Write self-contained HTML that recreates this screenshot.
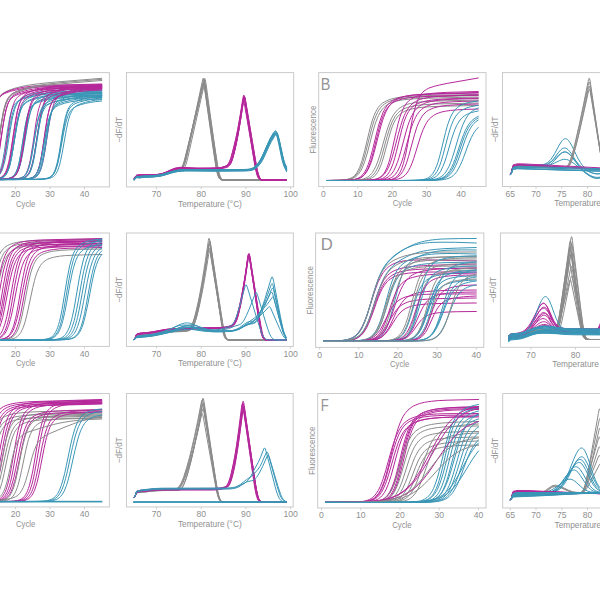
<!DOCTYPE html>
<html lang="en">
<head>
<meta charset="utf-8">
<title>qPCR amplification and melt curves</title>
<style>
html,body{margin:0;padding:0;background:#fff;}
body{width:600px;height:600px;overflow:hidden;font-family:"Liberation Sans", sans-serif;}
svg{display:block;}
</style>
</head>
<body>
<svg width="600" height="600" viewBox="0 0 600 600" role="img" aria-label="qPCR amplification and melt curve panels">
<rect width="600" height="600" fill="#fff"/>
<defs>
<clipPath id="cA"><rect x="-58.0" y="72.6" width="167.4" height="114.3"/></clipPath>
<clipPath id="cA2"><rect x="126.45" y="72.6" width="167.2" height="114.3"/></clipPath>
<clipPath id="cB"><rect x="318.7" y="72.6" width="167.3" height="113.9"/></clipPath>
<clipPath id="cB2"><rect x="502.5" y="72.6" width="167.5" height="113.9"/></clipPath>
<clipPath id="cC"><rect x="-58.0" y="233.0" width="167.4" height="113.4"/></clipPath>
<clipPath id="cC2"><rect x="126.45" y="233.0" width="166.9" height="113.4"/></clipPath>
<clipPath id="cD"><rect x="315.6" y="233.0" width="168.2" height="114.4"/></clipPath>
<clipPath id="cD2"><rect x="500.4" y="233.0" width="167.6" height="114.3"/></clipPath>
<clipPath id="cE"><rect x="-58.0" y="393.55" width="167.4" height="113.4"/></clipPath>
<clipPath id="cE2"><rect x="126.45" y="393.55" width="166.7" height="113.4"/></clipPath>
<clipPath id="cF"><rect x="317.7" y="393.55" width="168.3" height="114.4"/></clipPath>
<clipPath id="cF2"><rect x="502.7" y="393.55" width="167.3" height="114.4"/></clipPath>
</defs>
<g clip-path="url(#cA)" fill="none" stroke-linejoin="round" stroke-linecap="round">
<path d="M-50 179.6l15.5-0.3 4.3-0.2 3.4-0.5 2.6-0.7 1.8-0.8 0.8-0.6 0.9-0.8 0.8-1 0.9-1.3 0.9-1.6 0.8-2.1 0.9-2.6 0.9-3.1 0.8-3.8 1.7-9.4 4.4-28.7 1.7-9.4 0.8-3.7 0.9-3.2 0.9-2.7 0.8-2.1 0.9-1.8 0.9-1.4 0.8-1.2 0.9-1 0.8-0.8 1.8-1.3 2.6-1.5 2.5-1.2 3.5-1.3 3.4-1.2 3.5-0.9 4.3-1.1 4.3-0.8 4.3-0.7 8.7-1.2 12-1.2 50-4.1" stroke="#8b8b8b" stroke-width="1.0"/>
<path d="M-50 179.6l10.3-0.1 6.9-0.2 4.3-0.2 3.5-0.5 2.6-0.7 1.7-0.8 0.8-0.7 0.9-0.8 0.9-1 0.8-1.3 0.9-1.7 0.9-2.1 0.8-2.6 0.9-3.3 0.8-3.8 1.8-9.8 4.3-29.3 1.7-9.3 0.9-3.8 0.8-3 0.9-2.6 0.9-2.1 0.8-1.6 0.9-1.4 0.8-1.1 0.9-0.9 0.9-0.7 1.7-1.2 2.6-1.3 2.6-1 3.4-1.1 3.5-0.9 3.4-0.7 4.3-0.8 7.8-1 8.6-0.6 12.1-0.5 49.1-1.1" stroke="#b5289a" stroke-width="1.0"/>
<path d="M-50 179.6l15.5-0.3 4.3-0.2 3.4-0.4 2.6-0.7 1.8-0.8 0.8-0.6 0.9-0.8 0.8-0.9 0.9-1.2 0.9-1.6 0.8-1.9 0.9-2.5 0.9-3 0.8-3.6 1.7-9.1 3.5-22.8 1.7-10.6 0.9-4.5 0.8-3.8 0.9-3.3 0.9-2.7 0.8-2.2 0.9-1.8 0.9-1.5 0.8-1.1 0.9-1 0.8-0.8 1.8-1.3 1.7-0.9 2.6-1.1 3.4-1.2 3.5-0.9 3.4-0.8 4.3-0.9 4.4-0.6 4.3-0.4 8.6-0.7 12.1-0.5 50.9-1.1" stroke="#b5289a" stroke-width="1.0"/>
<path d="M-50 179.6l21.5-0.2 6.1-0.2 4.3-0.3 2.6-0.5 1.7-0.5 0.8-0.3 1.8-1.1 0.8-0.7 0.9-1 0.9-1.2 0.8-1.6 0.9-2 0.8-2.5 0.9-3.1 0.9-3.7 1.7-9.4 3.4-23.4 1.8-10.7 0.8-4.5 0.9-3.9 0.9-3.2 0.8-2.7 0.9-2.1 0.8-1.8 0.9-1.4 0.9-1.2 0.8-0.9 0.9-0.8 1.7-1.3 1.7-0.9 2.6-1.1 3.5-1.2 3.4-0.9 3.5-0.8 4.3-0.8 3.4-0.5 4.4-0.6 8.6-0.6 10.3-0.5 14.7-0.4 28.5-0.6" stroke="#b5289a" stroke-width="1.0"/>
<path d="M-50 179.6l23.2-0.2 6.1-0.2 4.3-0.4 2.6-0.5 1.7-0.6 0.9-0.4 1.7-1.2 0.9-0.8 0.8-1.1 0.9-1.4 0.8-1.7 0.9-2.1 0.9-2.6 0.8-3.2 0.9-3.8 1.7-9.3 3.5-22.3 1.7-10.1 0.9-4.2 0.8-3.6 0.9-3.1 0.8-2.6 0.9-2.1 0.9-1.7 0.8-1.4 0.9-1.2 0.8-0.9 0.9-0.8 1.7-1.3 1.8-0.9 2.6-1.2 2.5-0.8 3.5-1 3.4-0.9 4.4-0.8 3.4-0.5 4.3-0.5 8.6-0.7 10.4-0.5 14.7-0.4 27.5-0.6" stroke="#b5289a" stroke-width="1.0"/>
<path d="M-50 179.6l21.5-0.2 6.1-0.2 4.3-0.3 2.6-0.5 1.7-0.4 0.8-0.4 1.8-1.1 0.8-0.7 0.9-1 0.9-1.3 0.8-1.7 0.9-2.1 0.8-2.6 0.9-3.3 0.9-3.9 1.7-9.9 4.3-29.5 0.9-4.9 0.8-4.3 0.9-3.7 0.9-3 0.8-2.4 0.9-2 0.8-1.6 0.9-1.3 0.9-1.1 0.8-0.9 1.7-1.4 1.8-1.1 2.6-1.2 3.4-1.4 3.5-1.2 3.4-1.1 4.3-1.1 3.5-0.7 4.3-0.8 8.6-1.2 10.4-1.1 15.5-1.4 28.5-2.3" stroke="#8b8b8b" stroke-width="1.0"/>
<path d="M-50 179.6l22.4-0.2 6-0.3 3.5-0.3 2.6-0.5 1.7-0.6 0.8-0.5 0.9-0.5 0.9-0.7 0.8-0.9 0.9-1.1 0.9-1.4 0.8-1.7 0.9-2.2 0.8-2.7 0.9-3.3 0.9-3.8 1.7-9.4 4.3-27.4 1.7-8.8 0.9-3.6 0.9-3 0.8-2.5 0.9-2.1 0.8-1.7 0.9-1.5 0.9-1.1 0.8-1 0.9-0.8 1.7-1.4 1.7-1 2.6-1.3 3.5-1.3 3.4-1.2 3.5-1 4.3-1.1 3.4-0.7 4.4-0.7 8.6-1.2 10.3-1 14.7-1.3 28.5-2.3" stroke="#8b8b8b" stroke-width="1.0"/>
<path d="M-50 179.6l24.1-0.2 6-0.2 4.4-0.3 2.5-0.5 1.8-0.5 0.8-0.3 0.9-0.5 0.9-0.6 0.8-0.9 0.9-1 0.8-1.4 0.9-1.8 0.9-2.3 0.8-2.9 0.9-3.6 0.9-4.3 0.8-5.1 4.3-29.8 0.9-5.2 0.9-4.4 0.8-3.8 0.9-3.1 0.8-2.5 0.9-2 0.9-1.6 0.8-1.3 0.9-1 0.8-0.8 1.8-1.3 1.7-0.9 2.6-1.1 3.4-1.1 3.5-1 3.4-0.8 4.4-0.8 3.4-0.5 4.3-0.6 8.6-0.6 10.4-0.5 14.7-0.4 27.5-0.6" stroke="#b5289a" stroke-width="1.0"/>
<path d="M-50 179.6l27.6-0.1 6.9-0.2 5.1-0.3 3.5-0.5 1.7-0.5 0.9-0.3 1.7-1 0.9-0.7 0.8-0.8 0.9-1.1 0.8-1.3 0.9-1.7 0.9-2.1 0.8-2.6 0.9-3.1 0.9-3.6 1.7-8.9 3.4-21.2 1.7-9.6 0.9-4.1 0.9-3.5 0.8-3 0.9-2.5 0.9-2.1 0.8-1.7 0.9-1.4 0.9-1.2 0.8-0.9 0.9-0.8 1.7-1.3 1.7-1 2.6-1.1 2.6-0.9 3.4-0.9 3.5-0.8 3.5-0.7 3.4-0.5 4.3-0.6 7.8-0.6 10.3-0.5 13.8-0.4 22.5-0.5" stroke="#3a96b6" stroke-width="1.0"/>
<path d="M-50 179.6l26.7-0.1 6.9-0.2 5.2-0.3 3.4-0.4 2.6-0.8 1.7-0.9 0.9-0.6 0.9-0.9 0.8-1 0.9-1.4 0.8-1.7 0.9-2.1 0.9-2.6 0.8-3.2 0.9-3.8 1.7-9.2 4.3-26.6 1.7-8.4 0.9-3.3 0.9-2.7 0.8-2.3 0.9-1.8 0.9-1.5 0.8-1.2 1.8-1.8 0.8-0.7 1.7-1.1 1.8-0.9 2.6-1 2.5-0.8 3.5-0.9 3.4-0.8 3.5-0.6 3.4-0.5 4.4-0.5 7.7-0.6 10.4-0.5 13.8-0.4 23.2-0.5" stroke="#3a96b6" stroke-width="1.0"/>
<path d="M-50 179.6l25.8-0.1 6.9-0.2 5.2-0.3 3.5-0.4 1.7-0.4 0.8-0.3 1.8-1 0.8-0.6 0.9-0.9 0.9-1.2 0.8-1.5 0.9-2 0.8-2.4 0.9-3.1 0.9-3.8 1.7-9.6 3.4-23 0.9-5.2 0.9-4.5 0.8-3.9 0.9-3.3 0.8-2.6 0.9-2.1 0.9-1.6 0.8-1.4 0.9-1 0.9-0.9 0.8-0.7 1.8-1 2.5-1.2 2.6-0.9 3.5-1 3.4-0.8 3.5-0.8 3.4-0.6 7.8-0.9 7.8-0.6 10.3-0.4 13.8-0.4 24.2-0.5" stroke="#3a96b6" stroke-width="1.0"/>
<path d="M-50 179.6l26.7-0.1 6.9-0.2 5.2-0.3 3.4-0.4 2.6-0.7 1.7-0.9 0.9-0.7 0.9-0.8 0.8-1.1 0.9-1.4 0.8-1.9 0.9-2.4 0.9-3 0.8-3.6 0.9-4.4 0.9-5.1 4.3-30.2 0.8-5.2 0.9-4.5 0.8-3.7 0.9-3.1 0.9-2.5 0.8-2.1 0.9-1.5 0.9-1.3 0.8-1 0.9-0.9 1.7-1.2 1.7-1 2.6-1.1 3.5-1.1 3.4-1 3.5-0.8 3.4-0.7 3.5-0.5 4.3-0.6 7.8-0.6 10.3-0.6 13.8-0.4 24.2-0.5" stroke="#b5289a" stroke-width="1.0"/>
<path d="M-50 179.6l30.1-0.1 8.7-0.2 5.1-0.2 3.5-0.4 2.6-0.6 1.7-0.8 0.9-0.5 0.8-0.7 0.9-0.9 0.9-1.2 0.8-1.5 0.9-1.9 0.8-2.4 0.9-3 0.9-3.7 0.8-4.4 0.9-5.1 4.3-30 1.7-9.7 0.9-3.9 0.9-3.2 0.8-2.7 0.9-2.1 0.8-1.7 0.9-1.3 0.9-1.1 0.8-0.9 1.8-1.4 1.7-1 2.6-1.1 2.6-0.9 3.4-1.1 3.5-0.8 3.4-0.8 3.5-0.6 4.3-0.6 7.7-0.7 9.5-0.5 13-0.4 20.7-0.5" stroke="#b5289a" stroke-width="1.0"/>
<path d="M-50 179.6l30.1-0.1 7.8-0.2 5.2-0.2 3.4-0.4 2.6-0.6 1.7-0.7 0.9-0.5 0.9-0.7 0.8-0.8 0.9-1.1 0.9-1.4 0.8-1.8 0.9-2.3 0.8-2.7 0.9-3.4 0.9-4.1 1.7-9.9 2.6-17.4 1.7-10.9 0.9-4.7 0.8-4 0.9-3.3 0.9-2.8 0.8-2.3 0.9-1.9 0.8-1.5 0.9-1.2 0.9-1 0.8-0.8 1.8-1.3 1.7-0.9 2.6-1.1 2.6-0.9 3.4-1 3.5-0.8 3.4-0.7 3.5-0.6 4.3-0.6 7.7-0.6 9.5-0.5 13-0.4 20.7-0.5" stroke="#b5289a" stroke-width="1.0"/>
<path d="M-50 179.6l31-0.1 7.8-0.2 5.1-0.2 3.5-0.4 2.6-0.6 1.7-0.7 0.9-0.5 0.8-0.6 0.9-0.8 0.9-1 0.8-1.2 0.9-1.6 0.8-2 0.9-2.5 0.9-2.9 0.8-3.6 1.7-8.8 3.5-21.5 1.7-10 0.9-4.3 0.9-3.6 0.8-3.2 0.9-2.6 0.8-2.2 0.9-1.8 0.9-1.4 0.8-1.2 0.9-1 0.9-0.8 1.7-1.3 1.7-1 2.6-1.1 2.6-0.9 2.6-0.7 3.4-0.9 3.5-0.7 3.4-0.6 4.3-0.6 7.8-0.6 9.5-0.6 12.1-0.3 20.7-0.5" stroke="#b5289a" stroke-width="1.0"/>
<path d="M-50 179.6l31-0.1 8.6-0.2 5.2-0.2 3.5-0.4 2.5-0.7 1.8-0.7 0.8-0.5 0.9-0.7 0.9-0.9 0.8-1.1 0.9-1.4 0.8-1.7 0.9-2.3 0.9-2.7 0.8-3.3 0.9-3.8 1.7-9.5 2.6-16.4 1.7-10.3 1.8-8.2 0.8-3.2 0.9-2.7 0.8-2.2 0.9-1.8 0.9-1.5 0.8-1.2 0.9-1 0.9-0.8 1.7-1.3 1.7-0.9 1.7-0.7 2.6-1 3.5-1 3.4-0.8 3.5-0.7 3.4-0.6 4.3-0.6 7.8-0.7 9.5-0.5 12.1-0.3 20.7-0.5" stroke="#3a96b6" stroke-width="1.0"/>
<path d="M-50 179.6l31-0.1 8.6-0.2 5.2-0.2 3.5-0.4 2.5-0.6 1.8-0.8 0.8-0.5 0.9-0.7 0.9-0.8 0.8-1.1 0.9-1.4 0.8-1.8 0.9-2.2 0.9-2.7 0.8-3.2 1.7-8.2 4.4-25.9 0.8-4.8 0.9-4.2 0.9-3.7 0.8-3.1 0.9-2.5 0.8-2.2 0.9-1.7 0.9-1.4 0.8-1.2 0.9-0.9 0.9-0.8 1.7-1.2 1.7-0.9 1.7-0.8 2.6-0.9 3.5-0.9 3.4-0.8 3.5-0.7 3.4-0.6 4.3-0.5 7.8-0.7 9.5-0.5 12.1-0.4 20.7-0.4" stroke="#3a96b6" stroke-width="1.0"/>
<path d="M-50 179.6l31-0.1 8.6-0.2 5.2-0.2 3.5-0.3 2.5-0.6 1.8-0.7 0.8-0.4 0.9-0.7 0.9-0.8 0.8-1 0.9-1.3 0.8-1.8 0.9-2.1 0.9-2.7 0.8-3.3 0.9-4 0.8-4.5 3.5-21.7 1.7-10 0.9-4.2 0.9-3.6 0.8-2.9 0.9-2.4 0.8-2 0.9-1.5 0.9-1.3 0.8-1 0.9-0.8 0.9-0.7 1.7-1.1 1.7-0.8 2.6-1 2.6-0.7 3.4-0.9 3.5-0.8 3.4-0.6 3.5-0.6 4.3-0.5 6.9-0.5 9.5-0.5 12.1-0.4 20.7-0.4" stroke="#3a96b6" stroke-width="1.0"/>
<path d="M-50 179.6l35.3-0.1 15.5-0.2 4.4-0.3 3.4-0.4 2.6-0.6 1.7-0.8 1.7-1.2 0.9-0.9 0.9-1.1 0.8-1.4 0.9-1.7 0.9-2.1 0.8-2.6 0.9-3.1 1.7-7.8 1.7-9.7 3.5-20.6 1.7-8.3 0.9-3.4 0.8-2.9 0.9-2.4 0.9-2 0.8-1.7 0.9-1.3 0.8-1.1 0.9-1 1.7-1.4 1.8-1 1.7-0.9 2.6-1 2.6-0.8 3.4-0.9 3.5-0.7 4.3-0.8 7.7-0.9 8.7-0.6 11.2-0.5 16.3-0.4" stroke="#3a96b6" stroke-width="1.0"/>
<path d="M-50 179.6l35.3-0.1 15.5-0.2 4.4-0.2 3.4-0.5 2.6-0.6 1.7-0.8 0.9-0.6 0.8-0.7 0.9-0.9 0.9-1.2 0.8-1.5 0.9-1.8 0.9-2.3 0.8-2.8 0.9-3.4 1.7-8.4 4.3-25.8 1.7-8.6 0.9-3.5 0.9-3 0.8-2.5 0.9-2 0.9-1.6 0.8-1.4 0.9-1.1 0.8-0.9 1.8-1.4 1.7-1 1.7-0.8 2.6-1 3.5-1 3.4-0.8 3.5-0.7 4.3-0.7 7.7-0.9 8.7-0.6 11.2-0.4 16.3-0.4" stroke="#3a96b6" stroke-width="1.0"/>
<path d="M-50 179.6l33.6-0.1 15.5-0.2 4.3-0.2 3.5-0.3 2.6-0.6 1.7-0.7 0.8-0.5 0.9-0.6 0.9-0.8 0.8-1.1 0.9-1.4 0.9-1.7 0.8-2.2 0.9-2.8 0.9-3.4 1.7-8.6 4.3-26.9 1.7-8.7 0.9-3.4 0.8-2.8 0.9-2.3 0.9-1.8 0.8-1.5 0.9-1.2 0.9-1 1.7-1.4 1.7-1 1.7-0.8 2.6-0.9 3.5-1 4.3-1.1 3.4-0.7 4.3-0.6 7.8-0.9 8.6-0.6 11.2-0.4 18.2-0.4" stroke="#3a96b6" stroke-width="1.0"/>
<path d="M-50 179.6l35.3-0.1 15.5-0.3 4.4-0.2 2.5-0.4 2.6-0.6 1.7-0.8 0.9-0.7 0.9-0.8 0.8-1 0.9-1.4 0.9-1.7 0.8-2.2 0.9-2.8 0.9-3.4 0.8-4.1 0.9-4.7 4.3-27.1 0.9-4.6 0.8-3.9 0.9-3.3 0.8-2.7 0.9-2.2 0.9-1.7 0.8-1.4 0.9-1.1 0.9-0.9 1.7-1.4 1.7-0.9 1.7-0.8 2.6-0.8 3.5-1 4.3-1 3.4-0.7 4.3-0.7 7.8-0.8 8.6-0.6 11.2-0.4 18.2-0.4" stroke="#3a96b6" stroke-width="1.0"/>
<path d="M-50 179.6l34.5-0.1 16.3-0.2 4.4-0.3 3.4-0.4 2.6-0.7 1.7-0.8 0.9-0.6 0.8-0.8 0.9-1 0.9-1.3 0.8-1.6 0.9-2.1 0.9-2.6 0.8-3.2 0.9-3.9 1.7-9.7 4.3-29.1 1.7-9.2 0.9-3.7 0.9-3 0.8-2.5 0.9-2 0.9-1.6 0.8-1.3 0.9-1 1.7-1.6 1.7-1.2 1.8-0.9 2.5-1 3.5-1.1 3.4-0.9 3.5-0.8 4.3-0.8 3.5-0.5 4.3-0.5 8.6-0.7 11.2-0.4 17.2-0.5" stroke="#b5289a" stroke-width="1.0"/>
<path d="M-50 179.6l34.5-0.1 16.3-0.2 4.4-0.2 3.4-0.4 2.6-0.7 1.7-0.7 0.9-0.5 0.8-0.7 0.9-0.9 0.9-1.2 0.8-1.5 0.9-1.9 0.9-2.3 0.8-3 0.9-3.6 1.7-9.1 4.3-28.5 1.7-9.4 0.9-3.8 0.9-3.1 0.8-2.6 0.9-2.1 0.9-1.7 0.8-1.4 0.9-1.1 0.8-0.9 1.8-1.4 1.7-1 1.7-0.8 2.6-0.9 3.5-1.1 3.4-0.9 3.5-0.7 4.3-0.8 7.7-0.9 8.7-0.6 11.2-0.5 16.3-0.4" stroke="#b5289a" stroke-width="1.0"/>
<path d="M-50 179.6l43.9 0 18.1-0.3 5.2-0.3 3.5-0.4 2.6-0.7 1.7-0.8 0.9-0.6 0.8-0.7 0.9-1 0.8-1.1 0.9-1.5 0.9-1.9 0.8-2.3 0.9-2.8 0.9-3.4 1.7-8.6 1.7-10.6 2.6-17 1.7-9.9 0.9-4.1 0.8-3.5 0.9-3 0.9-2.5 0.8-2 0.9-1.7 0.9-1.3 0.8-1.2 0.9-0.9 1.7-1.4 1.7-1.1 1.8-0.9 2.5-1 3.5-1.1 3.4-0.9 3.5-0.7 6.9-1.2 6.9-0.7 9.5-0.6 12-0.4" stroke="#b5289a" stroke-width="1.0"/>
<path d="M-50 179.6l41.4-0.1 18.1-0.2 5.1-0.3 3.5-0.4 2.6-0.6 1.7-0.8 0.9-0.5 0.8-0.8 0.9-0.9 0.9-1.3 0.8-1.6 0.9-2 0.8-2.6 0.9-3.2 0.9-3.8 0.8-4.6 1.8-11 3.4-23.6 0.9-4.9 0.8-4.2 0.9-3.6 0.9-2.9 0.8-2.4 0.9-1.9 0.8-1.5 0.9-1.2 0.9-1 0.8-0.8 1.8-1.2 1.7-1 2.6-1 3.4-1.2 3.5-0.9 3.4-0.8 3.5-0.7 6.9-1 7.7-0.7 9.5-0.5 13-0.4" stroke="#b5289a" stroke-width="1.0"/>
<path d="M-50 179.6l43.9 0 18.1-0.3 5.2-0.2 3.5-0.4 2.6-0.6 1.7-0.7 0.9-0.6 0.8-0.6 0.9-0.9 0.8-1.1 0.9-1.4 0.9-1.8 0.8-2.2 0.9-2.8 0.9-3.4 0.8-4 0.9-4.6 4.3-28 1.7-9.6 0.9-3.9 0.8-3.3 0.9-2.7 0.9-2.2 0.8-1.8 0.9-1.4 0.9-1.2 0.8-1 1.7-1.4 1.8-1.1 1.7-0.8 2.6-1 3.4-1.1 3.5-0.9 3.4-0.7 6.9-1.1 7.8-0.8 9.5-0.6 12-0.4" stroke="#b5289a" stroke-width="1.0"/>
<path d="M-50 179.6l44.8 0 18.1-0.3 5.2-0.3 3.4-0.4 2.6-0.6 1.8-0.8 0.8-0.6 0.9-0.8 0.8-1 0.9-1.2 0.9-1.6 0.8-2 0.9-2.6 0.9-3.1 0.8-3.7 0.9-4.3 0.8-4.9 4.4-27.3 0.8-4.6 0.9-3.9 0.8-3.4 0.9-2.7 0.9-2.3 0.8-1.8 0.9-1.5 0.9-1.2 0.8-0.9 1.7-1.5 1.8-1 1.7-0.8 2.6-1 3.4-1.1 3.5-0.8 3.4-0.8 6.9-1.1 7.8-0.7 9.5-0.6 12-0.4" stroke="#3a96b6" stroke-width="1.0"/>
<path d="M-50 179.6l42.2 0 17.3-0.3 5.1-0.2 3.5-0.4 2.6-0.7 1.7-0.8 0.9-0.5 0.8-0.7 0.9-0.9 0.9-1.2 0.8-1.4 0.9-1.9 0.8-2.3 0.9-2.8 0.9-3.3 1.7-8.4 4.3-25.6 1.7-8.5 0.9-3.4 0.9-2.9 0.8-2.4 0.9-2 0.8-1.6 0.9-1.3 0.9-1 0.8-0.9 1.8-1.3 1.7-1 2.6-1.1 2.6-0.8 3.4-1 3.5-0.8 3.4-0.6 6.9-1 7.8-0.7 9.5-0.5 13.8-0.4" stroke="#3a96b6" stroke-width="1.0"/>
<path d="M-50 179.6l43.9 0 18.1-0.3 5.2-0.2 3.5-0.4 2.6-0.5 1.7-0.7 0.9-0.5 0.8-0.7 0.9-0.9 0.8-1.1 0.9-1.4 0.9-1.8 0.8-2.2 0.9-2.9 0.9-3.4 1.7-8.7 4.3-26.3 1.7-8.3 0.9-3.3 0.8-2.7 0.9-2.2 0.9-1.8 0.8-1.4 0.9-1.2 0.9-0.9 0.8-0.7 1.7-1.2 1.8-0.9 2.6-1 2.5-0.8 3.5-0.9 3.4-0.7 3.5-0.7 6-0.8 7.8-0.7 9.5-0.5 12-0.4" stroke="#3a96b6" stroke-width="1.0"/>
<path d="M-50 179.6l41.4 0 18.1-0.3 5.1-0.2 3.5-0.3 2.6-0.6 1.7-0.7 1.7-1.1 0.9-0.8 0.9-1 0.8-1.3 0.9-1.7 0.8-2.2 0.9-2.6 0.9-3.3 1.7-8.2 4.3-25.8 1.7-8.5 0.9-3.4 0.9-2.8 0.8-2.3 0.9-1.8 0.8-1.5 0.9-1.2 0.9-1 0.8-0.8 1.8-1.2 1.7-0.9 2.6-1 2.6-0.8 3.4-0.9 3.5-0.8 3.4-0.6 6.9-1 7.8-0.6 9.5-0.5 13.8-0.4" stroke="#3a96b6" stroke-width="1.0"/>
<path d="M-50 179.6l51.7 0 19.8-0.3 5.2-0.2 3.5-0.4 2.6-0.6 1.7-0.6 0.8-0.5 0.9-0.6 0.9-0.8 0.8-1 0.9-1.2 0.9-1.6 0.8-2 0.9-2.4 0.8-3 0.9-3.6 1.7-9 4.3-27.7 1.8-9.4 0.8-3.9 0.9-3.2 0.9-2.8 0.8-2.2 0.9-1.9 0.8-1.5 0.9-1.2 0.9-1 1.7-1.6 0.9-0.6 1.7-0.9 1.7-0.8 2.6-1 2.6-0.8 3.4-0.9 6.1-1.3 6.9-1 6.9-0.6 9.5-0.5" stroke="#b5289a" stroke-width="1.0"/>
<path d="M-50 179.6l50 0 19-0.3 5.1-0.2 3.5-0.3 2.6-0.5 1.7-0.6 0.9-0.4 0.8-0.6 0.9-0.7 0.8-0.9 0.9-1.3 0.9-1.5 0.8-2 0.9-2.5 0.9-3.1 0.8-3.8 1.7-9.5 4.4-28.9 0.8-4.9 0.9-4.2 0.8-3.5 0.9-3 0.9-2.3 0.8-2 0.9-1.5 0.9-1.2 0.8-1 1.7-1.5 1.8-1.1 1.7-0.8 2.6-1 2.6-0.8 6-1.6 6-1.1 6.9-0.9 7.8-0.6 10.3-0.5" stroke="#b5289a" stroke-width="1.0"/>
<path d="M-50 179.6l49.1 0 19.9-0.3 6-0.2 3.4-0.4 2.6-0.6 1.8-0.7 0.8-0.5 0.9-0.7 0.8-0.9 0.9-1.2 0.9-1.5 0.8-1.9 0.9-2.5 0.9-3.1 0.8-3.8 0.9-4.5 1.7-10.9 2.6-18 0.9-5.5 0.8-4.8 0.9-4.2 0.8-3.4 0.9-2.9 0.9-2.2 0.8-1.9 0.9-1.4 0.9-1.2 0.8-0.9 1.7-1.4 1.8-1 1.7-0.8 2.6-0.9 2.6-0.8 6-1.5 6-1.2 6.9-0.8 7.8-0.6 10.3-0.5" stroke="#b5289a" stroke-width="1.0"/>
<path d="M-50 179.6l51.7 0 19.8-0.3 5.2-0.2 3.5-0.3 2.6-0.5 1.7-0.6 0.8-0.4 0.9-0.6 0.9-0.7 0.8-1 0.9-1.2 0.9-1.6 0.8-2 0.9-2.5 0.8-3.2 0.9-3.8 1.7-9.5 3.5-22.7 1.7-9.6 0.9-3.8 0.8-3.2 0.9-2.7 0.9-2.1 0.8-1.7 0.9-1.4 0.8-1.1 1.8-1.6 0.8-0.6 1.8-0.9 1.7-0.8 2.6-0.9 6-1.7 6-1.2 6.9-1 7.8-0.7 10.3-0.5" stroke="#3a96b6" stroke-width="1.0"/>
<path d="M-50 179.6l50.8 0 19.9-0.3 5.2-0.2 3.4-0.3 2.6-0.6 1.7-0.6 0.9-0.4 0.8-0.6 0.9-0.8 0.9-0.9 0.8-1.3 0.9-1.6 0.9-2 0.8-2.4 0.9-3.1 0.8-3.6 0.9-4.2 1.7-10 2.6-16 1.7-9.2 0.9-3.7 0.9-3.2 0.8-2.6 0.9-2.2 0.9-1.7 0.8-1.4 0.9-1.1 0.8-1 1.8-1.4 2.6-1.4 2.5-1 2.6-0.8 6.1-1.5 6-1.1 6.9-0.9 7.8-0.6 9.5-0.4" stroke="#3a96b6" stroke-width="1.0"/>
<path d="M-50 179.6l50 0 19-0.2 5.1-0.3 3.5-0.3 2.6-0.5 1.7-0.6 0.9-0.4 0.8-0.6 0.9-0.7 0.8-0.9 0.9-1.1 0.9-1.4 0.8-1.8 0.9-2.2 0.9-2.7 0.8-3.2 1.7-8.1 4.4-24.6 1.7-8.3 0.8-3.4 0.9-2.8 0.9-2.4 0.8-1.9 0.9-1.6 0.9-1.3 0.8-1.1 0.9-0.9 1.7-1.3 1.7-1 1.8-0.7 4.3-1.5 6-1.4 6-1.1 6.9-0.8 7.8-0.6 10.3-0.4" stroke="#3a96b6" stroke-width="1.0"/>
<path d="M-50 179.6l50 0 19-0.2 5.1-0.3 3.5-0.3 2.6-0.5 1.7-0.6 0.9-0.4 0.8-0.6 0.9-0.7 0.8-0.9 0.9-1.2 0.9-1.4 0.8-1.9 0.9-2.2 0.9-2.8 0.8-3.3 1.7-8.2 4.4-24.4 1.7-7.9 0.8-3.2 0.9-2.7 0.9-2.2 0.8-1.8 0.9-1.5 0.9-1.2 0.8-1 0.9-0.8 1.7-1.2 1.7-0.9 1.8-0.7 4.3-1.4 6-1.4 6-1 6.9-0.8 7.8-0.6 10.3-0.4" stroke="#3a96b6" stroke-width="1.0"/>
<path d="M-50 179.6l63.8 0 21.5-0.2 6.1-0.3 3.4-0.3 2.6-0.6 1.7-0.6 0.9-0.5 0.9-0.6 0.8-0.8 0.9-1 0.9-1.3 0.8-1.7 0.9-2 0.8-2.6 0.9-3.2 0.9-3.7 0.8-4.4 0.9-4.8 3.4-21.4 1.8-9.1 0.8-3.7 0.9-3 0.8-2.6 0.9-2 0.9-1.7 0.8-1.4 0.9-1.1 0.9-0.9 1.7-1.3 2.6-1.4 3.4-1.3 5.2-1.4 5.2-1.1 6-1 6-0.6" stroke="#3a96b6" stroke-width="1.0"/>
<path d="M-50 179.6l62.9 0 21.6-0.2 6-0.2 4.3-0.4 2.6-0.4 1.7-0.6 0.9-0.4 0.9-0.5 0.8-0.6 0.9-0.9 0.9-1.1 0.8-1.4 0.9-1.9 0.8-2.3 0.9-2.8 0.9-3.4 1.7-8.7 3.4-21.3 1.8-9.4 0.8-3.8 0.9-3.2 0.8-2.7 0.9-2.1 0.9-1.8 0.8-1.4 0.9-1.1 0.9-0.9 1.7-1.4 2.6-1.4 3.4-1.2 5.2-1.4 5.2-1.1 6-1 6-0.6" stroke="#3a96b6" stroke-width="1.0"/>
<path d="M-50 179.6l64.6 0 21.6-0.2 6-0.2 4.4-0.3 2.5-0.5 1.8-0.5 0.8-0.4 1.8-1 0.8-0.8 0.9-0.9 0.8-1.2 0.9-1.5 0.9-1.9 0.8-2.3 0.9-2.8 0.9-3.4 1.7-8.2 4.3-24.1 1.7-7.9 0.9-3.2 0.8-2.7 0.9-2.2 0.9-1.9 0.8-1.5 0.9-1.2 0.9-1 1.7-1.5 0.8-0.6 1.8-1 2.6-1 4.3-1.4 5.1-1.2 5.2-0.9 6-0.7" stroke="#3a96b6" stroke-width="1.0"/>
<path d="M-50 179.6l63.8 0 21.5-0.2 6.1-0.3 3.4-0.3 2.6-0.5 1.7-0.6 0.9-0.5 1.7-1.2 0.9-0.9 0.9-1.1 0.8-1.4 0.9-1.7 0.8-2.1 0.9-2.6 0.9-3.1 1.7-7.7 4.3-23.4 1.7-8 0.9-3.2 0.8-2.8 0.9-2.4 0.9-1.9 0.8-1.6 0.9-1.3 0.9-1.1 0.8-0.9 1.8-1.3 2.5-1.4 3.5-1.3 5.2-1.4 5.1-1 5.2-0.8 6-0.6" stroke="#3a96b6" stroke-width="1.0"/>
</g>
<rect x="-58.0" y="72.6" width="167.4" height="114.3" fill="none" stroke="#cacaca" stroke-width="1"/>
<g clip-path="url(#cA2)" fill="none" stroke-linejoin="round" stroke-linecap="round">
<path d="M134.2 178.3l0.4-0.2 0.5-0.5 0.9-1.2 0.4-0.4 0.5-0.2 4-0.2 8.9-0.1 4.5-0.2 4-0.3 3.2-0.6 3.5-1 5.4-2 2.7-0.9 2.7-0.6 4-0.7 0.9-0.4 0.4-0.3 0.9-0.9 0.9-1.4 0.9-2.2 0.9-2.8 0.9-3.3 2.2-9.6 14.8-65.1 0.9-3.6 0.4-0.7 0.5 0.8 0.4 2.3 0.5 3.1 8.5 64 2.2 15.7 0.9 5.2 0.9 4 0.9 2.7 0.9 1.7 0.4 0.6 0.9 0.6 0.9 0.3 1.4 0.1 63 0" stroke="#8b8b8b" stroke-width="1.0"/>
<path d="M134.2 179.6l0.4-0.3 0.5-0.4 0.9-1.2 0.4-0.4 0.5-0.2 4-0.3 8.9-0.1 4.5-0.1 4-0.4 3.2-0.5 3.5-1.1 5.4-2 2.7-0.8 2.2-0.6 4-0.8 0.9-0.4 0.5-0.3 0.9-0.9 0.9-1.6 0.9-2.1 0.9-2.8 0.9-3.3 17.4-71.9 0.4-1.7 0.5-1.2 0.4 0.1 0.5 1.7 0.4 2.7 9 62.3 2.2 14.7 0.9 4.8 0.9 3.7 0.9 2.6 0.4 1 0.9 1.2 0.5 0.4 0.9 0.4 0.9 0.1 1.3 0.1 62.6 0" stroke="#8b8b8b" stroke-width="1.0"/>
<path d="M134.2 178.4l0.4-0.2 0.5-0.4 0.9-1.2 0.4-0.5 0.5-0.1 4-0.3 8.9-0.1 4.5-0.2 4-0.3 3.2-0.5 3.5-1.1 5.4-2 2.7-0.9 2.2-0.5 3.6-0.6 0.9-0.3 0.9-0.4 0.4-0.3 0.9-1.1 0.9-1.6 0.9-2.2 0.9-2.9 0.9-3.4 16.5-69.1 0.9-3.4 0.5-0.6 0.4 0.9 0.9 5.2 8.5 59.7 2.3 14.9 0.8 4.9 0.9 4 0.9 2.7 0.5 1 0.9 1.4 0.4 0.4 0.9 0.4 0.9 0.2 1.4 0.1 63 0" stroke="#8b8b8b" stroke-width="1.0"/>
<path d="M134.2 178.9l0.4-0.2 0.5-0.4 0.9-1.2 0.4-0.5 0.5-0.2 4-0.2 8.9-0.1 4.5-0.2 4-0.3 3.2-0.6 3.5-1 5.4-2 2.2-0.7 2.3-0.6 4-0.8 0.9-0.4 0.4-0.3 0.9-0.8 0.9-1.4 0.9-2.1 0.9-2.6 0.9-3.2 2.2-8.9 15.7-64.2 0.9-3.3 0.4-0.6 0.5 0.9 0.9 5.1 8.9 62.7 2.2 14.7 0.9 4.8 0.9 3.8 0.9 2.7 0.5 0.9 0.9 1.3 0.4 0.4 0.9 0.4 0.9 0.1 1.3 0.1 62.2 0" stroke="#8b8b8b" stroke-width="1.0"/>
<path d="M134.2 178.9l0.4-0.3 0.5-0.4 0.9-1.2 0.4-0.4 0.5-0.2 4-0.3 8.9-0.1 4.5-0.1 4-0.4 3.2-0.5 3.1-0.9 6.3-2.3 2.6-0.8 3.2-0.7 5.3-0.7 0.9-0.4 0.5-0.3 0.9-1 0.9-1.5 0.9-2.3 0.8-2.9 0.9-3.5 15.7-69.9 0.9-3.5 0.4-0.4 0.5 1.3 0.4 2.4 9.9 64.7 2.2 13.9 0.9 4.6 0.9 3.6 0.9 2.5 0.9 1.6 0.4 0.5 0.9 0.6 0.9 0.3 1.3 0.1 61.3 0" stroke="#8b8b8b" stroke-width="1.0"/>
<path d="M134.2 179.3l0.4-0.3 0.5-0.4 0.9-1.2 0.4-0.4 0.5-0.2 4-0.3 8.9-0.1 4.5-0.1 4-0.4 3.2-0.5 3.5-1 5.4-2 2.7-0.9 2.2-0.6 4-0.7 0.9-0.4 0.5-0.3 0.9-0.8 0.9-1.5 0.9-2 0.9-2.7 0.9-3.2 2.2-8.9 15.2-62.9 0.4-1.8 0.5-1.3 0.4-0.1 0.5 1.3 0.4 2.5 9.9 64.4 2.2 13.8 0.9 4.6 0.9 3.5 0.9 2.5 0.9 1.6 0.4 0.5 0.9 0.6 0.9 0.3 1.3 0.1 62.2 0" stroke="#8b8b8b" stroke-width="1.0"/>
<path d="M134.2 178.3l0.4-0.3 0.5-0.4 0.9-1.2 0.4-0.4 0.5-0.2 4-0.3 8.9-0.1 4.5-0.1 4-0.4 3.2-0.5 3.1-0.9 6.3-2.3 2.6-0.8 2.3-0.6 4-0.5 1.3-0.4 0.9-0.4 0.9-0.9 0.9-1.4 0.9-2.1 0.9-2.8 0.9-3.3 2.2-9.6 14.8-65.6 0.9-3.5 0.4-0.7 0.5 1 0.9 5.3 8.9 65.4 2.2 15.2 0.9 5 0.9 3.8 0.9 2.6 0.9 1.6 0.5 0.6 0.9 0.5 0.9 0.3 1.3 0.1 61.7 0" stroke="#8b8b8b" stroke-width="1.0"/>
<path d="M134.2 178.1l0.4-0.2 0.5-0.4 0.9-1.2 0.4-0.5 0.5-0.2 4-0.2 8.9-0.1 4.5-0.2 4-0.3 3.2-0.6 3.5-1 5.4-2 2.7-0.9 2.7-0.6 4-0.6 0.9-0.3 0.9-0.4 0.4-0.4 0.9-1.1 0.9-1.7 0.9-2.5 0.9-3.3 0.9-3.7 15.6-73.4 0.9-3.7 0.5-0.6 0.4 1 0.9 5.4 9 63.9 2.2 15.3 0.9 5.2 0.9 4.2 0.9 3 0.4 1.2 0.9 1.5 0.5 0.5 0.9 0.5 0.9 0.2 1.3 0.1 62.6 0" stroke="#8b8b8b" stroke-width="1.0"/>
<path d="M134.2 178l0.4-0.3 0.5-0.4 0.9-1.2 0.4-0.4 0.5-0.2 4-0.3 8.9-0.1 4.5-0.1 3.6-0.3 3.1-0.5 1.8-0.5 2.2-0.7 5.9-2.5 2.2-0.8 2.2-0.7 2.7-0.5 2.2-0.2 2.7-0.1 15.7 0.4 12.9-0.1 5.8-0.2 3.2-0.3 3.1-0.8 3.6-1.2 0.9-0.5 0.9-0.6 0.9-0.8 0.9-1.3 0.8-1.7 0.5-1.1 0.9-2.7 0.9-3.1 1.8-7.4 1.8-8.7 1.3-7.4 2.2-13.7 2.3-14.9 0.4-2.7 0.5-1.7 0.4 0 0.5 1.7 0.4 2.5 8 51.3 2.3 13.5 1.3 6.3 0.9 2.9 0.9 2 0.5 0.7 0.9 0.8 0.8 0.4 0.9 0.1 24.2 0.1" stroke="#b5289a" stroke-width="1.0"/>
<path d="M134.2 177.9l0.4-0.2 0.5-0.4 0.9-1.2 0.4-0.5 0.5-0.2 4-0.2 8.9-0.1 4.5-0.2 3.6-0.3 3.1-0.5 1.8-0.5 2.2-0.7 6.3-2.7 2.2-0.8 2.3-0.7 2.2-0.4 2.2-0.2 2.3-0.1 10.3 0.4 4.9 0.1 12.9-0.1 6.3-0.1 3.1-0.4 2.7-0.6 3.1-1.1 1.8-1 0.9-0.7 0.9-1.1 0.9-1.6 0.5-1 0.8-2.4 0.9-2.9 1.8-7.1 2.3-10 1.8-9.4 1.7-10.5 3.2-20.2 0.4-2 0.5-0.4 0.4 1.3 0.5 2.5 8.4 54.5 1.8 10.9 0.9 4.7 0.9 3.8 0.5 1.5 0.9 2.3 0.4 0.8 0.9 1 0.9 0.5 1.3 0.3 24.2 0" stroke="#b5289a" stroke-width="1.0"/>
<path d="M134.2 177.6l0.4-0.3 0.5-0.4 0.9-1.2 0.4-0.4 0.5-0.2 4-0.3 8.9-0.1 4.5-0.1 3.6-0.3 3.1-0.6 1.8-0.4 2.2-0.8 6.3-2.9 2.2-0.9 2.7-0.8 2.3-0.4 2.2-0.2 2.2 0 9 0.7 5.8 0.1 10.7 0 8-0.1 3.6-0.3 3.2-0.5 3.5-1 0.9-0.4 0.9-0.5 0.9-0.8 0.9-1.2 0.9-1.7 0.4-1 1.4-4.3 1.8-7.4 1.8-8.6 1.8-10 1.7-11.1 2.7-18.1 0.5-2.3 0.4-0.9 0.5 1 0.4 2.3 8.5 53.7 1.8 10.8 0.9 4.6 0.9 3.6 0.4 1.5 0.9 2.1 0.5 0.8 0.9 1 0.9 0.4 1.3 0.3 24.6 0" stroke="#b5289a" stroke-width="1.0"/>
<path d="M134.2 177.8l0.4-0.3 0.5-0.4 0.9-1.2 0.4-0.4 0.5-0.2 4-0.3 8.9-0.1 4.5-0.1 3.6-0.3 3.1-0.6 1.8-0.5 2.2-0.7 6.3-2.9 2.2-0.9 2.7-0.8 2.3-0.4 2.2-0.2 2.2 0 9 0.6 5.8 0.2 11.1 0 7.6-0.2 3.6-0.3 2.7-0.5 2.7-0.9 0.9-0.4 0.9-0.6 0.9-0.9 0.9-1.3 1.3-2.9 1.3-4.2 2.3-8.9 2.2-9.9 1.8-9 2.2-12.7 2.7-16.8 0.5-2.4 0.4-1.2 0.5 0.7 0.9 4.7 8.4 52.7 2.3 13.1 0.9 4.5 0.9 3.5 0.4 1.3 0.9 2 0.5 0.7 0.9 0.9 0.8 0.5 0.9 0.1 2.3 0.1 21.9 0" stroke="#b5289a" stroke-width="1.0"/>
<path d="M134.2 177.8l0.4-0.3 0.5-0.4 0.9-1.2 0.4-0.4 0.5-0.2 4-0.3 8.9-0.1 4.5-0.1 3.6-0.3 3.1-0.5 1.8-0.5 2.2-0.7 5.9-2.4 2.2-0.8 2.2-0.7 2.7-0.5 2.2-0.2 2.7-0.1 15.7 0.3 12-0.1 5.8-0.1 2.7-0.3 2.7-0.5 2.7-0.8 1.8-0.9 0.9-0.8 0.9-1 1.3-2.3 1.4-3.5 1.7-6.2 3.2-12.6 1.8-8.1 2.2-11.7 2.7-15.6 0.4-2.3 0.5-1.2 0.4 0.5 0.5 1.8 0.4 2.4 8.5 49.3 2.2 12.4 0.9 4.2 0.9 3.4 0.5 1.3 0.9 2 0.4 0.7 0.9 0.9 0.9 0.5 1.3 0.2 24.2 0" stroke="#b5289a" stroke-width="1.0"/>
<path d="M134.2 178.6l0.4-0.3 0.5-0.4 0.9-1.2 0.4-0.4 0.5-0.2 4-0.3 8.9-0.1 4.5-0.1 3.6-0.3 3.1-0.6 1.8-0.4 2.2-0.8 6.3-2.9 2.2-0.9 2.7-0.8 2.3-0.4 2.2-0.2 2.2 0.1 9 0.6 5.8 0.1 10.3 0 8.4-0.1 4.1-0.3 3.1-0.5 3.1-0.7 0.9-0.3 0.9-0.5 0.9-0.9 0.9-1.2 0.9-1.8 0.4-1.1 1.4-4.4 1.3-5.6 2.3-10.8 1.8-9.9 1.7-11 3.2-20.7 0.4-1.8 0.5-0.2 0.4 1.4 0.5 2.3 9.3 55.2 1.8 10 0.9 4.3 0.9 3.5 0.5 1.4 0.9 2.1 0.4 0.8 0.9 1 0.9 0.4 1.3 0.3 23.3 0" stroke="#b5289a" stroke-width="1.0"/>
<path d="M134.2 178.8l0.4-0.3 0.5-0.4 0.9-1.2 0.4-0.4 0.5-0.2 4-0.3 8.9-0.1 4.5-0.2 3.6-0.3 3.1-0.5 1.8-0.5 2.2-0.7 6.3-2.8 2.2-0.8 2.3-0.7 2.2-0.4 2.2-0.2 2.7-0.1 9.9 0.5 6.7 0.1 11.6 0 5.8-0.2 3.1-0.3 2.7-0.6 3.1-1.2 1.4-0.6 0.9-0.6 0.9-0.8 0.9-1.1 0.9-1.6 0.4-1 0.9-2.4 0.9-3 1.8-6.8 2.2-10 1.8-9.3 1.8-10.4 3.1-19.8 0.5-1.9 0.4-0.4 0.5 1.3 0.4 2.3 10.7 63.8 0.9 4.6 0.9 3.8 0.5 1.5 0.9 2.4 0.4 0.9 0.9 1.1 0.9 0.6 1.3 0.3 23.3 0.1" stroke="#b5289a" stroke-width="1.0"/>
<path d="M134.2 178.7l0.4-0.3 0.5-0.4 0.9-1.2 0.4-0.4 0.5-0.2 4-0.3 8.9-0.1 4.5-0.1 3.6-0.3 3.1-0.6 1.8-0.5 2.2-0.8 6.3-2.8 2.2-0.9 2.7-0.8 2.3-0.4 2.2-0.2 2.2 0 9.4 0.7 5.8 0.1 12.1 0 6.7-0.2 3.1-0.3 2.7-0.6 3.6-1.3 1.3-0.6 0.9-0.5 0.9-0.8 0.9-1.1 0.9-1.6 0.4-1 0.9-2.4 0.9-3 1.8-7.2 1.8-8.3 1.8-9.7 1.8-10.9 3.1-20.7 0.5-2.1 0.4-0.4 0.5 1.2 0.4 2.3 10.7 64.5 0.9 4.7 0.9 3.8 0.5 1.6 0.9 2.4 0.4 0.8 0.9 1.2 0.9 0.6 1.3 0.3 2.3 0.1 21 0" stroke="#b5289a" stroke-width="1.0"/>
<path d="M134.2 179.4l0.4-0.3 0.5-0.4 0.9-1.2 0.4-0.4 0.5-0.2 2.2 0.4 4-0.5 9.9-0.4 4.9-0.5 2.7-0.5 2.7-0.6 8-2.4 3.1-0.8 3.2-0.6 3.5-0.5 3.6-0.2 4.5 0 25.9 0.2 28.6-0.2 4.9-0.3 1.8-0.3 1.4-0.3 1.3-0.6 0.9-0.5 1.8-1.4 2.2-2.5 1.8-2.4 1.3-2.3 1.4-2.7 5.4-12.3 2.2-4.6 1.8-3.2 1.8-2.8 0.9-1.2 0.4-0.4 0.5-0.2 0.4 0.1 0.4 0.5 0.5 0.8 0.4 1.2 0.5 1.5 0.9 3.9 3.1 15.7 1.4 5.7 1.3 4.3 0.9 2 1.3 2.6" stroke="#3a96b6" stroke-width="1.0"/>
<path d="M134.2 180.1l0.4-0.3 0.5-0.4 0.9-1.2 0.4-0.4 0.5-0.2 2.2 0.4 4-0.5 9.9-0.5 4.9-0.5 2.7-0.4 2.7-0.6 8-2.4 3.1-0.9 3.2-0.6 3.5-0.4 3.6-0.2 4.5-0.1 25.9 0.3 29.5-0.3 4.9-0.2 1.8-0.3 1.4-0.4 1.3-0.5 0.9-0.5 1.8-1.4 2.2-2.5 1.8-2.5 1.3-2.3 1.4-2.7 5.3-12.4 2.3-4.5 1.8-3.2 1.8-2.9 0.9-1.2 0.4-0.4 0.4-0.2 0.5 0.1 0.4 0.5 0.5 0.8 0.4 1.2 1.4 5.1 2.7 12.7 1.3 5.7 1.3 4.3 0.9 1.9 0.9 1.5" stroke="#3a96b6" stroke-width="1.0"/>
<path d="M134.2 179.1l0.4-0.3 0.5-0.4 0.9-1.2 0.4-0.4 0.5-0.2 2.2 0.4 4-0.5 9.9-0.5 4.9-0.5 2.7-0.4 2.7-0.6 8-2.4 3.1-0.9 3.2-0.6 3.5-0.4 3.6-0.2 4.5-0.1 25.9 0.3 29.1-0.3 4.9-0.2 1.8-0.3 1.3-0.4 1.3-0.5 0.9-0.5 1.8-1.4 2.3-2.3 1.8-2.4 1.3-2.2 1.3-2.5 5.4-11.5 2.2-4.2 1.8-2.9 2.3-3.2 0.9-0.9 0.4-0.3 0.4-0.1 0.5 0.2 0.4 0.6 0.5 1 0.9 2.9 0.9 3.8 3.1 15.1 1.3 5.2 0.5 1.4 0.9 2.2 1.3 2.5" stroke="#3a96b6" stroke-width="1.0"/>
<path d="M134.2 179.1l0.4-0.2 0.5-0.4 0.9-1.2 0.4-0.5 0.5-0.1 2.2 0.3 4-0.5 9.9-0.4 4.9-0.5 2.7-0.4 2.7-0.7 8-2.4 3.1-0.8 3.2-0.6 3.5-0.4 3.6-0.2 4.5-0.1 25.9 0.2 28.6-0.2 2.7-0.1 2.2-0.2 1.8-0.3 1.4-0.3 1.3-0.6 0.9-0.6 1.8-1.4 2.2-2.5 1.8-2.6 1.3-2.4 1.4-2.7 5.4-12.8 2.2-4.8 1.8-3.3 1.8-2.8 0.9-1.1 0.4-0.3 0.5-0.1 0.4 0.2 0.4 0.6 0.5 0.9 0.9 3 1.3 6 2.7 13.4 0.9 4 0.9 3.4 1.3 4 1.8 3.7" stroke="#3a96b6" stroke-width="1.0"/>
<path d="M134.2 178.7l0.4-0.2 0.5-0.4 0.9-1.2 0.4-0.5 0.5-0.1 2.2 0.3 4-0.5 9.9-0.4 4.9-0.5 2.7-0.4 2.7-0.7 8-2.4 3.1-0.8 3.2-0.6 3.5-0.4 3.6-0.2 4.5-0.1 25.9 0.2 28.2-0.2 4.9-0.2 1.8-0.3 1.3-0.4 1.4-0.5 0.8-0.5 1.8-1.4 2.3-2.3 1.8-2.4 1.3-2.2 1.8-3.4 5.4-11.6 2.2-4.5 1.8-3.1 1.3-2.1 0.9-1.2 0.5-0.3 0.4-0.2 0.5 0.1 0.4 0.5 0.4 0.9 0.9 2.8 1.4 5.9 2.7 13.3 0.9 3.9 0.9 3.3 1.3 3.6 2.2 4.4" stroke="#3a96b6" stroke-width="1.0"/>
<path d="M134.2 179.9l0.4-0.2 0.5-0.5 0.9-1.2 0.4-0.4 0.5-0.2 2.2 0.4 4-0.5 9.9-0.4 4.9-0.5 2.7-0.5 2.7-0.6 8-2.4 3.1-0.8 3.2-0.6 3.5-0.4 3.6-0.3 4.5 0 25.9 0.2 28.6-0.2 2.7-0.1 2.2-0.2 1.8-0.3 1.4-0.4 1.3-0.5 0.9-0.6 1.8-1.4 2.2-2.4 1.8-2.4 1.3-2.3 1.4-2.5 5.4-11.9 2.2-4.5 1.8-3 2.2-3.3 0.9-1.1 0.5-0.3 0.4-0.2 0.4 0.1 0.5 0.5 0.4 0.8 0.9 2.6 1.4 5.8 2.7 12.8 1.3 5.6 1.3 4 0.9 1.9 0.9 1.6" stroke="#3a96b6" stroke-width="1.0"/>
<path d="M134.2 178.6l0.4-0.2 0.5-0.5 0.9-1.1 0.4-0.5 0.5-0.1 2.2 0.3 4-0.5 9.9-0.4 4.9-0.5 2.7-0.4 2.7-0.7 8-2.4 3.1-0.8 3.2-0.6 3.5-0.4 3.6-0.2 4.5-0.1 25.9 0.2 28.2-0.2 4.9-0.2 1.8-0.3 1.3-0.4 1.4-0.6 0.8-0.5 1.8-1.3 2.3-2.4 1.8-2.5 1.3-2.2 1.8-3.5 5.4-12.1 2.2-4.6 1.8-3.2 1.8-2.8 0.9-1.2 0.4-0.5 0.5-0.2 0.4 0 0.4 0.4 0.5 0.7 0.9 2.5 1.3 5.6 3.2 15.1 1.3 5.5 1.3 4.1 0.9 1.9 0.9 1.6" stroke="#3a96b6" stroke-width="1.0"/>
<path d="M134.2 179.3l0.4-0.2 0.5-0.5 0.9-1.1 0.4-0.5 0.5-0.1 2.2 0.3 4-0.5 9.9-0.4 4.9-0.5 2.7-0.5 2.7-0.6 8-2.4 3.1-0.8 3.2-0.6 3.5-0.4 3.6-0.2 4.5-0.1 25.9 0.2 28.6-0.2 4.9-0.3 1.8-0.2 1.4-0.4 1.3-0.5 0.9-0.5 1.8-1.4 2.2-2.3 1.8-2.4 1.3-2.2 1.4-2.6 1.8-3.9 3.6-8.2 2.2-4.5 1.8-3.1 1.8-2.6 0.9-1.1 0.4-0.3 0.5-0.2 0.4 0.2 0.4 0.4 0.5 0.8 0.9 2.6 0.9 3.6 3.1 14.3 1.4 5.5 0.8 3 0.9 2.4 0.9 1.9 0.9 1.5" stroke="#3a96b6" stroke-width="1.0"/>
<path d="M134.2 179.6l0.4-0.3 0.5-0.4 0.9-1.2 0.4-0.4 0.5-0.2 2.2 0.4 4-0.6 9.9-0.4 4.9-0.5 2.7-0.4 2.7-0.6 8-2.5 3.1-0.8 3.2-0.6 3.5-0.4 3.6-0.2 4.5-0.1 25.9 0.3 30-0.3 4.9-0.2 1.8-0.3 1.3-0.3 1.3-0.6 0.9-0.4 1.8-1.3 1.8-1.9 2.2-2.8 1.4-2.2 1.3-2.6 4.9-10.8 2.7-5.4 3.2-5.2 0.9-1.2 0.4-0.5 0.4-0.2 0.5 0 0.4 0.4 0.5 0.8 0.9 2.5 0.9 3.5 2.7 12.5 1.3 5.6 1.3 4.2 0.9 1.9 0.9 1.4" stroke="#3a96b6" stroke-width="1.0"/>
</g>
<rect x="126.45" y="72.6" width="167.2" height="114.3" fill="none" stroke="#cacaca" stroke-width="1"/>
<g clip-path="url(#cB)" fill="none" stroke-linejoin="round" stroke-linecap="round">
<path d="M326.8 180.5l8.6-0.1 5.2-0.2 3.4-0.3 3.5-0.6 2.6-0.8 1.7-0.8 0.8-0.5 1.8-1.4 1.7-2 1.7-2.7 1.7-3.5 1.7-4.6 0.9-2.7 2.6-9.6 4.3-18.2 1.7-6.6 1.7-5.8 1.7-4.8 1.8-3.8 0.8-1.6 1.7-2.6 0.9-1.1 1.7-1.8 1.7-1.4 1.8-1.1 1.7-0.9 2.6-1.1 2.5-0.9 2.6-0.6 2.6-0.6 3.4-0.5 6.9-0.7 7.8-0.5 11.1-0.5 52.5-1.3" stroke="#8b8b8b" stroke-width="1.0"/>
<path d="M326.8 180.5l8.6-0.1 5.2-0.1 3.4-0.3 3.5-0.5 2.6-0.6 2.5-1.1 1.8-1.1 0.8-0.7 1.7-1.9 1.8-2.4 1.7-3.3 1.7-4.2 0.9-2.5 0.8-2.7 1.7-6.1 6.1-24 1.7-5.9 0.8-2.6 1.8-4.5 1.7-3.6 0.8-1.5 1.8-2.6 0.8-1 1.7-1.8 1.8-1.4 1.7-1.1 1.7-0.9 2.6-1.1 1.7-0.6 2.6-0.7 2.6-0.5 3.4-0.6 6.9-0.8 7.7-0.5 11.2-0.4 51.6-1.3" stroke="#8b8b8b" stroke-width="1.0"/>
<path d="M326.8 180.5l8.6-0.1 6.1-0.1 4.3-0.4 3.4-0.5 2.6-0.7 2.6-1.1 1.7-1.2 0.8-0.7 1.8-1.9 1.7-2.4 1.7-3.3 1.7-4.1 0.9-2.4 2.6-8.6 6-22.9 1.7-5.7 0.9-2.5 1.7-4.4 0.8-1.9 1.8-3.2 0.8-1.4 1.7-2.2 0.9-1 1.7-1.6 1.7-1.2 1.8-1.1 1.7-0.8 2.6-1 4.3-1.2 2.5-0.6 3.5-0.5 6.9-0.7 7.7-0.5 10.3-0.4 49.9-1.2" stroke="#8b8b8b" stroke-width="1.0"/>
<path d="M326.8 180.5l17.2-0.2 5.2-0.2 3.4-0.4 1.8-0.3 1.7-0.5 2.6-1 1.7-1.1 0.8-0.7 1.8-1.7 1.7-2.4 1.7-3.1 1.7-4 1.7-5.1 2.6-9.3 4.3-17.7 1.7-6.7 1.8-5.8 1.7-4.9 0.8-2.2 1.8-3.5 0.8-1.5 1.7-2.5 0.9-1.1 1.7-1.7 1.7-1.4 1.8-1.1 1.7-1 2.6-1.1 1.7-0.6 2.6-0.7 2.5-0.5 3.5-0.6 6.9-0.8 7.7-0.5 10.3-0.4 45.6-1.2" stroke="#b5289a" stroke-width="1.0"/>
<path d="M326.8 180.5l19-0.2 5.1-0.2 3.5-0.4 1.7-0.4 1.7-0.4 1.7-0.7 0.9-0.4 1.7-1.2 0.9-0.7 1.7-1.8 1.7-2.6 1.7-3.3 1.7-4.4 0.9-2.6 0.9-2.8 1.7-6.3 4.3-17.8 1.7-6.7 1.7-5.8 1.7-5 0.9-2.1 1.7-3.5 0.9-1.5 1.7-2.4 0.9-1.1 1.7-1.7 1.7-1.3 1.7-1.1 1.7-0.9 2.6-1 4.3-1.3 2.6-0.5 3.4-0.6 6.9-0.7 7.8-0.5 10.3-0.4 44.7-1.2" stroke="#b5289a" stroke-width="1.0"/>
<path d="M326.8 180.5l12.1-0.1 6.9-0.1 5.1-0.3 3.5-0.4 1.7-0.3 1.7-0.5 2.6-1 1.7-1 0.9-0.7 1.7-1.6 1.7-2.2 1.7-2.9 1.7-3.7 1.8-4.6 2.5-8.6 5.2-20.3 1.7-6.4 1.7-5.6 0.9-2.6 1.7-4.4 0.9-1.8 1.7-3.3 0.9-1.3 1.7-2.3 0.8-1 1.8-1.6 1.7-1.3 1.7-1.1 1.7-0.9 2.6-1 1.7-0.6 2.6-0.7 5.2-1 6.8-0.7 6.9-0.5 10.3-0.4 43.9-1.2" stroke="#b5289a" stroke-width="1.0"/>
<path d="M326.8 180.5l22.4-0.1 5.2-0.2 4.3-0.4 3.4-0.5 1.7-0.5 1.7-0.6 1.8-0.9 0.8-0.5 1.7-1.4 1.8-1.8 0.8-1.1 1.7-2.8 1.8-3.5 1.7-4.3 2.6-7.8 5.1-18.3 1.7-5.7 1.8-5.1 0.8-2.2 1.7-4 0.9-1.7 1.7-2.9 0.9-1.2 1.7-2.1 0.9-0.9 1.7-1.5 1.7-1.2 1.7-1 1.7-0.8 1.8-0.7 1.7-0.6 2.6-0.7 5.1-0.9 6.9-0.8 6.9-0.4 9.4-0.4 39.6-1" stroke="#8b8b8b" stroke-width="1.0"/>
<path d="M326.8 180.5l25-0.1 5.1-0.1 4.3-0.3 3.5-0.6 1.7-0.4 1.7-0.6 1.7-0.8 0.9-0.6 1.7-1.4 1.7-1.8 1.8-2.6 1.7-3.3 1.7-4.2 0.9-2.5 1.7-5.5 5.1-18.9 1.8-5.8 1.7-5 1.7-4.2 0.9-1.8 1.7-3.1 0.8-1.2 1.8-2.1 0.8-0.9 1.7-1.5 1.8-1.1 1.7-1 1.7-0.8 2.6-0.9 4.3-1.1 5.1-0.9 6.1-0.6 6.8-0.5 9.5-0.4 38.7-0.9" stroke="#8b8b8b" stroke-width="1.0"/>
<path d="M326.8 180.5l25.8-0.1 6.1-0.1 4.3-0.2 3.4-0.4 1.7-0.4 1.7-0.5 1.8-0.7 0.8-0.5 1.7-1.2 1.8-1.7 1.7-2.4 1.7-3.2 1.7-4.1 0.9-2.5 1.7-5.5 5.2-19.3 1.7-5.9 1.7-5 1.7-4.1 1.7-3.2 0.9-1.3 1.7-2.2 0.9-0.9 1.7-1.5 1.7-1.2 1.7-0.9 1.8-0.8 2.5-0.9 4.3-1.1 5.2-0.9 6-0.7 6.9-0.4 9.5-0.4 37.8-0.9" stroke="#8b8b8b" stroke-width="1.0"/>
<path d="M326.8 180.5l31.9-0.1 6.8-0.1 4.3-0.2 3.5-0.4 1.7-0.3 1.7-0.5 1.7-0.7 0.9-0.4 1.7-1.2 0.9-0.7 1.7-2 1.7-2.7 1.7-3.7 1.8-4.8 0.8-2.8 1.7-6.6 5.2-23 1.7-7.1 1.7-6 1.8-5 1.7-3.9 0.8-1.6 1.8-2.7 0.8-1.1 1.7-1.8 1.8-1.4 1.7-1.1 1.7-1 1.7-0.7 1.7-0.7 2.6-0.8 2.6-0.6 2.6-0.5 6-0.8 6.9-0.6 8.6-0.5 31.8-0.9" stroke="#b5289a" stroke-width="1.0"/>
<path d="M326.8 180.5l31.9-0.1 6.8-0.1 4.3-0.2 4.3-0.6 1.8-0.3 1.7-0.5 2.6-1.2 1.7-1.1 0.8-0.7 1.8-1.7 0.8-1.1 1.7-2.7 1.8-3.5 1.7-4.3 1.7-5.2 1.7-6 4.3-16.6 2.6-9.2 1.7-5.3 1.7-4.4 0.9-2 1.7-3.2 0.9-1.4 1.7-2.4 0.9-1 1.7-1.7 1.7-1.3 1.7-1.1 1.7-0.9 1.8-0.8 1.7-0.6 2.6-0.7 4.3-1 6-0.8 6-0.5 8.6-0.4 30.1-0.9" stroke="#b5289a" stroke-width="1.0"/>
<path d="M326.8 180.5l33.6 0 11.2-0.2 3.4-0.3 3.4-0.4 2.6-0.6 1.7-0.7 0.9-0.4 1.7-1.2 0.9-0.7 1.7-1.9 1.7-2.6 1.7-3.5 1.8-4.5 1.7-5.7 1.7-6.6 5.2-21.3 1.7-6 0.8-2.7 1.8-4.5 0.8-1.9 1.7-3.1 1.8-2.4 0.8-1 1.7-1.6 1.8-1.3 1.7-1 1.7-0.9 2.6-1 2.6-0.8 2.5-0.6 2.6-0.5 3.5-0.5 6.8-0.7 8.6-0.5 11.2-0.4 19.8-0.5" stroke="#b5289a" stroke-width="1.0"/>
<path d="M326.8 180.5l35.3 0 12-0.3 4.3-0.3 3.5-0.5 2.6-0.6 2.5-1.1 1.8-1.1 0.8-0.7 1.7-1.8 1.8-2.3 0.8-1.4 1.7-3.5 1.8-4.4 1.7-5.2 1.7-6 5.2-19.4 1.7-5.8 1.7-4.9 1.7-4.1 0.9-1.8 1.7-3 1.7-2.4 0.9-0.9 1.7-1.7 1.7-1.4 1.7-1.1 1.8-0.8 1.7-0.8 1.7-0.6 2.6-0.7 2.6-0.6 3.4-0.6 6-0.7 8.6-0.6 11.2-0.4 17.2-0.5" stroke="#b5289a" stroke-width="1.0"/>
<path d="M326.8 180.5l39.6 0 12-0.3 4.3-0.3 3.5-0.5 2.6-0.6 2.5-1.2 1.8-1.1 0.8-0.7 1.7-1.8 1.8-2.5 0.8-1.5 1.7-3.6 1.8-4.5 1.7-5.4 1.7-6.1 4.3-16.1 1.7-5.8 1.7-5 1.8-4.1 0.8-1.8 1.7-3 1.8-2.4 0.8-1 1.7-1.7 1.8-1.3 1.7-1 1.7-0.9 1.7-0.7 1.7-0.6 2.6-0.8 2.6-0.6 3.4-0.5 6.1-0.7 7.7-0.6 10.3-0.4 15.5-0.4" stroke="#b5289a" stroke-width="1.0"/>
<path d="M326.8 180.5l43.9 0 12.9-0.2 4.3-0.3 3.4-0.5 2.6-0.6 2.6-1.1 1.7-1.1 0.9-0.6 1.7-1.8 1.7-2.5 0.9-1.5 1.7-3.6 1.7-4.6 1.7-5.5 6.1-22.2 1.7-5.5 0.8-2.5 1.8-4.3 1.7-3.4 1.7-2.7 0.9-1.1 1.7-1.9 1.7-1.5 1.7-1.1 1.7-0.9 1.8-0.8 1.7-0.7 2.6-0.7 2.5-0.6 2.6-0.5 6-0.8 6.9-0.5 9.5-0.5 14.6-0.4" stroke="#b5289a" stroke-width="1.0"/>
<path d="M326.8 180.5l46.5 0 13.7-0.2 5.2-0.3 3.4-0.4 2.6-0.6 2.6-0.9 1.7-0.9 0.9-0.6 1.7-1.5 0.9-0.9 1.7-2.2 0.8-1.4 1.8-3.3 1.7-4 1.7-4.8 1.7-5.3 4.3-14.1 1.7-5.1 1.8-4.5 1.7-3.7 1.7-3.1 1.7-2.5 0.9-1 1.7-1.7 2.6-2 1.7-1 1.7-0.9 1.7-0.6 2.6-0.9 4.3-0.9 5.2-0.8 6.9-0.6 8.6-0.4 12-0.4" stroke="#b5289a" stroke-width="1.0"/>
<path d="M326.8 180.5l70.6 0 16.3-0.2 5.2-0.2 4.3-0.6 2.5-0.6 1.8-0.7 0.8-0.5 1.7-1.1 0.9-0.8 1.7-2 1.7-2.7 0.9-1.7 1.7-4.2 0.9-2.5 1.7-5.8 1.7-6.6 4.3-17.7 1.7-6.3 0.9-2.7 1.7-4.8 1.7-3.8 1.8-2.9 1.7-2.2 1.7-1.8 0.9-0.7 1.7-1.2 2.6-1.4 3.4-1.3 3.4-1 4.3-0.8 5.2-0.7" stroke="#3a96b6" stroke-width="1.0"/>
<path d="M326.8 180.5l72.3 0 16.3-0.1 5.2-0.2 4.3-0.5 2.6-0.5 2.5-0.9 1.8-1 0.8-0.6 1.7-1.6 0.9-1 1.7-2.5 0.9-1.6 1.7-3.8 1.7-4.9 1.7-5.8 5.2-19.7 1.7-5.9 0.9-2.7 0.8-2.4 1.8-4.1 0.8-1.7 1.7-2.9 1.8-2.2 1.7-1.8 0.8-0.7 1.8-1.2 2.5-1.3 2.6-1.1 3.5-1 3.4-0.7 4.3-0.7" stroke="#3a96b6" stroke-width="1.0"/>
<path d="M326.8 180.5l74.9 0 16.3-0.1 5.2-0.2 4.3-0.4 3.4-0.7 2.6-1 1.7-1 0.9-0.6 1.7-1.5 0.8-1 1.8-2.4 0.8-1.5 1.7-3.6 1.8-4.5 1.7-5.2 5.1-17.6 2.6-7.7 0.9-2.2 1.7-3.9 0.9-1.6 1.7-2.8 1.7-2.1 1.7-1.7 1.7-1.4 1.8-1 2.5-1.3 2.6-0.9 3.5-0.9 3.4-0.7" stroke="#3a96b6" stroke-width="1.0"/>
<path d="M326.8 180.5l46.5 0 11.2-0.2 4.3-0.4 2.5-0.4 1.8-0.6 0.8-0.3 1.7-1 1.8-1.5 0.8-1 0.9-1.2 0.8-1.4 0.9-1.8 0.9-2 1.7-5.1 0.8-3.2 1.8-7.4 1.7-8.8 4.3-23.3 1.7-8 0.9-3.4 1.7-5.7 1.7-4.4 1.7-3.3 1.7-2.4 0.9-1 1.7-1.6 2.6-1.8 1.7-0.9 1.7-0.7 4.3-1.4 5.2-1.3 7.7-1.6 31-5.4" stroke="#b5289a" stroke-width="1.0"/>
<path d="M326.8 180.5l80 0 16.4-0.2 6-0.2 4.3-0.6 1.7-0.3 1.7-0.5 2.6-1 1.7-1 0.9-0.7 1.7-1.5 0.9-1 1.7-2.4 0.8-1.4 1.8-3.3 1.7-4.1 1.7-4.8 1.7-5.4 4.3-14.5 2.6-8 1.7-4.5 0.9-2 1.7-3.5 0.9-1.5 1.7-2.6 0.8-1.1 1.8-1.8 1.7-1.4 1.7-1.2 1.7-0.9 2.6-1.1" stroke="#3a96b6" stroke-width="1.0"/>
<path d="M326.8 180.5l81.7 0 16.4-0.1 6-0.2 4.3-0.5 3.4-0.6 2.6-0.8 1.7-0.8 1.8-1.1 1.7-1.5 0.8-0.9 1.8-2.1 0.8-1.3 1.7-3.1 1.8-3.7 1.7-4.3 1.7-4.9 4.3-13 2.6-7.1 1.7-4 0.9-1.7 1.7-3.1 1.7-2.5 0.9-1.1 1.7-1.8 0.8-0.7 1.8-1.3 1.7-1 1.7-0.8" stroke="#3a96b6" stroke-width="1.0"/>
<path d="M326.8 180.5l81.7 0 17.2-0.1 6.1-0.2 4.3-0.4 3.4-0.6 1.7-0.4 1.7-0.6 1.8-0.9 1.7-1.1 1.7-1.5 0.9-1 1.7-2.2 0.8-1.3 1.8-3.2 1.7-3.8 1.7-4.4 6-17.7 1.7-4.6 1.8-4.2 0.8-1.8 1.7-3.2 1.8-2.6 0.8-1.2 1.7-1.8 0.9-0.8 1.7-1.4 2.6-1.5" stroke="#3a96b6" stroke-width="1.0"/>
<path d="M326.8 180.5l83.5 0 17.2-0.1 6-0.2 4.3-0.4 3.4-0.5 1.7-0.5 1.8-0.6 1.7-0.8 0.8-0.6 1.8-1.2 0.8-0.8 1.7-2 0.9-1.1 1.7-2.8 1.7-3.4 1.8-4.1 1.7-4.6 6-17.3 1.7-4.4 1.7-3.7 1.8-3.2 0.8-1.4 1.7-2.3 0.9-1 1.7-1.6 2.6-1.9" stroke="#3a96b6" stroke-width="1.0"/>
<path d="M326.8 180.5l86.9 0 17.2-0.1 6-0.2 4.3-0.3 3.5-0.5 1.7-0.4 1.7-0.5 1.7-0.7 1.7-1 1.8-1.3 0.8-0.8 1.7-1.9 0.9-1.2 1.7-2.7 1.7-3.3 1.8-3.9 1.7-4.4 5.1-13.8 2.6-5.9 1.7-3.3 1.8-2.8 1.7-2.2 1.7-1.8" stroke="#3a96b6" stroke-width="1.0"/>
</g>
<rect x="318.7" y="72.6" width="167.3" height="113.9" fill="none" stroke="#cacaca" stroke-width="1"/>
<g clip-path="url(#cB2)" fill="none" stroke-linejoin="round" stroke-linecap="round">
<path d="M510.3 174.5l0.5-0.4 0.5-1.1 1.6-6.6 0.5-0.9 0.5-0.1 1 0 2.1-0.5 1.5-0.2 16 0.4 3.1 0 2.6-0.1 2-0.3 2.1-0.5 1.5-0.6 1.6-0.9 1.5-1.2 1.1-1 1-1.2 1.5-2.2 2.1-3.4 4.6-8.6 2.1-3.3 1-1.3 1-1 1.1-0.6 1-0.2 1 0.2 1.1 0.6 1 1 1.5 2.1 2.1 3.6 4.1 8.6 2.1 4.1 2 3.5 2.1 2.9 2.1 2.4 2 1.9 2.6 1.7 2.6 1.3 1.5 0.5 2.1 0.5 1.5 0.1 2.1 0 2-0.3 2.1-0.5 2.6-0.8 2.5-1 1.6-0.7 1.5-1 1.6-1.2 4.6-3.9 3.1-2.4 5.2-3.6 2-1.4 0.5-0.2 0.5 0.1 0.6 0.5 0.5 0.9 7.7 14.2 2.1 3.5 1.5 2 0.5 0.5 1.1 0.7 1.5 0.6 2.1 0.3 18.5 0" stroke="#3a96b6" stroke-width="1.0"/>
<path d="M510.3 174.6l0.5-0.4 0.5-0.9 1.6-5.6 0.5-0.8 1.5-0.1 2.1-0.4 1.5-0.1 16 0.4 5.2-0.1 2-0.2 2.1-0.3 1.5-0.5 1.6-0.7 1.5-0.9 1-0.8 1.1-0.8 1.5-1.6 2.1-2.5 4.6-6.2 2.1-2.2 1-0.9 1-0.6 1.1-0.3 1-0.1 1 0.2 1 0.6 1.1 0.8 1.5 1.6 2.1 2.8 4.6 7.4 2.1 3.1 2.6 3.4 2.5 2.9 2.6 2.4 2.6 1.9 2.6 1.6 2.5 1.1 1.6 0.4 1.5 0.1 1.6 0 2-0.4 1.6-0.5 2-0.8 2.6-1.4 2.1-1.2 1.5-1.1 1.6-1.5 5.6-6.3 3.6-3.6 4.7-4.2 2-1.7 0.5-0.3 0.5 0.1 0.6 0.5 0.5 0.8 7.7 15.2 2.1 3.7 1.5 2.2 0.5 0.5 1.1 0.8 1.5 0.6 2.1 0.3 18.5 0" stroke="#3a96b6" stroke-width="1.0"/>
<path d="M510.3 174.6l0.5-0.4 0.5-0.8 1.6-5 0.5-0.7 1.5-0.1 2.1-0.4 1.5-0.1 16.5 0.5 5.2-0.1 2-0.1 2.1-0.3 1.5-0.4 1.6-0.6 1.5-0.8 1.1-0.6 1-0.8 1.5-1.3 2.1-2.1 4.6-5.3 2.1-1.9 1-0.7 1-0.5 1.1-0.3 1 0 1 0.2 1.1 0.5 1 0.7 1.5 1.4 2.1 2.4 5.1 7.1 2.1 2.7 2.1 2.3 2.5 2.6 2.6 2.1 2.6 1.7 2.6 1.4 2 0.7 1.6 0.4 1.5 0.1 1.6 0 1.5-0.2 1.6-0.4 2-0.7 4.1-1.9 2.1-1.2 1.5-1.1 5.7-5.1 3.6-2.9 4.6-3.3 2.1-1.3 1-0.5 0.5 0 0.6 0.5 0.5 0.7 7.7 12.6 2.1 3.1 1.5 1.7 1.6 1.1 1.5 0.6 2.1 0.2 18.5 0" stroke="#3a96b6" stroke-width="1.0"/>
<path d="M510.3 174.5l0.5-0.4 0.5-1.1 1.6-6.6 0.5-0.9 0.5-0.1 1-0.1 2.1-0.5 1.5-0.1 15.5 0.4 4.6 0 4.1-0.2 3.1-0.6 1.6-0.5 1.5-0.7 2.6-1.6 2.6-2.1 4.6-4.3 2.1-1.6 1-0.6 1-0.5 1.6-0.3 1 0.1 1 0.3 1.1 0.5 1.5 1 1 0.9 1.6 1.5 5.1 5.9 3.1 3.1 3.1 2.6 1.6 1.1 2 1.4 2.1 1.1 1.5 0.7 2.1 0.8 1.5 0.4 1.6 0.3 1.5 0.2 1.6-0.1 2-0.2 2.6-0.6 3.6-1.3 2.1-0.9 2-1.3 2.1-1.8 4.6-5 3.6-3.5 5.7-5.1 1-0.9 0.5-0.3 0.5 0.1 0.6 0.6 0.5 0.9 7.7 16.5 2.1 4.1 1.5 2.4 0.5 0.5 1.1 0.9 0.5 0.3 1 0.4 2.1 0.3 18.5 0" stroke="#3a96b6" stroke-width="1.0"/>
<path d="M510.3 174.6l0.5-0.5 0.5-1 1.6-6 0.5-0.8 0.5-0.1 1-0.1 2.1-0.4 1.5-0.2 20.6 0.6 4.2-0.1 3-0.3 3.1-0.6 2.6-0.9 2.6-1.1 4.6-2.3 2.1-0.9 2-0.5 1.6-0.1 1.5 0.2 1.6 0.4 1.5 0.7 1.6 0.9 3.1 2.2 6.7 5.3 3.6 2.7 3.6 2.4 2.5 1.5 2.6 1.1 2.1 0.5 2 0.2 2.1-0.2 2.1-0.5 2.5-1.1 3.1-1.5 2.6-1.7 1.5-1.2 1.1-1 4.6-5 3.6-3.5 4.6-4 2.6-2 0.5-0.3 0.5 0.1 0.6 0.5 0.5 0.9 7.7 15 2.1 3.7 1.5 2.2 0.5 0.5 1.1 0.8 1.5 0.6 2.1 0.3 18.5 0" stroke="#3a96b6" stroke-width="1.0"/>
<path d="M510.3 174.6l0.5-0.4 0.5-1 1.6-5.8 0.5-0.8 0.5-0.1 1.5-0.1 2.1-0.4 2.1-0.1 43.7 1.3 1.6-0.1 1-0.3 1-0.6 0.6-0.5 1-1.4 0.5-1 1.6-3.8 2-6.8 2.1-8 2.5-10.9 2.6-11.6 3.6-17.2 4.7-23.3 0.5-2.2 0.5-1.3 0.5 0.5 0.5 2.3 0.5 3.3 9.3 64.5 2.1 13.6 1 5.7 1 4.6 1.1 3.2 1 2.1 0.5 0.7 0.5 0.4 0.5 0.4 1.1 0.3 1.5 0.2 54.6 0" stroke="#8b8b8b" stroke-width="1.0"/>
<path d="M510.3 174.6l0.5-0.4 0.5-0.8 1.6-5.1 0.5-0.7 0.5-0.1 1.5-0.1 2.1-0.4 2.1 0 44.8 1.4 1.5-0.1 1-0.3 1.1-0.6 0.5-0.5 1-1.3 0.5-0.9 0.6-1.1 1-2.5 1.5-4.9 2.1-7.7 2.6-10.6 3.1-13.7 3-14.5 4.2-20.3 0.5-2.2 0.5-1.1 0.5 0.5 0.5 2.2 0.5 3 9.3 58.2 2.6 15.2 1 5 1 3.8 1.1 2.7 1 1.7 0.5 0.6 1 0.6 1.1 0.3 1.5 0.1 54.1 0" stroke="#8b8b8b" stroke-width="1.0"/>
<path d="M510.3 174.6l0.5-0.4 0.5-0.9 1.6-5.5 0.5-0.8 0.5-0.1 1.5 0 2.1-0.5 2.1 0 44.8 1.3 1.5-0.1 1-0.3 1.1-0.6 0.5-0.5 1-1.4 0.5-0.9 1.6-3.6 1.5-4.6 2.1-7.3 2.6-9.9 2.5-10.7 3.6-15.7 4.2-19 0.5-2.2 0.5-1.4 0.5 0 0.5 1.7 0.5 2.7 9.8 58.8 2.6 14.3 1 4.6 1.1 3.4 1 2.3 1 1.5 0.5 0.4 1.1 0.5 1 0.2 1.5 0.1 53.6 0" stroke="#8b8b8b" stroke-width="1.0"/>
<path d="M510.3 174.6l0.5-0.4 0.5-0.8 1.6-5.2 0.5-0.7 0.5-0.1 1.5-0.1 2.1-0.4 2.1 0 43.7 1.3 1.6-0.1 1-0.3 1-0.7 0.6-0.4 1-1.4 0.5-1 1.6-3.7 2-6.6 2.1-7.7 2.5-10.6 2.6-11.2 3.6-16.6 4.7-22.4 0.5-2.2 0.5-1.3 0.5 0.5 0.5 2.1 0.5 3 9.8 64 2.1 12.6 1 5.2 1 4.1 1.1 2.9 1 1.9 0.5 0.6 1 0.7 1.1 0.3 1.5 0.1 54.1 0" stroke="#8b8b8b" stroke-width="1.0"/>
<path d="M510.3 174.4l0.5-0.4 0.5-1.1 1.6-6.5 0.5-0.8 2-0.2 1.6-0.4 1-0.1 3.6 0.1 95.3 4.8 2.6 0 1-0.1 0.5-0.2 1.1-0.7 0.5-0.5 1-1.6 1-2.2 1.1-2.9 2.5-9.2 9.8-37.4 0.5-1.6 0.5-0.5 0.6 0.8 0.5 1.9 11.3 50.3 1.6 5.9 1 3.1 0.5 1.2 1 1.8 0.5 0.6 1.1 0.9 1 0.4 1 0.1 5.7 0.1" stroke="#b5289a" stroke-width="1.0"/>
<path d="M510.3 174.4l0.5-0.5 0.5-1.2 1.6-7.2 0.5-1 0.5-0.1 1.5-0.1 1.6-0.4 1-0.1 3.6 0 95.3 4.9 2.6 0 1-0.2 0.5-0.2 1.1-0.7 0.5-0.5 1-1.5 1-2.3 1.1-2.9 2.5-9.2 9.8-37.4 0.5-1.5 0.5-0.6 0.6 0.9 0.5 1.9 11.3 51.2 1.6 6 1 3.1 0.5 1.2 1 1.8 0.5 0.7 1.1 0.9 1 0.4 1 0.1 5.7 0.1" stroke="#b5289a" stroke-width="1.0"/>
<path d="M510.3 174.4l0.5-0.4 0.5-1.1 1.6-6.3 0.5-0.9 2-0.1 1.6-0.4 1-0.1 3.6 0.1 95.3 4.8 2.6 0 1-0.2 0.5-0.1 1.1-0.7 0.5-0.6 1-1.5 1-2.2 1.1-3 2.5-9.2 9.8-37.4 0.5-1.5 0.5-0.5 0.6 0.8 0.5 1.9 11.3 50.1 1.6 5.9 1 3.1 0.5 1.2 1 1.8 0.5 0.6 1.1 0.9 1 0.4 1 0.1 5.7 0.1" stroke="#b5289a" stroke-width="1.0"/>
<path d="M510.3 174.5l0.5-0.5 0.5-1 1.6-6.2 0.5-0.8 2-0.2 1.6-0.4 1-0.1 3.6 0.1 95.3 4.8 2.6 0.1 1-0.2 0.5-0.2 1.1-0.7 0.5-0.5 1-1.5 1-2.3 1.1-2.9 2.5-9.2 9.8-37.4 0.5-1.6 0.5-0.5 0.6 0.9 0.5 1.8 11.3 50 1.6 5.9 1 3 0.5 1.2 1 1.8 0.5 0.6 1.1 0.9 1 0.4 1 0.1 5.7 0.1" stroke="#b5289a" stroke-width="1.0"/>
<path d="M510.3 174.4l0.5-0.4 0.5-1.1 1.6-6.5 0.5-0.8 2-0.2 1.6-0.4 1-0.1 3.6 0.1 95.3 4.8 2.6 0 1-0.2 0.5-0.2 1.1-0.6 0.5-0.6 1-1.5 1-2.2 1.1-3 2.5-9.2 9.8-37.4 0.5-1.5 0.5-0.5 0.6 0.8 0.5 1.9 11.3 50.3 1.6 5.9 1 3.1 0.5 1.2 1 1.8 0.5 0.6 1.1 0.9 1 0.4 1 0.1 5.7 0.1" stroke="#b5289a" stroke-width="1.0"/>
<path d="M510.3 174.4l0.5-0.4 0.5-1.1 1.6-6.3 0.5-0.9 2-0.1 1.6-0.4 1-0.1 3.6 0.1 95.3 4.8 2.6 0 1-0.2 0.5-0.2 1.1-0.6 0.5-0.6 1-1.5 1-2.2 1.1-3 2.5-9.2 9.8-37.4 0.5-1.5 0.5-0.6 0.6 0.9 0.5 1.9 11.3 50.1 1.6 5.9 1 3.1 0.5 1.2 1 1.8 0.5 0.6 1.1 0.9 1 0.4 1 0.1 5.7 0.1" stroke="#b5289a" stroke-width="1.0"/>
<path d="M510.3 174.6l0.5-0.4 0.5-1 1.6-5.6 0.5-0.7 1.5-0.1 2.1-0.5 1.5-0.1 146.3 4.5" stroke="#3a96b6" stroke-width="1.0"/>
<path d="M510.3 174.6l0.5-0.3 0.5-0.7 1.6-4.2 0.5-0.5 1.5-0.1 2.1-0.3 1.5-0.1 146.3 4.5" stroke="#3a96b6" stroke-width="1.0"/>
<path d="M510.3 174.7l0.5-0.3 0.5-0.7 1.6-4.1 0.5-0.5 1.5-0.1 2.1-0.3 1.5 0 146.3 4.4" stroke="#3a96b6" stroke-width="1.0"/>
<path d="M510.3 174.7l0.5-0.3 0.5-0.7 1.6-4.1 0.5-0.5 1.5-0.1 2.1-0.3 1.5 0 146.3 4.4" stroke="#3a96b6" stroke-width="1.0"/>
<path d="M510.3 174.6l0.5-0.3 0.5-0.9 1.6-4.9 0.5-0.7 1.5-0.1 2.1-0.4 1.5-0.1 146.3 4.5" stroke="#3a96b6" stroke-width="1.0"/>
</g>
<rect x="502.5" y="72.6" width="167.5" height="113.9" fill="none" stroke="#cacaca" stroke-width="1"/>
<g clip-path="url(#cC)" fill="none" stroke-linejoin="round" stroke-linecap="round">
<path d="M-50 340l9.4-0.1 5.2-0.1 4.3-0.4 2.6-0.5 2.6-0.9 1.7-0.9 0.9-0.7 1.7-1.6 0.9-1.2 0.8-1.3 0.9-1.6 0.9-1.9 0.8-2.2 1.8-5.6 0.8-3.3 0.9-3.8 1.7-8.6 5.2-28.5 1.7-8 1.7-6.4 1.8-5 0.8-2.1 1.7-3.2 0.9-1.3 1.7-2.1 0.9-0.8 1.7-1.4 1.7-1.1 1.8-0.8 1.7-0.7 2.6-0.8 2.6-0.6 3.4-0.6 6.9-0.8 7.8-0.5 10.3-0.3 57-1.3" stroke="#8b8b8b" stroke-width="1.0"/>
<path d="M-50 340l11.2-0.1 6-0.1 4.3-0.3 3.5-0.5 2.6-0.8 1.7-0.9 0.8-0.6 1.8-1.6 0.8-1.1 0.9-1.4 0.9-1.6 0.8-1.9 0.9-2.3 0.8-2.6 0.9-3.1 0.9-3.5 0.8-4 1.8-9 3.4-19.9 1.7-9.2 1.8-7.7 0.8-3.2 1.7-5.2 0.9-2.1 0.9-1.8 0.8-1.6 0.9-1.3 1.7-2.1 0.9-0.8 1.7-1.4 1.7-1 1.7-0.8 1.8-0.7 2.6-0.8 2.6-0.6 3.4-0.6 6.9-0.8 7.8-0.4 10.3-0.4 54.4-1.2" stroke="#8b8b8b" stroke-width="1.0"/>
<path d="M-50 340l18.1-0.1 4.3-0.3 3.4-0.3 2.6-0.6 1.7-0.6 0.9-0.4 1.7-1.1 0.9-0.7 1.7-1.9 0.9-1.3 0.8-1.5 0.9-1.7 0.9-2.1 1.7-5.2 0.9-3.1 0.8-3.5 1.7-8 4.3-22.8 1.8-8.3 1.7-7 1.7-5.6 1.8-4.3 0.8-1.8 1.7-2.8 0.9-1.1 1.7-1.8 0.9-0.7 1.7-1.2 1.7-1 1.8-0.7 1.7-0.7 2.6-0.7 2.6-0.5 2.6-0.5 6.9-0.7 7.7-0.5 10.4-0.3 50.9-1.1" stroke="#8b8b8b" stroke-width="1.0"/>
<path d="M-50 340l18.1-0.2 4.3-0.2 3.4-0.4 2.6-0.5 1.7-0.7 0.9-0.4 1.7-1.1 0.9-0.8 0.9-0.9 0.8-1.1 0.9-1.3 0.8-1.5 0.9-1.9 0.9-2.2 1.7-5.4 0.9-3.3 0.8-3.7 1.7-8.5 4.3-24 1.8-8.8 1.7-7.4 1.7-5.9 1.8-4.5 0.8-1.8 1.7-2.9 0.9-1.2 1.7-1.9 0.9-0.8 1.7-1.2 1.7-1 1.8-0.8 1.7-0.6 2.6-0.8 2.6-0.6 2.6-0.4 6.9-0.8 7.7-0.5 10.4-0.3 50.9-1.2" stroke="#b5289a" stroke-width="1.0"/>
<path d="M-50 340l20.7-0.1 5.1-0.2 3.5-0.4 2.6-0.6 1.7-0.6 0.9-0.4 1.7-1.2 0.8-0.7 0.9-1 0.9-1.1 0.8-1.4 0.9-1.7 0.9-1.9 0.8-2.4 1.7-5.9 0.9-3.6 1.7-8.4 5.2-29.1 1.7-8.3 1.8-6.6 1.7-5.1 0.8-2.1 1.8-3.2 0.8-1.3 1.7-2 0.9-0.8 1.7-1.3 1.8-1 1.7-0.8 1.7-0.7 2.6-0.8 2.6-0.6 3.4-0.6 6.9-0.7 6.9-0.4 10.4-0.4 49.1-1.1" stroke="#b5289a" stroke-width="1.0"/>
<path d="M-50 340l23.2-0.1 5.2-0.2 3.5-0.3 2.6-0.4 2.5-0.9 1.8-1 0.8-0.6 0.9-0.8 0.9-1 0.8-1.2 0.9-1.5 0.8-1.8 0.9-2.1 0.9-2.6 0.8-2.9 0.9-3.5 0.9-3.8 1.7-9.1 3.4-20.7 1.8-9.7 1.7-8.3 1.7-6.4 0.9-2.7 0.8-2.2 0.9-1.9 0.8-1.6 0.9-1.4 1.7-2.2 0.9-0.9 1.7-1.4 1.8-1 1.7-0.9 1.7-0.6 2.6-0.9 2.6-0.6 3.4-0.6 6.9-0.8 6.9-0.4 10.4-0.4 46.5-1.1" stroke="#b5289a" stroke-width="1.0"/>
<path d="M-50 340l24.1-0.1 5.2-0.2 4.3-0.4 2.6-0.5 1.7-0.5 0.9-0.4 1.7-1.1 0.9-0.7 0.8-0.8 0.9-1 0.8-1.3 0.9-1.5 0.9-1.8 0.8-2.1 0.9-2.5 0.9-3 0.8-3.3 0.9-3.7 1.7-8.6 3.5-19.6 1.7-9.3 1.7-7.9 1.7-6.4 1.7-4.8 0.9-1.9 1.7-3.1 0.9-1.2 1.7-1.9 0.9-0.8 1.7-1.3 1.7-1 1.8-0.8 1.7-0.6 2.6-0.8 2.6-0.5 2.6-0.5 3.4-0.4 3.5-0.4 6.9-0.4 10.3-0.4 44.9-1" stroke="#b5289a" stroke-width="1.0"/>
<path d="M-50 340l24.1-0.1 5.2-0.1 4.3-0.3 3.4-0.6 2.6-0.8 1.8-0.9 0.8-0.7 1.7-1.6 0.9-1.1 0.9-1.4 0.8-1.6 0.9-1.9 0.9-2.2 0.8-2.7 0.9-3 0.8-3.4 1.8-7.9 4.3-23.6 1.7-8.7 1.7-7.5 1.7-5.9 1.8-4.5 0.8-1.8 1.8-2.8 0.8-1.1 1.8-1.9 0.8-0.7 1.7-1.2 1.8-0.9 1.7-0.8 1.7-0.6 2.6-0.7 2.6-0.6 2.6-0.4 6.9-0.8 6.9-0.4 9.5-0.3 44-1" stroke="#b5289a" stroke-width="1.0"/>
<path d="M-50 340l25.8-0.1 5.2-0.1 4.3-0.3 3.5-0.6 2.6-0.9 1.7-1 0.8-0.6 1.8-1.7 0.8-1.1 0.9-1.4 0.9-1.6 0.8-1.9 1.7-4.8 0.9-2.9 0.9-3.3 1.7-7.7 4.3-22.6 1.7-8.4 1.7-7.2 1.8-5.8 1.7-4.4 0.9-1.8 1.7-2.9 0.9-1.1 1.7-1.9 0.8-0.7 1.8-1.3 1.7-0.9 1.7-0.8 1.7-0.6 2.6-0.7 2.6-0.6 2.6-0.4 6-0.7 6.9-0.4 9.5-0.4 43.1-0.9" stroke="#b5289a" stroke-width="1.0"/>
<path d="M-50 340l29.3-0.1 6-0.1 4.3-0.3 3.5-0.6 2.6-0.9 1.7-1 0.9-0.6 0.8-0.9 0.9-0.9 0.8-1.2 0.9-1.4 0.9-1.7 0.8-2.1 0.9-2.4 0.9-2.7 0.8-3.2 0.9-3.6 1.7-8.4 4.3-24.5 1.7-9 1.8-7.5 0.8-3.2 1.8-5.2 0.8-2.1 1.7-3.3 0.9-1.3 1.7-2.1 0.9-0.8 1.7-1.4 1.7-1.1 1.8-0.8 1.7-0.7 2.6-0.8 2.6-0.6 2.6-0.4 6-0.8 6.9-0.5 9.5-0.4 39.6-0.9" stroke="#b5289a" stroke-width="1.0"/>
<path d="M-50 340l31.9-0.1 6-0.1 4.3-0.3 3.5-0.5 2.5-0.9 1.8-0.9 0.8-0.7 0.9-0.8 0.9-1 0.8-1.2 0.9-1.5 0.9-1.8 0.8-2.1 0.9-2.5 0.8-3 0.9-3.4 0.9-3.8 1.7-9 3.4-20.2 1.8-9.3 1.7-7.8 1.7-6.1 0.9-2.5 0.8-2.1 0.9-1.8 0.9-1.5 0.8-1.2 1.8-2.1 0.8-0.8 1.7-1.3 1.8-1 1.7-0.8 1.7-0.6 2.6-0.8 2.6-0.6 2.6-0.4 6-0.8 6.9-0.4 8.6-0.4 38.9-0.9" stroke="#b5289a" stroke-width="1.0"/>
<path d="M-50 340l31.9-0.1 6-0.1 4.3-0.2 2.6-0.3 1.7-0.3 2.6-0.8 1.7-0.9 0.9-0.5 1.7-1.6 0.9-1 0.9-1.2 0.8-1.4 0.9-1.7 0.8-2.1 0.9-2.3 1.7-5.8 0.9-3.4 1.7-7.9 4.3-22.5 1.8-8.2 1.7-6.9 1.7-5.4 1.7-4.2 0.9-1.7 1.7-2.7 0.9-1.1 1.7-1.8 0.9-0.7 1.7-1.1 1.7-0.9 1.7-0.8 3.5-1 2.6-0.6 2.6-0.5 6-0.7 6.9-0.4 8.6-0.4 36.2-0.8" stroke="#b5289a" stroke-width="1.0"/>
<path d="M-50 340l36.2 0 6.9-0.1 4.3-0.2 2.6-0.3 1.7-0.3 2.6-0.7 1.7-0.8 0.9-0.5 1.7-1.6 0.9-1 0.8-1.2 0.9-1.5 0.8-1.9 0.9-2.1 0.9-2.6 1.7-6.5 0.9-4 1.7-9.1 3.4-20.5 1.8-9.5 1.7-8 1.7-6.3 0.9-2.5 0.8-2.1 0.9-1.8 0.9-1.6 0.8-1.3 1.8-2.1 0.8-0.8 1.7-1.3 1.8-1.1 1.7-0.8 3.4-1.2 2.6-0.7 2.6-0.5 6.1-0.8 6-0.5 8.6-0.4 33.7-0.8" stroke="#b5289a" stroke-width="1.0"/>
<path d="M-50 340l37 0 6.9-0.2 4.3-0.2 2.6-0.2 1.8-0.3 2.6-0.7 1.7-0.8 0.8-0.5 1.8-1.4 0.8-1 0.9-1.1 0.8-1.3 0.9-1.6 0.9-1.8 0.8-2.2 1.8-5.5 0.8-3.3 1.8-7.7 4.3-22.8 1.7-8.7 1.7-7.5 1.7-6 1.8-4.7 0.8-1.9 1.8-3 0.8-1.2 1.7-1.9 0.9-0.8 1.7-1.3 1.8-1 1.7-0.8 3.4-1.2 4.3-0.9 6.1-0.9 6-0.4 8.6-0.4 32-0.8" stroke="#b5289a" stroke-width="1.0"/>
<path d="M-50 340l37 0 12.1-0.2 4.3-0.3 2.6-0.5 2.6-0.7 1.7-0.9 1.7-1.4 0.9-0.9 0.9-1 0.8-1.4 0.9-1.6 0.9-1.9 0.8-2.3 0.9-2.6 0.9-3.1 1.7-7.4 1.7-8.8 2.6-14.4 1.7-9 1.7-7.7 0.9-3.3 1.7-5.4 0.9-2.1 0.9-1.9 1.7-2.9 1.7-2.1 1.7-1.5 1.8-1.2 1.7-0.9 1.7-0.8 1.7-0.5 2.6-0.7 2.6-0.6 3.5-0.5 6-0.7 8.6-0.5 12.1-0.3 21.5-0.5" stroke="#b5289a" stroke-width="1.0"/>
<path d="M-50 340l38.8 0 12-0.2 4.4-0.4 2.5-0.4 2.6-0.8 1.7-0.9 1.8-1.4 0.8-0.9 0.9-1.1 0.9-1.3 0.8-1.6 0.9-1.9 0.9-2.3 0.8-2.6 0.9-3 1.7-7.2 1.7-8.6 4.3-22.6 1.8-7.6 0.8-3.2 1.8-5.3 0.8-2.1 0.9-1.9 1.7-2.9 1.7-2.1 1.8-1.6 1.7-1.2 1.7-0.9 1.7-0.7 1.8-0.6 2.5-0.7 2.6-0.6 3.5-0.5 6-0.6 8.6-0.5 11.3-0.4 20.7-0.4" stroke="#8b8b8b" stroke-width="1.0"/>
<path d="M-50 340l41.4 0 12-0.2 4.3-0.2 3.5-0.5 2.6-0.7 1.7-0.7 1.7-1.1 0.9-0.8 1.7-1.9 0.9-1.3 0.8-1.5 0.9-1.8 0.9-2 1.7-5.2 1.7-6.5 1.7-7.6 4.4-20.5 1.7-7 0.8-3.1 1.8-5.1 1.7-3.9 1.7-3 0.9-1.2 1.7-1.8 0.9-0.8 1.7-1.2 1.7-1 1.7-0.8 1.8-0.6 2.6-0.7 2.5-0.5 3.5-0.6 6-0.6 7.8-0.4 10.3-0.3 18.2-0.4" stroke="#8b8b8b" stroke-width="1.0"/>
<path d="M-50 340l70.7 0 16.4-0.1 5.1-0.3 3.5-0.4 2.6-0.6 1.7-0.7 0.9-0.4 1.7-1.3 0.9-0.9 0.8-1.1 0.9-1.3 0.8-1.6 0.9-1.9 0.9-2.2 0.8-2.7 0.9-3.1 0.9-3.6 1.7-8.6 5.1-31 1.8-9.1 0.8-3.9 1.8-6.4 0.8-2.6 0.9-2.3 0.9-1.9 0.8-1.6 0.9-1.4 1.7-2.2 0.9-0.8 1.7-1.4 2.6-1.6 1.7-0.7 1.7-0.6 4.3-1.2 5.2-0.9 6-0.6" stroke="#3a96b6" stroke-width="1.0"/>
<path d="M-50 340l72.4 0 16.4-0.1 5.2-0.3 3.4-0.4 2.6-0.6 1.7-0.6 0.9-0.5 1.7-1.3 0.9-0.8 0.8-1.1 0.9-1.3 0.9-1.5 0.8-1.9 0.9-2.2 0.9-2.6 0.8-3.1 0.9-3.5 1.7-8.4 5.2-30.5 1.7-8.9 0.9-3.8 1.7-6.3 0.9-2.6 0.8-2.2 0.9-1.9 1.7-2.9 1.7-2.1 0.9-0.9 1.7-1.4 2.6-1.5 1.7-0.7 1.8-0.6 3.4-1 4.3-0.8 6-0.7" stroke="#3a96b6" stroke-width="1.0"/>
<path d="M-50 340l74.1 0 16.4-0.2 5.2-0.2 3.4-0.5 2.6-0.7 1.8-0.8 0.8-0.6 1.7-1.4 0.9-1 0.9-1.1 0.8-1.4 0.9-1.7 0.9-2 0.8-2.3 0.9-2.7 0.8-3.1 1.8-7.5 1.7-8.9 3.4-19.3 1.8-8.7 0.8-3.9 0.9-3.5 1.7-5.8 0.9-2.4 1.7-3.8 1.7-2.8 1.8-2 0.8-0.8 1.7-1.4 2.6-1.5 1.8-0.7 1.7-0.6 3.4-0.9 4.3-0.8 4.3-0.5" stroke="#3a96b6" stroke-width="1.0"/>
<path d="M-50 340l81.9 0 16.4-0.1 5.2-0.3 2.5-0.3 1.8-0.3 2.6-0.7 1.7-0.9 0.8-0.5 1.8-1.5 0.8-1 0.9-1.2 0.8-1.4 0.9-1.7 0.9-2 0.8-2.3 1.8-5.9 0.8-3.6 1.8-8.4 5.1-29.7 1.8-8.8 1.7-7.3 0.8-3.1 1.8-5 0.8-2 1.8-3.3 1.7-2.4 1.7-1.8 1.7-1.4 2.6-1.5 2.6-1.1 3.5-1" stroke="#3a96b6" stroke-width="1.0"/>
<path d="M-50 340l84.5 0 16.4-0.1 5.1-0.3 2.6-0.3 1.8-0.3 2.5-0.7 1.8-0.8 0.8-0.5 1.8-1.5 0.8-0.9 0.9-1.2 0.8-1.3 0.9-1.7 0.9-1.9 0.8-2.2 1.8-5.7 0.8-3.4 1.7-8 1.8-9.3 3.4-19.6 1.7-8.7 1.8-7.3 0.8-3.1 1.8-5.1 0.8-2.1 1.7-3.3 0.9-1.3 1.7-2.2 1.8-1.6 1.7-1.2 2.6-1.4 2.5-1" stroke="#3a96b6" stroke-width="1.0"/>
<path d="M-50 340l86.2 0 17.2-0.1 5.2-0.3 2.6-0.2 1.7-0.3 2.6-0.7 1.8-0.8 0.8-0.6 1.7-1.4 0.9-0.9 0.9-1.1 0.8-1.4 0.9-1.6 0.9-2 0.8-2.2 1.7-5.7 0.9-3.4 1.7-8.1 5.2-28.7 1.7-8.5 1.8-7 1.7-5.5 0.8-2.3 1.8-3.6 0.8-1.4 1.8-2.3 1.7-1.8 1.7-1.3 1.7-1 1.8-0.8" stroke="#3a96b6" stroke-width="1.0"/>
<path d="M-50 340l87.9 0 17.3-0.1 5.2-0.2 4.3-0.5 2.5-0.6 1.8-0.7 0.8-0.4 1.8-1.2 0.8-0.7 0.9-1 0.9-1.1 0.8-1.3 0.9-1.6 0.8-1.9 0.9-2.1 1.7-5.5 0.9-3.3 1.7-7.6 1.7-8.9 3.5-18.6 1.7-8.4 1.7-7 1.8-5.6 1.7-4.3 0.8-1.7 1.8-2.8 0.8-1.1 1.8-1.8 0.8-0.8 1.8-1.2" stroke="#3a96b6" stroke-width="1.0"/>
<path d="M-50 340l90.5 0 18.1-0.1 5.2-0.2 4.3-0.4 2.6-0.6 1.7-0.6 0.9-0.4 1.7-1.1 0.9-0.8 0.8-0.9 0.9-1.1 0.9-1.4 0.8-1.6 0.9-1.9 0.9-2.3 1.7-5.6 1.7-7.3 1.7-8.8 4.3-23.9 1.8-8.3 1.7-6.7 1.7-5.3 1.7-3.9 1.8-2.8 0.8-1.2 1.8-1.8" stroke="#3a96b6" stroke-width="1.0"/>
<path d="M-50 340l91.4 0 17.2-0.1 5.2-0.2 4.3-0.3 1.7-0.3 1.8-0.4 1.7-0.6 0.9-0.4 1.7-1.1 0.8-0.7 1.8-2 0.8-1.2 0.9-1.5 0.9-1.8 0.8-2 0.9-2.4 1.7-5.9 1.7-7.3 1.8-8.5 4.3-22.4 1.7-7.6 0.8-3.3 1.8-5.6 1.7-4.3 1.7-3.2 1.8-2.4" stroke="#3a96b6" stroke-width="1.0"/>
</g>
<rect x="-58.0" y="233.0" width="167.4" height="113.4" fill="none" stroke="#cacaca" stroke-width="1"/>
<g clip-path="url(#cC2)" fill="none" stroke-linejoin="round" stroke-linecap="round">
<path d="M134.2 339.3l0.4-0.3 0.5-0.6 1.3-2.9 0.5-0.5 0.4-0.1 3.6-0.6 6.3-0.5 4.4-0.6 3.6-0.6 8.5-1.6 5.4-0.8 6.2-0.5 11.6-0.4 0.9-0.2 0.9-0.3 0.9-0.7 0.9-0.9 0.9-1.5 0.9-1.9 0.9-2.3 0.9-2.8 0.9-3.1 1.3-5.3 2.3-10.2 1.8-9.2 2.2-12.7 2.7-16.8 2.7-18.3 0.4-2.8 0.4-1.8 0.5 0 0.4 1.8 0.5 2.9 9.4 68.1 2.2 15 0.9 4.8 0.9 3.6 0.9 2.5 0.9 1.5 0.4 0.5 0.9 0.5 0.9 0.2 1.4 0.1 57.2 0" stroke="#8b8b8b" stroke-width="1.0"/>
<path d="M134.2 339.4l0.4-0.3 0.5-0.3 1.3-2 0.5-0.3 0.4-0.1 3.2-0.4 6.2-0.5 4.5-0.5 4-0.7 8.5-1.6 5.4-0.8 6.7-0.5 10.3-0.4 1.7-0.1 0.9-0.2 0.9-0.4 0.9-0.7 0.5-0.4 0.9-1.3 0.9-1.7 0.9-2.2 0.8-2.6 0.9-3 1.4-5 2.2-9.7 1.8-8.9 2.2-12.3 2.7-16.2 3.1-20.7 0.5-2.5 0.4-1.1 0.5 0.9 0.4 2.3 10.3 67.8 1.8 11.3 0.9 4.9 0.9 4 0.9 2.9 0.4 1.1 0.9 1.5 0.5 0.4 0.9 0.6 0.9 0.2 1.3 0.1 55.9 0" stroke="#8b8b8b" stroke-width="1.0"/>
<path d="M134.2 339.3l0.4-0.2 0.5-0.4 1.3-2.2 0.5-0.4 0.4-0.1 3.2-0.5 6.2-0.4 4.5-0.6 4-0.6 8.5-1.7 5.4-0.7 6.2-0.5 10.8-0.4 1.7-0.2 0.9-0.2 0.9-0.4 0.9-0.7 0.5-0.6 0.9-1.3 0.9-1.8 0.9-2.3 0.8-2.6 1.8-6.4 2.3-9.5 2.2-11.1 2.2-12.4 2.3-13.5 3.1-20.5 0.4-2.2 0.5-0.8 0.4 1.2 0.5 2.3 9.8 63.6 2.3 13.9 0.9 4.7 0.8 3.8 0.9 2.8 0.5 1 0.9 1.4 0.4 0.4 0.9 0.5 0.9 0.2 1.4 0.1 56.3 0" stroke="#8b8b8b" stroke-width="1.0"/>
<path d="M134.2 339.4l0.4-0.2 0.5-0.3 1.3-1.7 0.5-0.3 0.4-0.1 3.2-0.4 5.8-0.4 4.4-0.5 4.1-0.7 8.9-1.7 5.4-0.7 5.8-0.5 9.8-0.4 1.8-0.1 0.9-0.3 0.9-0.4 0.9-0.6 0.4-0.5 0.9-1.2 0.9-1.7 0.9-2 0.9-2.3 2.2-7.3 2.3-8.7 2.2-9.9 2.2-11.1 2.7-14.7 3.2-18.6 0.4-2.4 0.4-1.6 0.5 0.1 0.4 1.6 0.5 2.4 10.3 63.1 2.2 12.8 0.9 4.1 0.9 3.1 0.9 2.2 0.9 1.3 0.4 0.5 0.9 0.4 0.9 0.2 1.4 0.1 56.3 0" stroke="#8b8b8b" stroke-width="1.0"/>
<path d="M134.2 339.3l0.4-0.2 0.5-0.5 1.3-2.2 0.5-0.4 0.4-0.1 3.2-0.5 6.2-0.4 4.5-0.5 4-0.7 8.9-1.7 5.4-0.8 6.3-0.5 11.1-0.3 1.8-0.2 0.9-0.2 0.9-0.4 0.9-0.7 0.5-0.5 1.3-2 0.9-2 0.9-2.3 1.8-5.8 2.2-8.8 2.2-10.3 2.3-11.7 2.2-12.7 3.1-19.3 0.5-2.1 0.4-0.5 0.5 1.1 0.4 2.3 9.4 58.2 2.3 13.2 0.9 4.5 0.8 3.7 0.9 2.6 0.5 0.9 0.9 1.4 0.4 0.4 0.9 0.4 0.9 0.2 1.4 0.1 56.3 0" stroke="#8b8b8b" stroke-width="1.0"/>
<path d="M134.2 339.3l0.4-0.2 0.5-0.5 1.3-2.2 0.5-0.4 0.4-0.1 3.2-0.5 6.2-0.5 4.5-0.5 4-0.7 8.9-1.7 5.4-0.7 6.7-0.5 12.5-0.5 0.9-0.1 0.9-0.4 0.9-0.6 0.9-1 0.9-1.4 0.5-0.9 0.8-2.3 0.9-2.7 1.8-6.7 2.3-10.3 1.7-9.5 1.8-10.5 2.7-17.4 3.1-22.3 0.5-2.6 0.4-1 0.5 1 0.4 2.4 10.3 68.1 2.3 14 0.8 4.6 0.9 3.6 0.9 2.6 0.9 1.6 0.5 0.5 0.9 0.6 0.9 0.3 1.3 0.1 55.9 0" stroke="#8b8b8b" stroke-width="1.0"/>
<path d="M134.2 339.3l0.4-0.4 0.5-0.6 1.3-3.1 0.5-0.5 0.4-0.2 3.6-0.6 6.3-0.5 4.4-0.5 3.6-0.6 7.6-1.5 3.6-0.6 5.8-0.7 7.6-0.4 10.3-0.2 26.3-0.4 5-0.2 3.1-0.3 3.1-0.7 3.6-1.2 0.9-0.4 0.9-0.6 0.9-0.9 0.9-1.2 0.9-1.7 0.9-2.2 0.9-2.7 0.9-3.1 1.7-7.3 1.8-8.9 1.8-10.5 1.8-11.5 2.7-18.8 0.4-2.2 0.5-0.7 0.4 1.3 0.5 2.5 9.8 65.3 0.9 5.2 0.9 4.3 0.4 1.8 0.9 2.7 0.5 1 0.9 1.4 0.9 0.6 1.3 0.4 2.2 0.1 17.5 0" stroke="#b5289a" stroke-width="1.0"/>
<path d="M134.2 339.2l0.4-0.4 0.5-0.7 1.3-3.5 0.5-0.6 0.4-0.2 3.6-0.7 6.7-0.6 4.5-0.5 10.7-2 3.6-0.6 6.2-0.7 7.6-0.4 36.7-0.6 4.9-0.2 3.6-0.3 3.6-0.7 2.2-0.6 1.3-0.8 0.9-0.8 0.9-1.2 0.9-1.6 0.9-2.1 1.8-5.5 1.8-6.8 1.8-8.2 1.8-9.6 2.2-13.3 2.7-17.6 0.4-2.5 0.5-1.3 0.4 0.6 0.9 4.8 8.5 53.7 1.8 10.8 0.9 4.8 0.9 3.9 0.4 1.5 0.9 2.4 0.5 0.9 0.9 1.1 0.9 0.6 0.9 0.2 2.2 0.1 17 0" stroke="#b5289a" stroke-width="1.0"/>
<path d="M134.2 339.3l0.4-0.4 0.5-0.6 1.3-3.1 0.5-0.6 0.4-0.1 3.6-0.7 6.3-0.5 4.4-0.5 3.6-0.6 8.1-1.6 3.5-0.6 5.8-0.6 7.6-0.4 36.2-0.6 5-0.1 3.1-0.4 3.1-0.6 2.7-0.7 0.9-0.4 0.9-0.5 0.9-0.8 0.9-1.2 0.9-1.6 0.9-2.1 1.8-5.4 1.3-5 0.9-3.7 1.3-6.3 1.8-9.5 2.3-13.5 2.6-17.9 0.5-2.5 0.4-1 0.5 0.8 0.4 2.3 9 56.1 1.8 10.7 0.8 4.7 0.9 3.8 0.5 1.5 0.9 2.2 0.4 0.8 0.9 1.1 0.9 0.5 0.9 0.2 2.2 0.1 17.5 0" stroke="#b5289a" stroke-width="1.0"/>
<path d="M134.2 339.2l0.4-0.3 0.5-0.7 1.3-3.3 0.5-0.5 0.4-0.2 1.4-0.2 1.8-0.4 6.2-0.5 4-0.5 4.1-0.6 10.2-2 4.1-0.5 4-0.4 9.8-0.4 33.5-0.5 5.9-0.3 3.1-0.5 2.7-0.7 2.7-1 1.3-0.8 0.9-0.9 0.9-1.3 0.9-1.6 0.9-2.2 1.8-5.4 2.2-8.6 1.3-6.1 1.8-9.5 2.3-13.5 2.6-17.9 0.5-2.6 0.4-1.3 0.5 0.7 0.9 5.1 7.6 52.2 1.8 11.7 0.9 5.1 0.8 4.2 0.5 1.6 0.9 2.5 0.4 0.9 0.9 1.1 0.9 0.6 0.9 0.2 2.3 0.1 18.3 0" stroke="#b5289a" stroke-width="1.0"/>
<path d="M134.2 339.2l0.4-0.4 0.5-0.7 1.3-3.6 0.5-0.6 0.4-0.2 3.6-0.7 6.7-0.5 4.5-0.6 10.7-2 3.6-0.6 5.8-0.6 7.6-0.4 10.3-0.3 26.3-0.4 5.4-0.2 3.6-0.4 3.1-0.6 2.7-0.8 1.3-0.7 0.9-0.8 0.9-1.2 0.9-1.7 0.9-2.2 1.8-5.6 1.8-7 1.3-6.1 1.8-9.5 2.3-13.4 2.6-17.7 0.5-2.6 0.4-1.3 0.5 0.6 0.9 4.9 8 53.1 1.8 11.1 1.3 6.7 0.5 1.8 0.9 2.6 0.4 1 0.9 1.3 0.9 0.7 1.4 0.3 2.2 0.1 17.9 0" stroke="#b5289a" stroke-width="1.0"/>
<path d="M134.2 339.3l0.4-0.4 0.5-0.6 1.3-2.9 0.5-0.5 0.4-0.2 3.6-0.6 6.3-0.5 4.4-0.6 3.6-0.6 8.1-1.5 3.5-0.6 5.8-0.6 7.6-0.4 36.7-0.6 5.4-0.2 3.5-0.4 4.1-0.8 2.2-0.6 1.3-0.8 0.9-0.9 0.9-1.4 1.4-3 0.9-2.8 0.9-3.2 1.7-7.8 1.4-7 1.3-7.9 2.3-14.7 2.6-19.5 0.5-2.7 0.4-1.1 0.5 1 0.4 2.4 8.5 56.2 1.8 11.2 0.9 4.9 0.9 3.9 0.4 1.5 0.9 2.3 0.5 0.9 0.9 1 0.9 0.5 0.9 0.2 2.2 0.1 17.9 0" stroke="#b5289a" stroke-width="1.0"/>
<path d="M134.2 339.2l0.4-0.3 0.5-0.7 1.3-3.4 0.5-0.6 0.4-0.2 1.4-0.2 1.8-0.4 6.7-0.6 3.5-0.4 4.1-0.6 10.2-2 4.1-0.5 4-0.4 10.3-0.4 33.5-0.6 5.8-0.3 3.1-0.4 3.2-0.7 2.6-0.8 0.9-0.4 0.9-0.5 0.9-0.9 0.9-1.2 1.4-2.6 0.9-2.4 0.9-2.9 1.7-7.1 1.4-6.3 1.8-9.9 2.2-14 2.7-18.6 0.4-2.7 0.5-1.3 0.4 0.6 0.5 2.2 8.5 56.1 1.8 11.2 1.3 6.9 0.4 1.7 0.9 2.8 0.5 1 0.9 1.4 0.9 0.7 0.4 0.2 0.9 0.2 2.2 0.1 17.5 0" stroke="#b5289a" stroke-width="1.0"/>
<path d="M134.2 339.3l0.4-0.2 0.5-0.4 1.3-2.2 0.5-0.4 2.2-0.1 2.3-0.5 6.2-0.5 4-0.5 4.5-0.9 4.9-1.2 3.6-1 3.6-1.3 3.5-1.6 6.3-3.1 2.2-1 2.3-0.8 2.2-0.5 1.4-0.2 1.3 0 1.3 0.1 1.8 0.4 2.7 0.9 6.7 2.9 3.1 1.1 1.8 0.5 2.3 0.5 4 0.5 2.2 0.1 2.3-0.1 2.2-0.2 2.2-0.3 4-1.1 4.5-1.4 1.8-0.8 1.3-0.8 1.4-1.4 1.3-2.1 1.4-2.9 1.3-3.8 2.2-7.4 5.9-21.2 0.4-1.1 0.4-0.5 0.5 0.2 0.4 0.9 0.5 1.3 10.7 35.1 2.3 7 1.7 4.7 0.9 1.8 0.9 1.4 0.9 1.1 0.9 0.7 1.4 0.6 1.3 0.3 2.7 0.1 15.2 0" stroke="#3a96b6" stroke-width="1.0"/>
<path d="M134.2 339.3l0.4-0.2 0.5-0.4 1.3-2.1 0.5-0.4 2.2-0.1 2.3-0.4 8.4-0.9 3.6-0.6 3.6-0.7 4-1.2 4-1.3 3.6-1.4 6.3-2.6 2.2-0.8 2.2-0.6 2.3-0.4 1.8-0.2 1.3 0 3.1 0.4 2.7 0.7 7.6 2.4 2.7 0.7 2.2 0.4 5 0.5 6.7 0.1 3.5 0 3.2-0.2 2.2-0.3 2.2-0.4 2.7-0.7 6.3-2.4 4.4-1.4 1.4-0.7 1.3-1.1 1.4-1.6 1.3-2.3 1.8-3.6 2.7-6.1 6.2-16 0.5-0.8 0.4-0.2 0.5 0.5 0.9 2.4 8 26.8 2.3 7.1 1.7 4.7 1.4 2.6 0.9 1.2 0.9 1 0.9 0.6 1.3 0.4 1.3 0.2 1.4 0.1 8.5 0" stroke="#3a96b6" stroke-width="1.0"/>
<path d="M134.2 339.4l0.4-0.2 0.5-0.3 1.3-1.5 0.5-0.3 2.2-0.1 2.3-0.3 5.3-0.5 3.6-0.4 4.5-0.7 4.9-1.1 5.8-1.5 4.5-1.3 4.4-1.5 8.5-3.4 2.7-0.8 2.2-0.4 1.8-0.2 1.4 0 1.8 0.1 1.7 0.4 3.2 0.8 6.2 2.2 2.7 0.8 2.7 0.7 3.1 0.6 3.2 0.3 3.5 0.3 4.5 0 4.5 0 2.7-0.2 2.2-0.2 2.2-0.5 1.8-0.5 1.8-0.6 1.8-0.9 5.3-3.1 1.8-0.9 2.3-0.7 3.1-0.5 0.9-0.3 1.3-0.8 1.4-1.4 1.3-2.3 1.4-3 2.2-6.1 3.1-9.4 6.3-20.6 0.4-1.3 0.5-0.8 0.4-0.1 0.5 0.9 0.9 3.7 6.7 35 2.2 10.6 0.9 3.5 0.9 2.8 0.9 2.2 0.9 1.6" stroke="#3a96b6" stroke-width="1.0"/>
<path d="M134.2 339.4l0.4-0.2 0.5-0.3 1.3-1.5 0.5-0.3 2.2-0.1 2.3-0.3 8-0.8 3.6-0.5 3.5-0.7 5-1.2 5.3-1.4 12.5-4.1 2.3-0.6 2.2-0.3 2.7-0.1 3.1 0.3 2.7 0.5 6.7 1.7 3.6 0.8 4 0.6 4 0.3 9 0.1 5.3-0.1 3.6-0.2 2.3-0.2 1.7-0.3 1.8-0.4 1.8-0.7 1.8-0.8 1.8-1.1 5.4-3.9 1.7-1.1 1.4-0.6 0.9-0.3 1.3-0.2 2.3-0.2 1.3-0.3 1.3-0.7 1.4-1.4 0.9-1.2 1.3-2.4 1.8-3.6 1.8-4 3.6-8.8 4.9-13.4 0.4-1.1 0.5-0.7 0.4 0 0.5 0.8 0.4 1.5 7.2 33.1 2.2 9.5 0.9 3.1 0.9 2.5 0.9 2 0.9 1.4" stroke="#3a96b6" stroke-width="1.0"/>
<path d="M134.2 339.4l0.4-0.2 0.5-0.3 1.3-1.7 0.5-0.3 2.2-0.1 2.3-0.4 7.6-0.7 6.2-0.9 12.5-2.8 4.5-1.1 8-2.1 2.3-0.6 2.2-0.3 3.6-0.3 3.6 0.2 3.1 0.5 8.5 1.8 3.1 0.4 3.1 0.3 3.6 0.1 4.9 0.1 6.3-0.1 4.5-0.1 4-0.4 3.1-0.7 3.1-1.2 5.9-2.9 2.2-1 1.8-0.4 3.1-0.4 1.3-0.3 1.4-0.6 1.3-1.2 1.4-1.7 1.8-3.1 2.2-4.4 2.7-5.7 3.1-7.3 4-9.8 0.5-1 0.4-0.5 0.5 0 0.4 0.9 0.5 1.4 6.7 29.5 2.2 9.1 0.9 2.9 0.9 2.4 0.9 1.9 0.9 1.4" stroke="#3a96b6" stroke-width="1.0"/>
<path d="M134.2 339.4l0.9-0.4 1.3-1.2 0.5-0.2 2.2-0.1 2.3-0.3 6.2-0.6 5.4-0.7 4.9-0.9 21.9-4.7 2.7-0.4 2.7-0.4 3.1-0.1 3.1 0.1 3.1 0.3 7.2 1.1 3.6 0.4 4.4 0.3 5 0.2 8.9-0.1 5.8-0.2 4-0.5 1.8-0.4 1.8-0.6 1.8-0.7 1.8-0.9 6.7-4 4.5-2.2 1.7-1.3 1.4-1.3 0.9-1.1 1.3-2 6.7-10.7 3.2-5.5 3.5-6.9 0.5-0.8 0.4-0.4 0.5 0.1 0.4 0.7 0.5 1.2 7.6 28.7 2.2 7.7 0.9 2.5 0.9 2.1 0.9 1.6 0.9 1.2" stroke="#3a96b6" stroke-width="1.0"/>
<path d="M134.2 339.4l0.4-0.2 0.5-0.3 1.3-1.5 0.5-0.3 2.2-0.1 2.3-0.4 5.3-0.4 3.6-0.4 4-0.7 4.5-0.9 6.2-1.5 5-1.4 3.1-1.1 6.2-2.4 2.7-0.9 2.3-0.6 2.2-0.3 2.7-0.1 2.7 0.4 2.6 0.6 6.7 2.1 3.2 0.9 3.6 0.7 3.5 0.3 6.7 0.3 9.9-0.2 4.9-0.4 1.8-0.3 1.8-0.4 1.8-0.6 1.3-0.6 2.7-1.6 2.2-1.7 4.5-3.6 4.9-3.4 1.8-1.4 1.3-1.4 4-4.8 4.1-4.2 1.8-2 2.2-2.9 2.7-3.9 0.4-0.6 0.5-0.2 0.4 0.2 0.5 0.7 0.4 1.3 6.3 23.7 2.2 7.7 0.9 2.6 0.9 2 0.9 1.6 0.9 1.2" stroke="#3a96b6" stroke-width="1.0"/>
<path d="M134.2 339.4l0.9-0.4 1.3-1.2 0.5-0.2 2.2-0.1 2.3-0.3 7.6-0.7 3.5-0.5 4-0.7 6.3-1.4 6.3-1.6 3.5-1 6.7-2.2 2.7-0.8 2.3-0.5 2.2-0.3 2.7 0 3.1 0.3 2.7 0.6 5.8 1.5 3.1 0.7 3.6 0.6 3.6 0.4 6.2 0.2 8.1-0.2 4.9-0.3 3.6-0.7 2.2-0.6 2.7-1 5.8-2.8 4.5-1.9 2.2-1.2 1.8-1.4 3.6-3.2 5.8-5 2.7-2.7 3.1-3.4 0.4-0.5 0.5-0.2 0.4 0 0.5 0.5 0.9 1.7 8.5 19.6 2.7 5.7 0.9 1.6 0.8 1.2 0.9 1 1.4 1.1" stroke="#3a96b6" stroke-width="1.0"/>
</g>
<rect x="126.45" y="233.0" width="166.9" height="113.4" fill="none" stroke="#cacaca" stroke-width="1"/>
<g clip-path="url(#cD)" fill="none" stroke-linejoin="round" stroke-linecap="round">
<path d="M323.6 341.2l8.8-0.1 5.9-0.3 4.9-0.4 3.9-0.7 2.9-0.9 2-0.9 1-0.5 1.9-1.4 1-0.8 2-2 1.9-2.6 2-3.3 1-1.9 1.9-4.4 3-8 5.8-18.2 2-5.8 1.9-5.2 1-2.3 2-4.1 1.9-3.4 1-1.5 2-2.5 1-1.1 1.9-1.8 2-1.4 1.9-1.2 2-0.9 1.9-0.8 2-0.6 2.9-0.7 3-0.6 2.9-0.3 6.9-0.5 7.8-0.2 10.8 0.1 44 1" stroke="#b5289a" stroke-width="1.0"/>
<path d="M323.6 341.2l10.8-0.1 6.8-0.1 4.9-0.3 3.9-0.5 3-0.7 2.9-1 2-1.1 0.9-0.7 2-1.8 2-2.3 1.9-3.1 2-3.9 1-2.3 0.9-2.5 2-5.5 4.9-15.5 1.9-5.8 2-5.2 2-4.3 1.9-3.6 1-1.6 2-2.5 0.9-1.1 2-1.8 1.9-1.4 2-1.2 2-0.9 1.9-0.8 2-0.6 2.9-0.8 3-0.6 2.9-0.5 3.9-0.5 3.9-0.4 7.8-0.5 10.8-0.5 42.1-1.2" stroke="#b5289a" stroke-width="1.0"/>
<path d="M323.6 341.2l10.8-0.1 6.8-0.2 4.9-0.3 3.9-0.5 3-0.7 2.9-1.1 2-1.1 0.9-0.7 2-1.7 2-2.2 1.9-2.9 2-3.6 1-2.1 0.9-2.2 2-5.1 5.9-16.8 1.9-5.1 2-4.6 1.9-4 2-3.2 1-1.4 1.9-2.3 1-1 2-1.7 1.9-1.3 2-1.1 1.9-0.9 2-0.7 2-0.6 2.9-0.8 2.9-0.5 3-0.5 6.8-0.7 7.8-0.4 10.8-0.4 42.1-0.7" stroke="#b5289a" stroke-width="1.0"/>
<path d="M323.6 341.2l10.8-0.1 6.8-0.1 4.9-0.3 3.9-0.4 3-0.6 2.9-1 2-1 0.9-0.6 2-1.5 2-2 1.9-2.6 2-3.3 1.9-4.1 3-7.4 4.9-13.8 1.9-5.2 2-4.7 1.9-3.9 2-3.2 1-1.4 1.9-2.3 1-1 2-1.6 1.9-1.3 2-1.1 1.9-0.8 2-0.7 2-0.5 2.9-0.7 5.9-0.9 6.8-0.6 7.8-0.3 10.8-0.2 42.1 0" stroke="#b5289a" stroke-width="1.0"/>
<path d="M323.6 341.2l8.8-0.2 5.9-0.2 4.9-0.4 3.9-0.7 2.9-0.8 3-1.3 1.9-1.2 1-0.8 2-1.9 1.9-2.5 2-3.1 1.9-4 1-2.4 2-5.2 1.9-6.1 4.9-16.5 3-9.3 1.9-5.4 1-2.5 1-2.2 1.9-3.9 1-1.8 2-3 1.9-2.6 2-2.2 1.9-2 3-2.6 2.9-2.3 3.9-2.8 4-2.4 2.9-1.6 2.9-1.5 3-1.3 2.9-1.1 3.9-1.2 3.9-1 3.9-0.7 4-0.6 3.9-0.4 4.9-0.4 4.9-0.2 12.7-0.3 17.6-0.1" stroke="#3a96b6" stroke-width="1.0"/>
<path d="M323.6 341.2l8.8-0.1 5.9-0.3 4.9-0.4 3.9-0.7 2.9-0.8 2-0.8 1-0.5 1.9-1.3 1-0.8 2-1.9 1.9-2.6 2-3.2 1.9-4.1 2-4.9 2.9-8.8 4.9-16.6 3-9.4 1.9-5.4 1-2.5 2-4.3 0.9-1.9 2-3.3 2-2.9 1.9-2.3 2-2.1 2.9-2.7 2.9-2.3 3-2 2.9-1.8 3-1.6 2.9-1.4 3.9-1.5 2.9-1 4-0.9 2.9-0.6 3.9-0.5 3.9-0.4 3.9-0.2 9.8-0.2 12.7 0.1 20.6 0.7" stroke="#3a96b6" stroke-width="1.0"/>
<path d="M323.6 341.2l9.8-0.1 6.9-0.2 4.8-0.4 4-0.5 1.9-0.4 2-0.6 2.9-1.3 2-1.2 0.9-0.7 2-1.8 2-2.4 1.9-3 2-3.8 1.9-4.5 3-8.1 4.9-15.2 2.9-8.5 2-5 0.9-2.2 2-4 1-1.7 1.9-3.1 2-2.6 1.9-2.2 2-2 2.9-2.4 2-1.5 2.9-1.9 3-1.7 2.9-1.6 2.9-1.3 4-1.5 2.9-1 3.9-1.1 2.9-0.6 4-0.7 7.8-1 9.8-0.8 12.7-0.5 18.6-0.6" stroke="#3a96b6" stroke-width="1.0"/>
<path d="M323.6 341.2l8.8-0.1 5.9-0.2 4.9-0.4 3.9-0.6 2.9-0.7 2-0.7 1-0.5 1.9-1.2 1-0.7 2-1.9 1.9-2.5 2-3.2 1.9-4.2 1-2.4 1-2.6 2-5.9 5.8-20.1 2-6.3 1.9-5.5 2-4.7 1-2 1.9-3.5 1-1.5 2-2.5 1.9-2.1 2-1.7 1.9-1.5 2-1.2 2.9-1.5 3-1.3 2.9-1.1 3-1 2.9-0.7 3.9-0.9 3.9-0.6 3.9-0.5 8.8-0.7 10.8-0.4 13.7-0.1 23.5 0" stroke="#8b8b8b" stroke-width="1.0"/>
<path d="M323.6 341.2l9.8-0.1 6.9-0.2 4.8-0.3 4-0.6 1.9-0.4 2-0.5 2.9-1.2 2-1.2 0.9-0.7 2-1.7 2-2.3 1.9-3 2-3.6 1.9-4.4 3-8 5.8-18.1 2-5.6 2-5 0.9-2.3 2-3.9 1-1.8 1.9-3 1-1.2 2-2.3 0.9-0.9 2-1.7 2-1.4 1.9-1.2 2-1 2.9-1.3 3-1 2.9-0.9 2.9-0.7 3.9-0.8 4-0.5 3.9-0.5 7.8-0.5 10.8-0.4 13.7-0.1 21.5 0.1" stroke="#8b8b8b" stroke-width="1.0"/>
<path d="M323.6 341.2l29.4-0.1 7.8-0.2 4.9-0.2 3.9-0.3 3.9-0.7 3-0.9 1.9-0.9 2-1.4 1-0.8 0.9-1 1-1.2 1-1.4 1-1.7 1-1.9 0.9-2.1 2-5.2 1.9-6.4 2-7.4 4.9-19.3 2-6.8 0.9-2.9 2-5.1 1-2.2 1.9-3.6 2-2.8 1-1.1 1.9-2 2-1.5 1.9-1.4 3-1.6 2.9-1.3 2.9-1.2 4-1.2 3.9-1 3.9-0.8 2.9-0.5 3.9-0.4 4-0.4 4.9-0.2 10.7-0.2 14.7 0.1" stroke="#3a96b6" stroke-width="1.0"/>
<path d="M323.6 341.2l25.5-0.2 5.8-0.2 4.9-0.4 3.9-0.6 2-0.5 2-0.8 1.9-1 1-0.6 2-1.7 1.9-2.2 2-3.1 1.9-4 2-5 1-2.9 1.9-6.4 4.9-18 2-6.7 1.9-5.8 2-4.9 1-2.1 1.9-3.5 1-1.5 2-2.4 0.9-1.1 2-1.7 2-1.5 1.9-1.2 2-1.1 2.9-1.3 2.9-1.1 3-0.9 2.9-0.8 3.9-0.8 3-0.5 3.9-0.5 7.8-0.5 8.8-0.2 11.8 0.1 16.6 0.4" stroke="#3a96b6" stroke-width="1.0"/>
<path d="M323.6 341.2l26.4-0.1 5.9-0.2 4.9-0.4 3.9-0.6 2-0.5 1.9-0.7 2-0.9 1-0.6 1.9-1.6 2-2.1 1.9-2.8 2-3.6 2-4.4 0.9-2.6 2-5.6 4.9-15.9 1.9-6 2-5.4 1-2.4 1.9-4.2 2-3.4 1-1.4 1.9-2.4 1-1 2-1.7 1.9-1.4 2-1 1.9-0.9 2-0.8 2-0.6 2.9-0.7 4.9-0.9 6.8-0.8 6.9-0.5 8.8-0.4 32.3-0.7" stroke="#3a96b6" stroke-width="1.0"/>
<path d="M323.6 341.2l30.4-0.1 6.8-0.2 4.9-0.3 3.9-0.5 2-0.4 1.9-0.6 2-0.9 1-0.5 1.9-1.4 2-1.9 1.9-2.7 2-3.4 2-4.4 1.9-5.4 2-6.3 4.9-17.4 1.9-6.6 2-5.8 1-2.6 1.9-4.4 2-3.6 1-1.5 1.9-2.4 1-1.1 1.9-1.7 1-0.7 2-1.3 1.9-1 2-0.8 3.9-1.3 4.9-1.1 2.9-0.5 4-0.5 6.8-0.6 8.8-0.4 10.8-0.4 17.6-0.5" stroke="#8b8b8b" stroke-width="1.0"/>
<path d="M323.6 341.2l26.4-0.1 5.9-0.2 4.9-0.3 3.9-0.5 2-0.5 1.9-0.6 2-0.9 1-0.6 1.9-1.5 2-2.1 1.9-2.7 2-3.7 2-4.6 0.9-2.7 2-6 5.9-20.7 1.9-6.2 2-5.5 1.9-4.4 2-3.6 1-1.5 1.9-2.5 1-1 2-1.7 1-0.7 1.9-1.2 2-0.9 1.9-0.8 2-0.6 2.9-0.8 4.9-0.8 6.9-0.8 6.8-0.3 9.8-0.2 32.3 0" stroke="#8b8b8b" stroke-width="1.0"/>
<path d="M323.6 341.2l25.5-0.1 5.8-0.2 4.9-0.3 3.9-0.6 3-0.8 1.9-0.8 1-0.5 2-1.4 1.9-1.9 2-2.5 1.9-3.3 2-4.3 1-2.4 1.9-5.6 5.9-19 2-5.9 1.9-5 2-4.1 1.9-3.3 1-1.4 2-2.3 1-1 1.9-1.5 3-1.8 1.9-0.9 2-0.7 1.9-0.6 3-0.7 4.9-0.8 6.8-0.7 6.9-0.4 9.7-0.2 34.3-0.2" stroke="#8b8b8b" stroke-width="1.0"/>
<path d="M323.6 341.2l30.4-0.1 6.8-0.1 4.9-0.3 3.9-0.4 2-0.3 1.9-0.5 3-1 1.9-1.1 1-0.7 2-1.6 0.9-1.1 2-2.5 2-3.3 1.9-4 1-2.4 1.9-5.1 6.9-20.1 2-5 0.9-2.2 2-3.9 2-3.2 0.9-1.4 2-2.2 1-1 1.9-1.6 2-1.3 1.9-1 2-0.9 2-0.6 3.9-1.1 4.9-0.9 5.8-0.8 6.9-0.5 7.8-0.3 10.8-0.3 17.6-0.4" stroke="#b5289a" stroke-width="1.0"/>
<path d="M323.6 341.2l29.4-0.1 5.8-0.1 4.9-0.3 4-0.4 2.9-0.6 2-0.7 0.9-0.4 2-1.1 1.9-1.6 2-2.2 2-2.9 1.9-3.9 1-2.2 2-5.1 4.8-14.8 2-5.7 2-4.9 1.9-4.1 2-3.2 1-1.4 1.9-2.2 1-0.9 2-1.5 1.9-1.2 2-0.9 1.9-0.8 2-0.6 4.9-1.2 5.8-0.9 5.9-0.6 6.9-0.5 8.8-0.4 31.3-0.8" stroke="#b5289a" stroke-width="1.0"/>
<path d="M323.6 341.2l31.3-0.1 6.9-0.1 4.9-0.2 3.9-0.3 3.9-0.7 2.9-0.8 2-0.9 2-1.3 1.9-1.6 2-2.1 1.9-2.8 1-1.5 2-3.6 5.8-12.5 2-3.9 2-3.5 1.9-2.8 2-2.4 1-1 1.9-1.6 1-0.7 1.9-1.1 2-0.9 2-0.8 3.9-1 3.9-0.8 4.9-0.6 6.8-0.6 6.9-0.3 7.8-0.3 28.4-0.4" stroke="#b5289a" stroke-width="1.0"/>
<path d="M323.6 341.2l24.5-0.1 5.9-0.1 4.8-0.1 4-0.4 3.9-0.6 2.9-0.9 2-0.8 1.9-1.2 2-1.5 1.9-2 2-2.6 1-1.5 1.9-3.4 5.9-11.6 2-3.7 1.9-3.2 2-2.7 1.9-2.2 1-0.9 2-1.5 1-0.7 1.9-1 2-0.9 1.9-0.7 3.9-0.9 4.9-0.8 4.9-0.5 6.9-0.4 6.8-0.2 9.8-0.1 33.3 0" stroke="#b5289a" stroke-width="1.0"/>
<path d="M323.6 341.2l27.4-0.1 10.8-0.2 3.9-0.3 3.9-0.5 3-0.8 1.9-0.7 2-1 1.9-1.3 2-1.7 1.9-2.2 2-2.7 2-3.1 4.8-8.6 3-4.8 1.9-2.7 2-2.3 2-1.8 0.9-0.8 2-1.3 2.9-1.4 2-0.8 1.9-0.6 4-0.8 3.9-0.7 4.9-0.5 6.8-0.5 6.9-0.3 8.8-0.2 31.3-0.5" stroke="#b5289a" stroke-width="1.0"/>
<path d="M323.6 341.2l30.4 0 11.7-0.3 3.9-0.2 3.9-0.5 3-0.7 1.9-0.7 2-0.9 1.9-1.3 2-1.7 2-2 0.9-1.3 2-2.7 5.9-9.4 1.9-2.9 2-2.5 1.9-2.1 2-1.7 1-0.7 1.9-1.2 3-1.3 1.9-0.7 2-0.5 3.9-0.8 3.9-0.5 4.9-0.5 6.9-0.4 15.6-0.4 28.4-0.3" stroke="#b5289a" stroke-width="1.0"/>
<path d="M323.6 341.2l44.1 0 13.7-0.3 3.9-0.2 3.9-0.4 2.9-0.7 2-0.7 1-0.4 1.9-1.2 1-0.8 2-1.9 0.9-1.3 1-1.5 1-1.7 2-4.2 0.9-2.5 2-5.9 1.9-6.9 4-15 1.9-7.1 2-6.2 1-2.7 1.9-4.6 2-3.6 1.9-2.8 2-2.1 1-0.9 1.9-1.4 2-1.1 1.9-0.9 2-0.7 2.9-0.9 4.9-1 5.9-0.7 6.8-0.5 8.9-0.3 11.7-0.1" stroke="#8b8b8b" stroke-width="1.0"/>
<path d="M323.6 341.2l45 0 8.8-0.1 5.9-0.2 3.9-0.2 3.9-0.5 3-0.6 1.9-0.7 1-0.5 2-1.2 1-0.8 1.9-2 1-1.3 1-1.5 1.9-3.7 2-4.8 1.9-5.8 2-6.7 4.9-17.7 2-6 0.9-2.7 2-4.5 1.9-3.6 2-2.7 2-2.1 0.9-0.8 2-1.4 2-1 1.9-0.9 2-0.6 1.9-0.6 4.9-0.9 5.9-0.7 6.8-0.4 8.9-0.1 11.7 0.1" stroke="#8b8b8b" stroke-width="1.0"/>
<path d="M323.6 341.2l49.9 0 14.7-0.2 4.9-0.3 3.9-0.5 3-0.8 1.9-0.8 2-1.2 1.9-1.8 1-1.1 1-1.3 1-1.6 0.9-1.8 2-4.5 2-5.5 1.9-6.5 3.9-13.7 2-6.1 1-2.7 1.9-4.6 2-3.6 1.9-2.7 2-2 1-0.8 1.9-1.3 3-1.5 1.9-0.7 2-0.6 4.9-1.1 5.9-0.8 6.8-0.6 7.8-0.3 10.8-0.2" stroke="#8b8b8b" stroke-width="1.0"/>
<path d="M323.6 341.2l50.9 0 15.7-0.2 4.9-0.3 3.9-0.6 2.9-0.8 2-0.9 1.9-1.3 1-0.9 1-1.1 1-1.3 0.9-1.6 1-1.9 1-2.2 1-2.6 1-3 1.9-7 2-8.3 3.9-17.3 1.9-7.6 1-3.2 1-2.9 1-2.6 1-2.2 0.9-1.9 1-1.6 1-1.4 1-1.2 1-1 1.9-1.6 1-0.6 1.9-1.1 2-0.9 2-0.6 1.9-0.6 3-0.7 5.8-1 6.9-0.7 7.8-0.3 9.8-0.2" stroke="#3a96b6" stroke-width="1.0"/>
<path d="M323.6 341.2l49.9 0 14.7-0.2 4.9-0.2 3.9-0.4 3-0.6 1.9-0.7 1-0.4 2-1.1 0.9-0.7 2-1.8 1-1.2 0.9-1.4 1-1.6 2-3.9 1-2.4 1.9-5.5 2-6.5 4.9-17 1.9-5.9 1-2.6 1-2.3 1.9-4 2-3 2-2.4 0.9-0.9 2-1.6 1-0.6 1.9-1.1 2-0.8 1.9-0.7 2-0.6 2.9-0.7 5.9-1 5.9-0.6 7.8-0.5 9.8-0.3" stroke="#3a96b6" stroke-width="1.0"/>
<path d="M323.6 341.2l45 0 14.7-0.2 4.9-0.2 3.9-0.4 3-0.7 1.9-0.7 2-1 1-0.6 1.9-1.8 1-1.2 1-1.3 1-1.6 0.9-1.9 1-2.1 2-5.1 1.9-6.1 4.9-16.4 2-5.7 1-2.5 0.9-2.2 2-3.6 1.9-2.8 2-2 1-0.9 1.9-1.3 2-1 2-0.9 1.9-0.7 2.9-0.8 4.9-1 5.9-0.8 7.8-0.8 8.9-0.5 11.7-0.4" stroke="#3a96b6" stroke-width="1.0"/>
<path d="M323.6 341.2l47 0 14.7-0.2 4.9-0.2 3.9-0.5 2.9-0.6 2-0.6 1-0.4 1.9-1.1 1-0.8 2-1.8 1.9-2.6 2-3.4 1.9-4.3 2-5.2 5.9-18 1.9-5.4 1-2.3 1.9-4.1 2-3.2 2-2.5 1.9-1.8 1-0.8 2-1.2 2.9-1.4 1.9-0.7 2-0.5 2.9-0.7 3-0.5 5.9-0.6 6.8-0.5 7.8-0.2 10.8-0.1" stroke="#b5289a" stroke-width="1.0"/>
<path d="M323.6 341.2l49 0 14.6-0.1 4.9-0.2 3.9-0.3 3-0.5 2.9-0.8 2-0.8 1-0.5 1.9-1.3 2-1.9 1.9-2.5 2-3.2 1.9-3.8 5.9-13.3 2-3.9 0.9-1.8 2-3 2-2.4 1.9-1.8 2-1.4 2.9-1.5 2.9-1 4-1 4.9-0.8 5.8-0.6 5.9-0.3 7.8-0.3 10.8-0.2" stroke="#b5289a" stroke-width="1.0"/>
<path d="M323.6 341.2l48 0 14.7-0.1 7.8-0.3 2.9-0.2 3-0.5 2.9-0.8 2-0.8 1.9-1.1 2-1.5 0.9-1 2-2.1 2-2.6 4.9-6.9 1.9-2.4 1-1.1 1.9-1.8 2-1.4 2-1.1 1.9-0.8 3-0.9 2.9-0.6 3.9-0.5 5.9-0.5 5.9-0.3 6.8-0.2 18.6-0.2" stroke="#b5289a" stroke-width="1.0"/>
<path d="M323.6 341.2l59.7 0 16.7-0.2 5.8-0.3 3.9-0.5 3-0.7 1.9-0.7 1-0.4 2-1.2 1-0.7 1.9-2 2-2.6 0.9-1.6 2-3.9 2-5 1.9-5.9 5.9-20.4 1.9-6.2 1-2.9 1-2.5 2-4.5 1.9-3.5 2-2.8 1.9-2.1 1-0.9 2-1.4 2.9-1.7 2.9-1.2 4-1.2 4.9-1 5.8-0.7 5.9-0.5" stroke="#3a96b6" stroke-width="1.0"/>
<path d="M323.6 341.2l57.8 0 15.6-0.2 4.9-0.2 3.9-0.4 3-0.6 2.9-1 2-1 0.9-0.6 2-1.8 2-2.4 0.9-1.5 2-3.6 1-2.3 1.9-5.1 2-6 4.9-15.9 1.9-5.7 1-2.4 1-2.3 1.9-3.8 2-3 2-2.2 1.9-1.8 1-0.7 2-1.2 2.9-1.3 3.9-1.3 4.9-1.1 4.9-0.7 5.9-0.6 7.8-0.5" stroke="#3a96b6" stroke-width="1.0"/>
<path d="M323.6 341.2l55.8 0 15.7-0.2 5.8-0.3 4-0.4 2.9-0.6 2.9-1 2-1.1 1-0.6 1.9-1.8 2-2.3 1.9-3.1 2-3.9 1.9-4.7 2-5.5 4.9-14.3 2-5.1 0.9-2.3 1-2 2-3.5 1.9-2.8 2-2.1 1.9-1.7 1-0.6 2-1.1 1.9-0.9 2-0.7 3.9-0.9 4.9-0.8 4.9-0.5 5.9-0.3 7.8-0.1" stroke="#3a96b6" stroke-width="1.0"/>
<path d="M323.6 341.2l57.8 0 15.6-0.2 4.9-0.2 3.9-0.4 3-0.5 2.9-0.9 2-1 0.9-0.6 2-1.7 2-2.3 1.9-3 2-3.9 1.9-4.8 5.9-16.6 2-4.9 0.9-2.2 1-2 2-3.4 1.9-2.6 2-2 1.9-1.6 1-0.6 2-1 1.9-0.8 2-0.7 3.9-1 4.9-0.8 4.9-0.6 5.9-0.5 7.8-0.4" stroke="#3a96b6" stroke-width="1.0"/>
<path d="M323.6 341.2l56.8 0 16.6-0.2 4.9-0.2 3.9-0.4 3-0.7 1.9-0.6 1-0.5 2-1.2 0.9-0.7 1-1 1-1.1 1-1.4 1-1.6 0.9-1.8 1-2.2 1-2.4 1.9-5.8 2-6.7 3.9-14.4 2-6.4 1-2.8 0.9-2.5 2-4.3 1-1.7 0.9-1.5 2-2.4 2-1.8 0.9-0.7 2-1.2 2-0.9 1.9-0.7 3.9-1.1 4.9-0.9 5.9-0.7 5.9-0.4 7.8-0.3" stroke="#8b8b8b" stroke-width="1.0"/>
<path d="M323.6 341.2l61.7 0 16.6-0.2 4.9-0.1 3.9-0.4 3-0.5 1.9-0.6 1-0.4 2-1 0.9-0.7 1-0.9 1-1 1-1.2 0.9-1.5 1-1.7 1-2 1-2.2 1.9-5.3 5.9-18.7 2-5.4 0.9-2.4 2-3.8 1-1.6 1.9-2.5 2-1.8 1-0.7 1.9-1.2 3-1.2 2.9-0.8 4.9-1 4.9-0.6 5.9-0.5 7.8-0.3" stroke="#8b8b8b" stroke-width="1.0"/>
<path d="M323.6 341.2l60.7 0 16.6-0.1 4.9-0.2 3.9-0.4 3-0.5 2.9-0.8 2-1 1-0.6 1.9-1.6 2-2.2 1.9-3 1-1.9 2-4.3 1.9-5.1 3.9-10.9 2-5 1-2.2 0.9-2 2-3.4 2-2.6 1.9-1.9 2-1.4 1-0.6 1.9-0.9 3-1 3.9-0.9 3.9-0.6 4.9-0.6 5.8-0.3 6.9-0.2" stroke="#b5289a" stroke-width="1.0"/>
<path d="M323.6 341.2l61.7 0 16.6-0.1 4.9-0.2 3.9-0.2 3-0.4 2.9-0.8 2-0.7 0.9-0.5 2-1.4 1.9-1.9 2-2.5 1-1.5 1.9-3.7 5.9-12.9 2-3.8 0.9-1.7 2-2.8 2-2.2 1.9-1.6 2-1.3 2.9-1.3 3-0.9 2.9-0.6 4.9-0.8 4.9-0.6 5.8-0.4 6.9-0.4" stroke="#b5289a" stroke-width="1.0"/>
<path d="M323.6 341.2l69.5 0 17.6-0.2 5.9-0.3 3.9-0.5 2.9-0.6 2-0.7 1-0.4 1.9-1.2 1-0.8 2-1.9 1.9-2.6 1-1.7 2-4 0.9-2.3 2-5.5 5.9-19.1 1.9-5.9 2-5 1-2.2 1-2 1.9-3.2 2-2.5 1.9-1.9 2-1.5 2.9-1.6 3-1.2 2.9-0.8 3.9-0.9 4.9-0.7" stroke="#3a96b6" stroke-width="1.0"/>
<path d="M323.6 341.2l68.5 0 16.7-0.1 5.8-0.3 4-0.3 3.9-0.7 2.9-0.9 2-1 0.9-0.5 2-1.5 2-2.1 0.9-1.2 2-3.1 1.9-3.8 2-4.6 2-5.2 4.9-13.6 1.9-4.9 2-4.2 1-1.8 0.9-1.7 2-2.7 1.9-2.2 2-1.7 2-1.4 2.9-1.5 2.9-1.1 3-0.8 3.9-0.7 3.9-0.6" stroke="#3a96b6" stroke-width="1.0"/>
<path d="M323.6 341.2l67.5 0 17.7-0.1 5.8-0.2 4-0.4 3.9-0.6 2.9-0.8 2-0.9 0.9-0.5 2-1.4 1-0.9 1.9-2.1 1-1.3 2-3.2 1.9-3.8 2-4.5 5.9-15.3 1.9-4.6 2-4 1-1.7 0.9-1.6 2-2.6 1.9-2.2 2-1.6 2-1.3 2.9-1.5 2.9-1 3-0.8 3.9-0.8 3.9-0.5" stroke="#3a96b6" stroke-width="1.0"/>
<path d="M323.6 341.2l74.4 0 17.6-0.1 5.9-0.2 3.9-0.4 3.9-0.6 3-0.9 1.9-0.9 1-0.6 1.9-1.5 2-1.9 1-1.3 1.9-2.9 2-3.8 2-4.3 5.8-15 2-4.5 1.9-3.8 1-1.7 2-2.8 1-1.2 1.9-2 2-1.5 1.9-1.1 2-0.9 2.9-1.1 3-0.7 2.9-0.5" stroke="#3a96b6" stroke-width="1.0"/>
<path d="M323.6 341.2l76.4 0 17.6-0.2 5.8-0.2 4.9-0.5 3-0.6 1.9-0.7 1-0.4 2-1.1 0.9-0.8 2-1.8 2-2.5 0.9-1.6 2-3.7 1-2.3 1.9-5.1 2-5.8 3.9-12.4 2-5.6 1.9-4.9 1-2.1 2-3.6 0.9-1.5 2-2.5 2-1.9 1.9-1.5 2-1.1 1.9-0.9 3-1.1 2.9-0.8" stroke="#8b8b8b" stroke-width="1.0"/>
</g>
<rect x="315.6" y="233.0" width="168.2" height="114.4" fill="none" stroke="#cacaca" stroke-width="1"/>
<g clip-path="url(#cD2)" fill="none" stroke-linejoin="round" stroke-linecap="round">
<path d="M508.5 336.5l0.9-0.4 1.3-1.1 0.5-0.2 6.2-0.5 3.6-0.5 3.1-0.7 6.7-2.1 3.6-0.7 3.2-0.4 3.5-0.2 13.9-0.2 1.3-0.3 0.9-0.6 0.5-0.5 0.9-1.7 0.9-2.7 0.9-4 0.8-5.3 1.8-13.2 7.6-60.5 0.5-2.9 0.4-1.2 0.5 1 0.4 2.8 8.5 69.6 1.8 13.5 0.9 5.6 0.9 4.1 0.9 2.9 0.4 1.1 0.9 1.3 0.5 0.4 0.9 0.4 0.9 0.1 1.3 0.1 70.2 0" stroke="#8b8b8b" stroke-width="1.0"/>
<path d="M508.5 336.9l0.9-0.4 1.3-1.1 0.5-0.2 6.2-0.5 3.6-0.5 3.1-0.7 6.7-2.1 2.7-0.6 3.2-0.4 3.5-0.3 13.4-0.2 0.9-0.3 0.5-0.2 0.9-0.8 0.4-0.6 0.9-2 0.9-3.1 0.9-4.2 0.9-5.4 1.8-12.4 7.6-55.7 0.4-2.8 0.5-1.7 0.4 0.2 0.5 2.3 0.4 3.3 7.6 62.7 1.4 10.5 0.9 6.2 0.9 5.1 0.8 3.6 0.9 2.4 0.9 1.4 0.5 0.4 0.9 0.5 0.9 0.1 1.3 0.1 72 0" stroke="#8b8b8b" stroke-width="1.0"/>
<path d="M508.5 339.4l0.9-0.4 1.3-1.1 0.5-0.2 6.2-0.5 3.6-0.5 3.1-0.7 6.7-2.1 3.2-0.7 3.1-0.4 3.6-0.2 12.5-0.2 1.3-0.3 0.9-0.6 0.5-0.4 0.9-1.6 0.9-2.5 0.9-3.7 0.9-4.8 1.7-11.6 8.1-56.8 0.4-2.6 0.5-1 0.4 1.1 0.5 2.5 8.5 62.1 1.8 12.2 0.9 5 0.8 4 0.9 2.7 0.5 1 0.9 1.3 0.4 0.4 0.9 0.5 0.9 0.1 1.4 0.1 71.5 0" stroke="#8b8b8b" stroke-width="1.0"/>
<path d="M508.5 337.6l0.9-0.5 1.3-1.1 0.5-0.1 6.2-0.5 3.6-0.6 3.1-0.7 6.7-2 3.2-0.7 3.1-0.5 3.6-0.2 12.1-0.2 1.3-0.3 0.9-0.6 0.4-0.4 0.9-1.6 0.9-2.5 0.9-3.5 0.9-4.6 1.8-11.1 8-53.5 0.5-2.5 0.4-1.2 0.5 0.7 0.4 2.3 0.5 3 8 57.7 1.8 12 0.9 5.1 0.9 3.9 0.9 2.7 0.4 1 0.9 1.3 0.5 0.4 0.9 0.5 0.9 0.1 1.3 0.1 72 0" stroke="#8b8b8b" stroke-width="1.0"/>
<path d="M508.5 337.3l0.9-0.5 1.3-1 0.5-0.2 6.2-0.5 3.6-0.5 3.1-0.8 6.7-2 3.2-0.7 3.1-0.4 3.6-0.3 13.8-0.2 1.4-0.3 0.9-0.6 0.4-0.6 0.9-1.6 0.9-2.5 0.5-1.7 0.9-4.1 2.2-13.3 7.1-46 0.5-2.7 0.4-1.9 0.5-0.5 0.4 1.5 0.5 2.7 7.6 54.1 1.8 12 0.9 5 0.8 3.8 0.9 2.7 0.5 1 0.9 1.2 0.4 0.4 0.9 0.5 0.9 0.1 1.4 0.1 71.5 0" stroke="#8b8b8b" stroke-width="1.0"/>
<path d="M508.5 337.2l0.9-0.5 1.3-1.1 0.5-0.1 6.2-0.5 3.6-0.5 3.1-0.8 6.7-2 3.2-0.7 3.1-0.4 3.6-0.3 12.1-0.2 1.3-0.2 0.9-0.5 0.4-0.5 0.9-1.4 0.9-2.2 0.9-3.2 0.9-4.1 1.8-10.1 7.2-43.1 0.4-2.5 0.4-1.9 0.5-0.4 0.4 1.2 0.5 2.4 8.5 52.3 1.8 10.4 0.9 4.3 0.9 3.4 0.8 2.5 0.5 0.8 0.9 1.2 0.4 0.4 0.9 0.4 0.9 0.1 1.4 0.1 72.4 0" stroke="#8b8b8b" stroke-width="1.0"/>
<path d="M508.5 337.6l0.9-0.4 1.3-1.1 0.5-0.1 6.2-0.6 3.6-0.5 3.1-0.7 6.7-2 3.6-0.8 3.2-0.4 3.5-0.2 13.4-0.2 1.4-0.3 0.9-0.6 0.4-0.4 0.9-1.5 0.9-2.1 1.4-4.9 1.7-8.5 8.5-44 0.5-1.7 0.4-0.4 0.5 1.2 0.4 2.2 7.6 46.5 2.3 12.5 0.8 3.9 0.9 2.9 0.9 1.9 0.9 1.2 0.5 0.4 0.9 0.4 0.9 0.1 1.3 0.1 71.1 0" stroke="#8b8b8b" stroke-width="1.0"/>
<path d="M508.5 339.6l0.9-0.5 1.3-1.1 0.5-0.1 6.2-0.6 3.6-0.5 3.1-0.7 6.7-2 3.6-0.8 3.2-0.4 3.5-0.2 14.3-0.2 1.4-0.2 0.9-0.5 0.4-0.4 0.9-1.2 0.9-2 0.9-2.7 0.9-3.5 1.8-8.3 7.1-35.2 0.5-1.8 0.4-0.9 0.5 0.5 0.9 3.6 8 39.1 2.2 10.3 0.9 3.4 0.9 2.6 0.9 1.9 0.5 0.7 0.9 0.9 0.4 0.2 0.9 0.3 2.2 0.2 69.8 0" stroke="#8b8b8b" stroke-width="1.0"/>
<path d="M508.5 337.8l0.9-0.5 1.3-1.1 0.5-0.1 6.2-0.5 3.6-0.6 3.1-0.7 6.7-2 3.6-0.8 2.7-0.4 3.6-0.2 12.5-0.2 1.3-0.2 0.9-0.5 0.5-0.4 0.9-1.1 0.9-1.8 0.9-2.4 0.9-3 1.7-6.8 8.1-32.3 0.4-1.5 0.5-0.8 0.4 0.3 0.5 1.5 0.4 2 7.6 37 2.3 10 0.9 3.2 0.8 2.3 0.9 1.5 0.9 1 0.5 0.3 0.9 0.3 2.2 0.2 72 0" stroke="#8b8b8b" stroke-width="1.0"/>
<path d="M508.5 338.1l0.9-0.5 1.3-1.1 0.5-0.1 6.2-0.5 3.6-0.6 3.1-0.7 6.7-2 3.2-0.7 3.1-0.5 3.6-0.2 13.8-0.2 1.4-0.3 0.9-0.7 0.4-0.6 0.9-1.8 0.9-2.8 0.9-3.9 0.9-5.1 1.8-11.9 8-56.9 0.5-2.5 0.4-1.2 0.5 1 0.4 2.5 8.5 65 1.8 12.7 0.9 5.2 0.9 3.9 0.9 2.7 0.4 1 0.9 1.2 0.5 0.4 0.9 0.4 0.9 0.1 1.3 0.1 70.2 0" stroke="#8b8b8b" stroke-width="1.0"/>
<path d="M508.5 339.5l0.9-0.4 1.3-1.1 0.5-0.2 6.2-0.5 3.6-0.5 3.1-0.7 6.7-2.1 3.2-0.7 3.1-0.4 3.6-0.2 13.8-0.2 0.9-0.2 0.5-0.2 0.9-0.7 0.4-0.6 0.9-1.8 0.9-2.7 0.9-3.8 0.9-4.8 1.8-11 7.6-49 0.4-2.5 0.5-1.4 0.4 0.3 0.5 2 0.4 2.9 7.6 54.1 1.4 9.1 0.9 5.4 0.8 4.3 0.9 3.2 0.9 2.1 0.9 1.3 0.5 0.4 0.9 0.4 0.9 0.1 1.3 0.1 71.1 0" stroke="#8b8b8b" stroke-width="1.0"/>
<path d="M508.5 338l0.9-0.4 1.3-1.1 0.5-0.2 5.8-0.6 1.8-0.3 1.8-0.6 1.3-0.6 1.4-0.7 1.3-1 0.9-0.8 1.3-1.5 1.4-1.7 2.2-3.6 2.2-4.3 5-10.6 1.7-3.3 1.4-1.9 0.9-0.9 0.9-0.6 0.9-0.2 0.9 0.3 0.9 0.6 0.8 1.1 0.9 1.5 1.8 3.8 4.1 10 1.3 2.8 0.9 1.6 0.9 1.3 1.3 1.7 1.4 1.2 1.3 0.8 1.3 0.5 1.8 0.5 1.8 0.2 2.3 0.1 27.2 0.2 1.8 0 1.4-0.3 0.8-0.5 0.5-0.3 0.9-1 0.9-1.4 0.9-2 1.8-4.7 7.1-20.2 0.5-1 0.4-0.3 0.5 0.6 0.4 1.3 7.2 25.3 1.7 5.8 1.4 3.4 0.9 1.5 0.9 1 0.4 0.3 0.9 0.4 0.9 0.2 1.3 0.1 32.7 0" stroke="#b5289a" stroke-width="1.0"/>
<path d="M508.5 335.5l0.9-0.4 1.3-1.1 0.5-0.2 1.8-0.1 4.4-0.5 1.8-0.4 1.8-0.6 1.4-0.5 1.3-0.8 1.3-1 0.9-0.8 2.3-2.4 1.3-1.9 1.3-2.1 2.3-4 4.5-8.7 1.7-3 1.4-1.8 0.9-0.8 0.9-0.6 0.9-0.3 0.9 0.1 0.4 0.2 0.9 0.7 0.9 1.1 0.9 1.4 0.9 1.7 4 8.9 1.3 2.7 0.9 1.6 1.4 2 1.3 1.5 1.4 1.1 1.3 0.8 1.3 0.5 1.8 0.4 1.8 0.3 2.3 0.1 27.2 0.2 1.8-0.1 1.4-0.2 0.8-0.4 0.9-0.7 0.9-1.1 0.9-1.5 0.9-1.9 1.4-3.3 7.1-18.3 0.5-0.9 0.4-0.2 0.5 0.6 0.4 1.3 7.2 24.9 1.7 5.7 1.4 3.4 0.9 1.4 0.9 1 0.4 0.3 0.9 0.4 0.9 0.2 1.3 0.1 32.7 0" stroke="#b5289a" stroke-width="1.0"/>
<path d="M508.5 337.2l0.9-0.4 1.3-1.1 0.5-0.2 6.2-0.6 1.8-0.3 1.8-0.5 1.4-0.6 1.3-0.7 2.2-1.6 1.4-1.2 1.3-1.5 2.2-3 2.3-3.7 4.9-8.8 1.8-2.7 1.3-1.6 0.9-0.8 0.9-0.5 0.9-0.2 0.9 0.1 0.9 0.5 0.9 0.8 0.9 1.2 1.8 3.2 4 8.2 1.3 2.4 1.4 1.9 0.9 1.1 1.3 1.2 0.9 0.7 1.4 0.7 1.3 0.4 1.8 0.4 1.8 0.2 2.7 0.1 26.3 0.2 1.8-0.1 1.4-0.3 0.8-0.6 0.5-0.5 0.9-1.3 0.9-1.8 0.9-2.5 1.8-6.2 7.1-26.4 0.5-1.3 0.4-0.4 0.5 0.8 0.4 1.6 7.2 31.9 1.7 7.4 1.4 4.3 0.9 1.9 0.9 1.2 0.4 0.4 0.9 0.6 0.9 0.2 1.3 0.1 32.7 0" stroke="#b5289a" stroke-width="1.0"/>
<path d="M508.5 336.4l0.9-0.4 1.3-1.1 0.5-0.1 6.2-0.7 1.8-0.3 1.8-0.5 1.4-0.6 1.3-0.6 2.2-1.6 2.3-2.2 1.3-1.6 1.3-1.8 2.3-3.4 4.5-7.5 1.7-2.6 1.4-1.5 0.9-0.8 0.9-0.5 0.9-0.3 0.9 0 0.4 0.2 0.9 0.5 0.9 0.9 0.9 1.1 0.9 1.4 4.5 8.4 1.3 2.2 0.9 1.3 1.3 1.6 1.4 1.2 1.3 0.8 1.4 0.7 1.3 0.4 1.8 0.3 4.5 0.2 26.3 0.2 1.8-0.1 1.4-0.3 0.8-0.6 0.5-0.4 0.9-1.3 0.9-1.8 0.9-2.4 1.8-5.9 7.1-25.6 0.5-1.2 0.4-0.4 0.5 0.8 0.4 1.6 7.2 31.5 1.7 7.3 1.4 4.2 0.9 1.9 0.9 1.2 0.4 0.5 0.9 0.5 0.9 0.2 1.3 0.1 32.7 0" stroke="#b5289a" stroke-width="1.0"/>
<path d="M508.5 338.7l0.9-0.4 1.3-1.1 0.5-0.2 6.2-0.6 1.8-0.3 1.8-0.5 2.3-1 2.2-1.4 2.2-1.9 1.4-1.5 1.3-1.6 2.2-3.1 5-7.5 1.7-2.4 1.4-1.4 0.9-0.6 0.9-0.5 0.9-0.2 0.9 0.1 0.4 0.1 0.9 0.6 0.9 0.8 0.9 1.1 0.9 1.3 4 6.8 2.2 3.3 1.4 1.6 1.3 1.1 1.4 0.9 1.3 0.6 1.8 0.5 1.8 0.3 5.3 0.2 25.5 0.2 1.8-0.1 0.9-0.3 0.5-0.3 0.8-0.9 0.5-0.7 0.9-1.9 0.9-2.8 0.9-3.8 1.8-9.2 7.1-39.7 0.5-2 0.4-0.7 0.5 1 0.4 2.3 7.2 44.3 1.7 10.2 1.4 6 0.9 2.6 0.9 1.7 0.4 0.6 0.9 0.7 0.9 0.3 1.3 0.2 32.7 0" stroke="#b5289a" stroke-width="1.0"/>
<path d="M508.5 339.5l0.9-0.5 1.3-1.1 0.5-0.1 5.8-0.6 3.1-0.5 1.8-0.6 1.4-0.5 1.3-0.7 1.3-0.9 2.3-1.8 2.6-2.8 2.3-2.8 4.9-6.7 1.8-2.2 1.3-1.2 0.9-0.7 0.9-0.4 0.9-0.2 0.9 0 0.5 0.2 0.8 0.4 0.9 0.7 0.9 1 0.9 1.1 4.1 6.2 2.2 3 1.3 1.4 1.4 1.1 1.3 0.8 1.4 0.5 1.3 0.4 1.8 0.3 4.5 0.3 26.3 0.2 1.8-0.1 1.4-0.3 0.8-0.5 0.5-0.3 0.9-1 0.9-1.5 0.9-2 1.8-4.9 7.1-21.2 0.5-1 0.4-0.3 0.5 0.6 0.4 1.3 7.2 25.2 1.7 5.8 1.4 3.4 0.9 1.5 0.9 1 0.4 0.3 0.9 0.4 0.9 0.2 1.3 0.1 32.7 0" stroke="#b5289a" stroke-width="1.0"/>
<path d="M508.5 335.8l0.9-0.5 1.3-1.1 0.5-0.1 5.8-0.5 3.1-0.6 1.8-0.4 1.4-0.6 1.3-0.6 1.3-0.7 1.4-1 1.3-1 2.7-2.6 2.2-2.5 4.5-5.5 2.2-2.4 1.4-1.2 0.9-0.5 0.9-0.4 0.9-0.2 1.3 0.2 0.9 0.4 0.9 0.6 0.9 0.9 0.9 1 4 5.5 2.2 2.7 1.4 1.2 1.3 1 1.4 0.7 1.3 0.5 1.8 0.4 1.8 0.2 5.8 0.2 24.6 0.2 1.8-0.2 0.9-0.4 0.8-0.8 0.5-0.6 0.9-1.7 0.9-2.4 0.9-3.3 1.8-8 7.1-34.5 0.5-1.7 0.4-0.5 0.5 0.9 0.4 2.1 7.2 40.9 1.7 9.5 1.4 5.4 0.9 2.5 0.9 1.6 0.4 0.5 0.9 0.7 0.9 0.3 1.3 0.1 32.7 0" stroke="#b5289a" stroke-width="1.0"/>
<path d="M508.5 338l0.9-0.4 1.3-1.1 0.5-0.2 5.3-0.5 2.7-0.4 2.7-0.7 2.7-1.2 2.2-1.4 2.7-2.2 2.2-2.2 4.5-4.8 2.2-2.1 1.4-1 0.9-0.6 1.3-0.5 0.9-0.1 1.4 0.1 0.9 0.4 0.8 0.5 1.8 1.5 4.1 4.5 2.2 2.2 1.3 0.9 1.4 0.8 1.3 0.6 1.4 0.4 3.1 0.4 5.4 0.2 26.3 0.2 1.8 0 1.4-0.3 0.8-0.5 0.5-0.4 0.9-1.1 0.9-1.5 0.9-2.1 1.8-5.1 7.1-21.9 0.5-1.1 0.4-0.3 0.5 0.6 0.4 1.4 7.2 26.9 1.7 6.3 1.4 3.6 0.9 1.6 0.9 1 0.4 0.4 0.9 0.4 0.9 0.2 1.3 0.1 32.7 0" stroke="#b5289a" stroke-width="1.0"/>
<path d="M508.5 338.3l0.9-0.5 1.3-1 0.5-0.2 5.3-0.5 2.7-0.3 2.7-0.7 2.7-1 2.2-1.2 2.7-1.8 2.2-1.8 5-4.1 2.2-1.7 2.2-1.2 1.4-0.5 0.9-0.1 0.9 0 0.9 0.2 0.8 0.3 0.9 0.5 1.8 1.3 4.5 3.8 2.2 1.5 2.3 1 2.7 0.6 2.6 0.3 3.6 0.2 26.8 0.2 2.7-0.1 1.4-0.4 0.8-0.7 0.5-0.5 0.9-1.4 0.9-2.2 0.9-2.8 1.8-6.9 7.1-29.8 0.5-1.4 0.4-0.5 0.5 0.8 0.4 1.8 7.2 34.6 1.7 8 1.4 4.6 0.9 2.1 0.9 1.3 0.4 0.5 0.9 0.5 0.9 0.3 1.3 0.1 32.7 0" stroke="#b5289a" stroke-width="1.0"/>
<path d="M508.5 338.1l0.9-0.5 1.3-1.1 0.5-0.1 5.8-0.5 2.2-0.3 2.7-0.6 2.7-0.9 2.2-1 2.3-1.2 7.6-4.7 2.2-1.3 1.3-0.6 1.4-0.5 1.3-0.3 0.9-0.1 1.4 0 1.7 0.5 1.8 0.8 4.5 2.6 2.2 1.1 2.7 0.9 2.7 0.5 2.7 0.3 3.6 0.1 25.9 0.2 3.1-0.1 1.4-0.3 0.8-0.4 0.5-0.4 0.9-0.9 0.9-1.4 0.9-1.9 1.8-4.6 7.1-20 0.5-0.9 0.4-0.3 0.5 0.6 0.4 1.3 7.2 24.9 1.7 5.7 1.4 3.4 0.9 1.4 0.9 1 0.4 0.3 0.9 0.4 0.9 0.2 1.3 0.1 32.7 0" stroke="#b5289a" stroke-width="1.0"/>
<path d="M508.5 336.4l0.9-0.5 1.3-1.1 0.5-0.1 7.6-0.7 2.7-0.5 2.2-0.6 3.6-1.3 7.1-3.2 3.6-1.4 3.1-1 2.7-0.4 1.8 0 1.8 0.2 1.8 0.4 4.9 1.7 2.2 0.6 2.7 0.5 2.7 0.3 6.3 0.2 26.3 0.2 1.8-0.2 0.9-0.2 0.5-0.3 0.8-0.8 0.5-0.7 0.9-1.8 0.9-2.7 0.9-3.6 1.8-8.7 7.1-37.7 0.5-1.9 0.4-0.6 0.5 1 0.4 2.2 7.2 43.8 1.7 10.1 1.4 5.8 0.9 2.6 0.9 1.7 0.4 0.6 0.9 0.7 0.9 0.3 1.3 0.2 32.7 0" stroke="#b5289a" stroke-width="1.0"/>
<path d="M508.5 337.5l0.9-0.5 1.3-1.1 0.5-0.1 6.7-0.7 1.8-0.4 1.8-0.5 1.8-0.8 1.3-0.9 1.3-1 1.4-1.4 1.3-1.6 1.4-2 1.3-2.3 1.3-2.6 2.3-5.1 4.4-11.4 1.4-3 0.9-1.7 1.3-2.1 0.9-1 0.9-0.5 0.9-0.2 0.9 0.3 0.9 0.8 0.9 1.2 0.9 1.6 1.8 4 3.5 9.7 1.8 4.5 1.8 3.7 1.8 2.9 0.9 1.1 1.3 1.4 0.9 0.6 1.4 0.8 1.3 0.5 1.4 0.4 3.1 0.4 6.2 0.2 34.5 0.2 2.2-0.2 1.3-0.4 0.9-0.7 0.9-0.9 1.4-2.1 2.2-4.7 8.5-18.9 0.4-0.7 0.5-0.2 0.4 0.7 0.5 1.2 8.5 27.8 1.3 3.5 0.5 0.9 0.9 1.4 0.4 0.5 0.9 0.8 0.9 0.3 0.9 0.2 2.2 0.1 13.9 0" stroke="#3a96b6" stroke-width="1.0"/>
<path d="M508.5 340.9l0.9-0.4 1.3-1.1 0.5-0.2 6.2-0.5 3.6-0.6 3.1-0.8 6.3-2.1 2.7-0.7 3.6-0.8 3.5-0.3 2.7-0.1 3.1 0 13.5 0.5 10.2 0.2 45.2 0.3 1.8 0 1.3-0.2 1.4-0.7 0.8-0.7 0.9-1.2 0.9-1.5 2.3-4.6 8.5-18.9 0.4-0.8 0.5-0.2 0.4 0.6 0.5 1.1 8.4 25.3 1.4 3.2 0.4 0.8 0.9 1.3 0.5 0.5 0.9 0.6 0.9 0.4 0.9 0.1 1.7 0.1 9.9 0" stroke="#3a96b6" stroke-width="1.0"/>
<path d="M508.5 337l0.9-0.4 1.3-1.1 0.5-0.2 6.7-0.6 2.2-0.3 1.8-0.4 3.6-1.1 7.1-2.8 4.1-1.4 4-1 3.6-0.5 2.2-0.1 2.7 0.2 2.7 0.4 6.2 1.2 3.1 0.5 3.6 0.4 4 0.2 9 0.2 36.6 0.2 2.3 0 1.3-0.2 1.4-0.6 0.8-0.8 0.9-1.2 0.9-1.5 2.3-4.6 8.5-18.9 0.4-0.7 0.5-0.2 0.4 0.7 0.5 1.2 8.4 28.1 1.4 3.6 0.4 0.9 0.9 1.4 0.5 0.5 0.9 0.8 0.9 0.3 0.9 0.2 1.7 0.1 9.9 0" stroke="#3a96b6" stroke-width="1.0"/>
<path d="M508.5 336l0.9-0.5 1.3-1.1 0.5-0.1 6.2-0.6 3.2-0.4 3.5-0.9 6.7-2.1 3.2-0.8 4-0.7 4.5-0.5 3.5-0.1 3.6 0 13.9 0.7 9.8 0.2 41.6 0.3 1.8-0.1 1.3-0.2 1.4-0.6 0.8-0.8 0.9-1.1 0.9-1.5 2.3-4.7 8.5-18.9 0.4-0.7 0.5-0.2 0.4 0.7 0.5 1.3 8.4 28.9 1.4 3.7 0.4 0.9 0.9 1.5 0.5 0.5 0.9 0.7 0.9 0.4 0.9 0.2 1.7 0.1 9.9 0" stroke="#3a96b6" stroke-width="1.0"/>
<path d="M508.5 335.9l0.9-0.5 1.3-1.1 0.5-0.1 6.7-0.6 4-0.7 3.1-0.9 7.2-2.6 4.5-1.3 4.9-1.2 2.2-0.4 2.2-0.2 2.7-0.1 2.7 0.2 2.7 0.3 9.4 1.6 3.6 0.3 4 0.3 8.5 0.1 34.8 0.3 2.3-0.1 1.3-0.2 1.4-0.6 0.8-0.8 0.9-1.1 0.9-1.5 2.3-4.7 8.5-18.9 0.4-0.7 0.5-0.2 0.4 0.7 0.5 1.3 8.4 29 1.4 3.6 0.4 1 0.9 1.4 0.5 0.6 0.9 0.7 0.9 0.4 0.9 0.2 1.7 0.1 9.9 0" stroke="#3a96b6" stroke-width="1.0"/>
<path d="M508.5 339.3l0.9-0.4 1.3-1.1 0.5-0.2 6.7-0.6 3.6-0.6 3.5-1 7.2-2.7 3.6-1.2 4-1 2.2-0.3 1.8-0.1 2.2-0.1 2.7 0.1 2.7 0.3 9.4 1.4 3.6 0.3 4 0.2 8.9 0.2 37.1 0.2 2.3 0 1.3-0.2 1.4-0.6 0.8-0.8 0.9-1.2 0.9-1.5 2.3-4.6 8.5-18.9 0.4-0.7 0.5-0.2 0.4 0.6 0.5 1.1 8.4 26.5 1.4 3.3 0.4 0.9 0.9 1.3 0.5 0.5 0.9 0.7 0.9 0.4 0.9 0.1 1.7 0.1 9.9 0" stroke="#3a96b6" stroke-width="1.0"/>
<path d="M508.5 336.6l0.9-0.4 1.3-1.1 0.5-0.2 6.7-0.6 2.2-0.3 1.8-0.4 3.6-1.2 7.6-3.2 3.6-1.4 3.5-1 1.8-0.3 1.8-0.2 2.2 0 2.7 0.2 2.7 0.5 5.8 1.3 3.2 0.6 3.5 0.4 4.1 0.3 8.9 0.2 37.5 0.3 2.3-0.1 1.3-0.2 1.4-0.6 0.8-0.8 0.9-1.1 0.9-1.5 2.3-4.7 8.5-18.9 0.4-0.7 0.5-0.2 0.4 0.7 0.5 1.3 8.4 28.3 1.4 3.6 0.4 1 0.9 1.4 0.5 0.5 0.9 0.8 0.9 0.3 0.9 0.2 1.7 0.1 9.9 0" stroke="#3a96b6" stroke-width="1.0"/>
<path d="M508.5 340.7l0.9-0.5 1.3-1.1 0.5-0.1 6.2-0.6 3.6-0.5 3.6-1 5.8-2 3.1-0.9 3.6-0.8 3.6-0.3 2.7-0.1 3.1 0 12.5 0.7 9.4 0.3 46.5 0.3 1.8-0.1 1.3-0.2 1.4-0.6 0.8-0.8 0.9-1.1 0.9-1.5 2.3-4.7 8.5-18.9 0.4-0.7 0.5-0.2 0.4 0.5 0.5 1.2 8.4 25.4 1.4 3.3 0.4 0.8 0.9 1.3 0.5 0.5 0.9 0.6 0.9 0.4 0.9 0.1 1.7 0.1 9.9 0" stroke="#3a96b6" stroke-width="1.0"/>
<path d="M508.5 340.5l0.9-0.5 1.3-1.1 0.5-0.1 7.1-0.7 2.3-0.3 1.8-0.4 3.5-1.1 7.6-3 4.5-1.5 4.5-1.2 1.8-0.4 1.7-0.2 2.3 0 2.7 0.2 2.6 0.5 5.9 1.3 3.1 0.6 3.6 0.5 4 0.3 8.5 0.2 35.3 0.3 2.7-0.1 1.3-0.2 1.4-0.6 0.8-0.8 0.9-1.1 0.9-1.5 2.3-4.7 8.5-18.8 0.4-0.8 0.5-0.2 0.4 0.6 0.5 1.1 8.4 25.6 1.4 3.2 0.4 0.9 0.9 1.3 0.5 0.5 0.9 0.6 0.9 0.4 0.9 0.1 1.7 0.1 9.9 0" stroke="#3a96b6" stroke-width="1.0"/>
<path d="M508.5 336.7l0.9-0.5 1.3-1.1 0.5-0.1 6.2-0.6 3.6-0.5 3.6-0.9 6.7-2.4 3.6-1 4-0.8 4.5-0.5 2.6-0.1 3.2 0.1 12.5 1.1 8 0.3 44.7 0.4 2.3-0.1 1.3-0.2 1.4-0.6 0.8-0.8 0.9-1.1 0.9-1.5 2.3-4.7 8.5-18.9 0.4-0.7 0.5-0.2 0.4 0.7 0.5 1.3 8.4 28.3 1.4 3.6 0.4 1 0.9 1.4 0.5 0.5 0.9 0.8 0.9 0.3 0.9 0.2 1.7 0.1 9.9 0" stroke="#3a96b6" stroke-width="1.0"/>
<path d="M508.5 340.5l0.9-0.5 1.3-1.1 0.5-0.1 6.7-0.6 2.2-0.4 1.8-0.3 3.6-1.2 7.1-2.9 3.6-1.3 4-1.1 1.8-0.3 1.8-0.2 2.2 0 2.7 0.1 2.7 0.4 6.3 1.3 3.1 0.5 3.6 0.4 4 0.3 8.9 0.1 37.1 0.3 2.3 0 1.3-0.3 1.4-0.6 0.8-0.8 0.9-1.1 0.9-1.5 2.3-4.7 8.5-18.8 0.4-0.8 0.5-0.2 0.4 0.6 0.5 1.1 8.4 25.6 1.4 3.2 0.4 0.9 0.9 1.3 0.5 0.5 0.9 0.6 0.9 0.4 0.9 0.1 1.7 0.1 9.9 0" stroke="#3a96b6" stroke-width="1.0"/>
<path d="M508.5 341.6l0.9-0.4 1.3-1.1 0.5-0.2 6.7-0.6 2.2-0.3 1.8-0.4 3.6-1.1 6.7-2.7 3.6-1.2 4-1 3.6-0.5 2.6-0.1 2.7 0.2 11.7 1.8 3.5 0.4 4.1 0.2 8.9 0.2 37.5 0.2 2.3 0 1.3-0.2 1.4-0.6 0.8-0.8 0.9-1.2 0.9-1.5 2.3-4.6 8.5-18.9 0.4-0.8 0.5-0.2 0.4 0.6 0.5 1.1 8.4 24.7 1.4 3.2 0.4 0.8 0.9 1.2 0.5 0.5 0.9 0.6 0.9 0.4 0.9 0.1 11.6 0.1" stroke="#3a96b6" stroke-width="1.0"/>
<path d="M508.5 340.1l0.9-0.5 1.3-1.1 0.5-0.1 6.2-0.5 3.6-0.6 3.1-0.7 7.6-2.5 4.1-1.1 6.7-1.4 2.7-0.4 2.6-0.2 2.7-0.1 3.1 0.2 12.1 1.5 3.6 0.3 4 0.2 8.5 0.2 32.6 0.2 2.3-0.1 1.3-0.2 1.4-0.6 0.8-0.8 0.9-1.1 0.9-1.5 2.3-4.7 8.5-18.8 0.4-0.8 0.5-0.2 0.4 0.6 0.5 1.1 8.4 25.9 1.4 3.3 0.4 0.9 0.9 1.3 0.5 0.4 0.9 0.7 0.9 0.4 0.9 0.1 1.7 0.1 9.9 0" stroke="#3a96b6" stroke-width="1.0"/>
<path d="M508.5 337.7l0.9-0.5 1.3-1.1 0.5-0.1 7.1-0.8 2.3-0.4 2.2-0.6 3.1-1.2 6.7-3.4 3.2-1.3 3.1-1 1.8-0.3 1.3-0.1 2.3-0.1 2.2 0.3 2.7 0.5 5.8 1.4 3.1 0.7 3.6 0.5 4 0.4 9 0.2 39.3 0.3 2.7-0.1 1.3-0.2 1.4-0.6 0.8-0.8 0.9-1.1 0.9-1.5 2.3-4.7 8.5-18.9 0.4-0.7 0.5-0.2 0.4 0.7 0.5 1.2 8.4 27.6 1.4 3.5 0.4 0.9 0.9 1.4 0.5 0.6 0.9 0.7 0.9 0.3 0.9 0.2 1.7 0.1 9.9 0" stroke="#3a96b6" stroke-width="1.0"/>
<path d="M508.5 335.8l0.9-0.5 1.3-1.1 0.5-0.1 6.7-0.6 3.6-0.7 3.5-1.1 7.2-3.1 3.1-1.1 3.6-0.9 3.1-0.4 2.3 0 2.2 0.1 2.7 0.4 8.9 1.5 3.6 0.3 4.5 0.3 8.9 0.1 39.3 0.3 2.3 0 1.3-0.2 1.4-0.7 0.8-0.8 0.9-1.1 0.9-1.5 2.3-4.6 8.5-18.9 0.4-0.8 0.5-0.1 0.4 0.7 0.5 1.3 8.4 29 1.4 3.6 0.4 1 0.9 1.4 0.5 0.6 0.9 0.7 0.9 0.4 0.9 0.2 1.7 0.1 9.9 0" stroke="#3a96b6" stroke-width="1.0"/>
<path d="M508.5 338.4l0.9-0.5 1.3-1.1 0.5-0.1 6.2-0.5 3.6-0.6 3.1-0.7 7.2-2.4 4-1.1 4.9-1 5-0.5 3.1-0.2 3.1 0.2 12.5 1.2 8.1 0.4 42.4 0.3 2.3 0 1.3-0.2 1.4-0.7 0.8-0.8 0.9-1.1 0.9-1.5 2.3-4.6 8.5-18.9 0.4-0.8 0.5-0.1 0.4 0.6 0.5 1.2 8.4 27.1 1.4 3.4 0.4 0.9 0.9 1.4 0.5 0.5 0.9 0.7 0.9 0.4 0.9 0.1 1.7 0.1 9.9 0" stroke="#3a96b6" stroke-width="1.0"/>
<path d="M508.5 340.3l0.9-0.5 1.3-1.1 0.5-0.1 6.2-0.6 3.6-0.6 3.6-0.9 6.2-2.3 3.2-1 3.6-0.7 3.5-0.4 2.7-0.1 2.7 0.1 12.1 0.9 8.5 0.3 47.3 0.4 2.3-0.1 1.3-0.2 1.4-0.6 0.8-0.8 0.9-1.1 0.9-1.5 2.3-4.7 8.5-18.9 0.4-0.7 0.5-0.2 0.4 0.6 0.5 1.1 8.4 25.8 1.4 3.2 0.4 0.9 0.9 1.3 0.5 0.4 0.9 0.7 0.9 0.4 0.9 0.1 1.7 0.1 9.9 0" stroke="#3a96b6" stroke-width="1.0"/>
<path d="M508.5 339.5l0.9-0.4 1.3-1.1 0.5-0.2 6.7-0.6 3.6-0.6 3.1-0.9 6.7-2.5 3.1-1 3.6-0.8 3.6-0.4 2.2-0.1 2.7 0.1 12.1 1.2 8 0.4 47.8 0.3 2.3 0 1.3-0.2 1.4-0.6 0.8-0.8 0.9-1.2 0.9-1.5 2.3-4.6 8.5-18.9 0.4-0.7 0.5-0.2 0.4 0.6 0.5 1.1 8.4 26.3 1.4 3.3 0.4 0.9 0.9 1.3 0.5 0.5 0.9 0.7 0.9 0.4 0.9 0.1 1.7 0.1 9.9 0" stroke="#3a96b6" stroke-width="1.0"/>
<path d="M508.5 339.9l0.9-0.4 1.3-1.1 0.5-0.2 6.2-0.5 3.6-0.5 3.6-0.9 6.7-2.3 3.6-1 5.3-1 5-0.5 3.1-0.2 3.1 0.1 12.5 1.2 8.1 0.4 42.4 0.3 2.3 0 1.3-0.2 1.4-0.6 0.8-0.8 0.9-1.2 0.9-1.5 2.3-4.6 8.5-18.9 0.4-0.7 0.5-0.2 0.4 0.5 0.5 1.2 8.4 26 1.4 3.3 0.4 0.8 0.9 1.3 0.5 0.5 0.9 0.7 0.9 0.4 0.9 0.1 1.7 0.1 9.9 0" stroke="#3a96b6" stroke-width="1.0"/>
</g>
<rect x="500.4" y="233.0" width="167.6" height="114.3" fill="none" stroke="#cacaca" stroke-width="1"/>
<g clip-path="url(#cE)" fill="none" stroke-linejoin="round" stroke-linecap="round">
<path d="M-50 501.6l7.7-0.1 5.2-0.2 3.4-0.3 2.6-0.5 1.8-0.6 0.8-0.4 1.7-1.1 0.9-0.7 0.9-0.9 0.8-1.1 0.9-1.3 0.9-1.6 0.8-2 0.9-2.3 0.8-2.7 0.9-3.1 0.9-3.6 0.8-4.1 1.8-9.3 3.4-20.8 1.7-9.5 1.8-7.9 0.8-3.3 0.9-2.9 0.8-2.5 0.9-2.1 0.9-1.8 0.8-1.6 0.9-1.3 1.7-2.1 0.9-0.8 1.7-1.3 1.7-1.1 1.8-0.8 2.5-1 2.6-0.7 2.6-0.6 3.5-0.6 6.9-0.8 7.7-0.5 11.2-0.4 59.5-1.8" stroke="#b5289a" stroke-width="1.0"/>
<path d="M-50 501.6l8.6-0.1 5.1-0.1 4.4-0.4 2.6-0.4 2.5-0.9 1.8-0.9 0.8-0.7 0.9-0.8 0.9-0.9 0.8-1.2 0.9-1.4 0.8-1.7 0.9-2 0.9-2.3 1.7-6 0.9-3.6 1.7-8.5 5.2-29.4 1.7-8.4 1.7-6.8 1.7-5.1 0.9-2.1 1.7-3.3 0.9-1.3 1.7-2 0.9-0.9 1.7-1.3 1.7-1.1 1.7-0.8 2.6-1 2.6-0.7 2.6-0.6 3.5-0.5 6.9-0.8 7.7-0.5 11.2-0.4 57-1.7" stroke="#b5289a" stroke-width="1.0"/>
<path d="M-50 501.6l9.4-0.1 6.1-0.1 4.3-0.4 2.6-0.5 2.6-0.9 1.7-0.9 0.9-0.6 1.7-1.7 0.8-1.1 0.9-1.4 0.9-1.6 0.8-1.9 0.9-2.2 1.7-5.6 0.9-3.3 0.8-3.8 1.8-8.5 3.4-19 1.7-8.9 1.8-7.6 1.7-6.2 1.7-4.7 0.9-2 1.7-3 0.9-1.2 1.7-2 0.9-0.8 1.7-1.3 1.7-1 1.7-0.8 1.7-0.7 2.6-0.8 2.6-0.6 3.5-0.6 6.9-0.8 7.7-0.5 10.4-0.4 56-1.6" stroke="#b5289a" stroke-width="1.0"/>
<path d="M-50 501.6l16.3-0.2 4.4-0.2 3.4-0.5 2.6-0.7 1.7-0.8 0.9-0.5 1.7-1.4 0.9-1 0.8-1.2 0.9-1.4 0.9-1.7 0.8-2 0.9-2.4 0.8-2.7 0.9-3.2 0.9-3.6 1.7-8.4 5.2-28.6 1.7-7.9 1.7-6.4 1.7-4.9 0.9-1.9 1.7-3.1 0.9-1.3 1.7-1.9 0.9-0.8 1.7-1.3 1.7-1 1.7-0.8 1.8-0.6 2.6-0.8 2.6-0.6 3.4-0.6 6.9-0.7 7.8-0.5 10.3-0.5 54.4-1.5" stroke="#b5289a" stroke-width="1.0"/>
<path d="M-50 501.6l8.6-0.1 5.1-0.1 4.4-0.4 2.6-0.4 2.5-0.9 1.8-0.9 1.7-1.5 0.9-0.9 0.8-1.2 0.9-1.5 0.8-1.7 0.9-2.1 0.9-2.4 0.8-2.8 0.9-3.3 0.9-3.7 1.7-8.3 3.4-18.7 1.8-8.5 1.7-7.2 0.8-2.9 1.8-4.8 0.8-1.9 0.9-1.7 0.9-1.4 0.8-1.1 1.7-1.9 0.9-0.7 1.7-1.3 1.8-0.9 1.7-0.7 2.6-0.9 2.5-0.7 2.6-0.5 3.5-0.5 6.9-0.7 7.8-0.5 11.2-0.4 57.8-1.5" stroke="#8b8b8b" stroke-width="1.0"/>
<path d="M-50 501.6l9.4-0.1 6.1-0.1 4.3-0.3 2.6-0.5 2.6-0.7 1.7-0.9 0.9-0.5 1.7-1.6 0.8-1 0.9-1.1 0.9-1.5 0.8-1.7 0.9-2 1.7-4.9 0.9-3 0.8-3.4 1.8-7.6 3.4-17 1.7-8 1.8-6.8 1.7-5.5 1.7-4.3 0.9-1.7 1.7-2.7 0.9-1.1 1.7-1.8 0.9-0.7 1.7-1.1 1.7-1 1.7-0.7 1.7-0.6 2.6-0.7 2.6-0.5 3.5-0.5 6.9-0.7 7.7-0.5 10.4-0.4 56-1.4" stroke="#8b8b8b" stroke-width="1.0"/>
<path d="M-50 501.6l16.3-0.2 4.4-0.2 3.4-0.4 2.6-0.7 1.7-0.7 0.9-0.5 1.7-1.3 0.9-0.9 0.8-1 0.9-1.3 0.9-1.5 0.8-1.8 1.7-4.5 0.9-2.8 0.9-3.2 1.7-7.2 5.2-24.6 1.7-6.9 1.7-5.6 1.7-4.3 0.9-1.7 1.7-2.8 0.9-1.1 1.7-1.7 0.9-0.7 1.7-1.2 1.7-0.9 1.7-0.7 1.8-0.6 2.6-0.7 2.6-0.5 3.4-0.5 6.9-0.7 7.8-0.5 10.3-0.3 54.4-1.4" stroke="#8b8b8b" stroke-width="1.0"/>
<path d="M-50 501.6l19.8-0.1 5.2-0.3 3.4-0.4 2.6-0.5 1.7-0.6 0.9-0.4 1.7-1.1 0.9-0.8 1.7-1.9 0.9-1.3 0.8-1.5 0.9-1.7 0.9-2.1 1.7-5.3 0.8-3.2 0.9-3.6 1.7-8.3 4.3-23.7 1.8-8.8 1.7-7.5 1.7-6 1.7-4.7 0.9-1.8 1.7-3.1 0.9-1.2 1.7-1.9 0.9-0.8 1.7-1.3 1.7-1.1 1.8-0.8 1.7-0.7 2.6-0.8 2.6-0.6 2.5-0.4 3.5-0.5 3.4-0.4 6.9-0.5 10.4-0.4 49.1-1.5" stroke="#b5289a" stroke-width="1.0"/>
<path d="M-50 501.6l22.4-0.1 5.2-0.3 3.4-0.4 2.6-0.7 1.7-0.6 0.9-0.5 1.7-1.2 0.9-0.8 0.8-1 0.9-1.1 0.9-1.4 0.8-1.6 0.9-2 0.8-2.2 1.8-5.6 0.8-3.4 0.9-3.7 1.7-8.5 3.5-18.8 1.7-8.8 1.7-7.6 1.7-6.2 1.8-4.8 0.8-2 1.7-3.1 0.9-1.3 1.7-2 0.9-0.8 1.7-1.4 1.8-1.1 1.7-0.8 1.7-0.7 2.6-0.8 2.6-0.6 2.6-0.5 3.4-0.5 3.5-0.4 6.9-0.4 10.3-0.5 47.5-1.4" stroke="#b5289a" stroke-width="1.0"/>
<path d="M-50 501.6l23.2-0.1 5.2-0.2 3.5-0.4 2.6-0.5 2.5-0.9 1.8-1 0.8-0.6 1.8-1.8 0.8-1.1 0.9-1.3 0.8-1.7 0.9-1.9 1.7-4.8 1.8-6.2 0.8-3.7 1.7-8.4 3.5-18.5 1.7-8.7 1.7-7.5 1.8-6.1 1.7-4.8 0.8-1.9 1.8-3.1 0.8-1.2 1.8-2 0.8-0.8 1.8-1.4 1.7-1 1.7-0.9 1.7-0.6 2.6-0.8 2.6-0.6 2.6-0.5 3.4-0.5 3.5-0.3 6.9-0.5 10.3-0.5 45.8-1.3" stroke="#b5289a" stroke-width="1.0"/>
<path d="M-50 501.6l23.2-0.1 5.2-0.2 3.5-0.3 2.6-0.5 1.7-0.6 0.8-0.4 1.8-1 0.8-0.7 0.9-0.8 0.9-1 0.8-1.2 0.9-1.5 0.8-1.7 0.9-2.1 1.7-5.2 0.9-3.1 0.9-3.5 1.7-8.1 3.4-17.7 1.8-8.2 1.7-6.9 1.7-5.4 1.7-4.1 0.9-1.7 1.7-2.6 0.9-1 1.7-1.7 0.9-0.7 1.7-1.1 1.7-0.8 1.7-0.7 1.8-0.6 2.6-0.7 5.1-0.9 6.9-0.7 6.9-0.5 10.4-0.4 46.5-1.2" stroke="#8b8b8b" stroke-width="1.0"/>
<path d="M-50 501.6l24.1-0.1 5.2-0.2 3.4-0.3 3.5-0.6 2.6-0.9 1.7-1 0.9-0.6 1.7-1.8 0.8-1.1 0.9-1.4 0.9-1.6 0.8-1.9 1.8-4.7 0.8-2.9 0.9-3.2 1.7-7.3 5.2-24.4 1.7-6.8 1.7-5.5 1.7-4.3 0.9-1.7 1.7-2.8 0.9-1.1 1.7-1.8 0.9-0.8 1.7-1.1 1.7-1 1.8-0.7 1.7-0.6 2.6-0.7 5.1-1 7-0.7 6.9-0.4 10.3-0.4 44.9-1.2" stroke="#8b8b8b" stroke-width="1.0"/>
<path d="M-50 501.6l25.8-0.1 5.2-0.1 4.3-0.3 3.5-0.5 2.6-0.8 1.7-0.9 0.8-0.6 1.8-1.6 0.8-1 0.9-1.3 0.9-1.6 0.8-1.9 0.9-2.1 0.8-2.5 0.9-2.9 0.9-3.3 1.7-7.5 3.4-16.7 1.8-7.8 1.7-6.6 1.7-5.3 1.7-3.9 0.9-1.6 1.7-2.5 0.9-1 1.7-1.5 0.9-0.6 1.7-1.1 1.7-0.8 1.8-0.6 1.7-0.6 2.6-0.6 5.1-0.9 6.9-0.7 6.9-0.4 9.5-0.3 43.1-1.1" stroke="#8b8b8b" stroke-width="1.0"/>
<path d="M-50 501.6l31.9-0.1 6-0.1 4.3-0.3 3.5-0.6 2.5-0.9 1.8-1 0.8-0.6 0.9-0.8 0.9-1 0.8-1.2 0.9-1.5 0.9-1.7 0.8-2.1 0.9-2.5 0.8-2.9 0.9-3.3 0.9-3.7 1.7-8.7 5.2-29.8 1.7-8.2 1.7-6.7 1.7-5 0.9-2 1.7-3.2 0.9-1.3 1.7-2 0.9-0.8 1.7-1.3 1.7-1 1.8-0.8 1.7-0.7 2.6-0.8 2.6-0.6 2.5-0.5 6.1-0.8 6.9-0.5 8.6-0.4 38-1.2" stroke="#b5289a" stroke-width="1.0"/>
<path d="M-50 501.6l32.7-0.1 6.1-0.1 4.3-0.2 2.6-0.3 1.7-0.3 2.6-0.8 1.7-1 0.9-0.6 1.7-1.6 0.9-1.1 0.8-1.4 0.9-1.6 0.8-1.9 0.9-2.3 0.9-2.6 0.8-3.1 0.9-3.5 1.7-8.2 4.3-24.3 1.8-9 1.7-7.6 1.7-6 1.7-4.6 0.9-1.8 1.7-2.9 0.9-1.1 1.7-1.8 0.9-0.8 1.7-1.2 1.7-0.9 1.7-0.8 1.8-0.6 2.6-0.8 4.3-0.8 6-0.8 6.9-0.6 8.6-0.4 36.2-1.1" stroke="#b5289a" stroke-width="1.0"/>
<path d="M-50 501.6l34.5-0.1 6-0.1 4.3-0.2 2.6-0.3 1.7-0.4 2.6-0.8 1.7-0.9 0.9-0.6 1.7-1.6 0.9-1 0.8-1.3 0.9-1.4 0.9-1.8 1.7-4.4 1.7-5.7 0.9-3.4 1.7-7.8 4.3-21.6 1.7-7.8 1.8-6.6 1.7-5.2 1.7-4 0.9-1.6 1.7-2.6 0.9-1.1 1.7-1.7 0.9-0.7 1.7-1.1 1.7-0.9 1.7-0.7 3.5-1.1 2.6-0.6 2.6-0.4 6-0.8 6-0.4 8.6-0.4 34.5-1" stroke="#b5289a" stroke-width="1.0"/>
<path d="M-50 501.6l35.3-0.1 6.9-0.1 4.3-0.2 2.6-0.3 1.7-0.3 2.6-0.9 1.8-0.8 0.8-0.6 1.7-1.5 0.9-1 0.9-1.2 0.8-1.5 0.9-1.7 1.7-4.3 1.7-5.6 0.9-3.4 1.7-7.6 5.2-25.2 1.7-7.1 1.8-5.7 1.7-4.5 0.8-1.8 1.8-3 0.8-1.2 1.8-1.9 1.7-1.4 1.7-1.1 1.7-0.9 1.8-0.7 3.4-1 4.3-0.9 6.1-0.8 6-0.4 8.6-0.4 33.7-1" stroke="#b5289a" stroke-width="1.0"/>
<path d="M-50 501.6l36.2 0 6.9-0.1 4.3-0.3 2.6-0.2 1.7-0.3 2.6-0.7 1.7-0.8 0.9-0.6 1.7-1.5 0.9-1 0.8-1.2 0.9-1.4 0.8-1.8 0.9-2.1 0.9-2.4 0.8-2.8 0.9-3.2 1.7-7.5 4.3-22 1.8-8 1.7-6.7 0.9-2.8 1.7-4.5 0.8-1.8 1.8-2.9 0.8-1.1 1.8-1.8 0.8-0.7 1.7-1.1 1.8-0.9 1.7-0.7 3.4-1.1 2.6-0.6 2.6-0.5 6.1-0.7 6-0.5 8.6-0.4 33.7-0.9" stroke="#8b8b8b" stroke-width="1.0"/>
<path d="M-50 501.6l37 0 11.2-0.2 4.4-0.3 2.6-0.4 2.5-0.7 1.8-0.8 1.7-1.2 0.8-0.8 0.9-1 0.9-1.2 0.8-1.4 0.9-1.7 0.9-2 0.8-2.3 0.9-2.7 1.7-6.5 1.7-7.7 4.4-20.9 1.7-7 0.8-3.1 1.8-5 1.7-3.8 1.7-2.7 0.9-1.1 1.7-1.8 1.7-1.3 1.8-1 1.7-0.8 1.7-0.6 1.7-0.5 2.6-0.6 2.6-0.5 3.5-0.5 6-0.6 8.6-0.4 12.1-0.5 21.5-0.5" stroke="#8b8b8b" stroke-width="1.0"/>
<path d="M-50 501.6l46.5 0 13-0.2 4.3-0.3 3.4-0.5 2.6-0.8 1.7-0.9 1.8-1.3 0.8-0.9 0.9-1.1 0.9-1.4 0.8-1.5 0.9-2 0.8-2.2 0.9-2.7 1.7-6.6 1.8-8.3 5.1-29.9 1.8-8.8 0.8-3.8 1.7-6.4 1.8-4.8 0.8-2 0.9-1.6 1.7-2.6 0.9-1 1.7-1.7 1.7-1.3 1.8-1 1.7-0.8 2.6-0.9 2.6-0.7 2.5-0.6 6.1-0.8 6.9-0.6 9.5-0.5 16.3-0.6" stroke="#b5289a" stroke-width="1.0"/>
<path d="M-50 501.6l49.1 0 12.9-0.2 4.4-0.3 3.4-0.6 2.6-0.9 1.7-1 1.8-1.5 0.8-1 0.9-1.2 0.8-1.4 0.9-1.8 0.9-2 0.8-2.5 0.9-2.8 0.9-3.3 1.7-7.8 1.7-9.3 4.3-24.6 1.7-8.2 0.9-3.5 1.7-5.8 0.9-2.3 0.9-2 1.7-3.2 1.7-2.3 0.9-0.9 1.7-1.5 1.7-1.2 1.7-0.9 1.8-0.7 2.6-0.9 4.3-1 6-0.9 6.9-0.6 9.5-0.5 14.7-0.5" stroke="#b5289a" stroke-width="1.0"/>
<path d="M-50 501.6l50 0 13.8-0.2 4.3-0.3 3.4-0.5 2.6-0.7 1.8-0.9 1.7-1.2 0.8-0.9 0.9-1 0.9-1.3 0.8-1.5 0.9-1.8 0.9-2.1 0.8-2.5 0.9-2.9 1.7-6.9 1.7-8.3 4.3-22.8 1.8-7.8 0.8-3.4 1.8-5.7 1.7-4.2 1.7-3.2 1.7-2.3 0.9-0.9 1.7-1.5 1.7-1.1 1.8-0.9 1.7-0.7 1.7-0.6 2.6-0.6 2.6-0.6 6-0.8 6.9-0.6 8.7-0.4 13.8-0.5" stroke="#b5289a" stroke-width="1.0"/>
<path d="M-50 501.6l50.8 0 13.8-0.1 4.4-0.2 3.4-0.4 2.6-0.6 1.7-0.6 0.9-0.4 1.7-1.2 0.9-0.7 0.8-1 0.9-1.1 0.9-1.4 0.8-1.6 0.9-2 0.8-2.2 1.8-5.7 1.7-7.3 1.7-8.4 3.5-18 1.7-8 0.9-3.4 1.7-5.8 1.7-4.5 1.7-3.2 1.8-2.4 0.8-1 1.7-1.5 0.9-0.6 1.7-1 1.8-0.9 1.7-0.6 2.6-0.8 2.5-0.6 5.2-0.8 6.9-0.7 8.7-0.4 13.8-0.5" stroke="#b5289a" stroke-width="1.0"/>
<path d="M-50 501.6l15.5-0.2 12.1-0.3 10.3-0.3 8.6-0.5 6.9-0.6 5.2-0.8 2.6-0.5 1.7-0.5 2.6-1.1 1.7-1 0.9-0.7 1.7-1.8 1.7-2.5 1.8-3.3 0.8-2.1 1.8-5.1 1.7-6 4.3-16.4 1.7-5.7 0.9-2.4 1.7-4.1 1.7-3.1 1.8-2.3 1.7-1.8 1.7-1.3 1.7-1.2 1.8-0.9 2.5-1.3 13.8-5.9 10.4-4.1 7.8-2.7 6.9-2 6.8-1.7 7-1.4" stroke="#8b8b8b" stroke-width="1.0"/>
<path d="M-50 501.6l13.8-0.2 10.3-0.2 8.6-0.3 6.1-0.4 4.3-0.6 2.6-0.7 1.7-0.7 0.9-0.5 1.7-1.3 0.8-0.9 0.9-1.1 0.9-1.3 0.8-1.6 0.9-1.9 0.9-2.3 0.8-2.6 0.9-3 1.7-7.1 4.3-19.5 1.7-6.5 1.8-5 0.8-2 0.9-1.6 0.9-1.5 0.8-1.1 0.9-1 1.7-1.6 0.9-0.6 1.7-1 2.6-1.2 3.4-1.2 13-4 9.5-2.6 8.6-1.9 8.6-1.4 8.6-1 10.4-0.7 12-0.5" stroke="#8b8b8b" stroke-width="1.0"/>
<path d="M-50 501.6l72.4 0 15.5-0.2 5.2-0.2 2.6-0.3 1.7-0.3 2.6-0.7 1.7-0.7 0.9-0.4 1.7-1.3 0.9-0.8 1.7-2 0.9-1.3 1.7-3.3 1.7-4.4 1.7-5.6 1.8-6.8 1.7-7.9 4.3-20.8 1.7-7.3 1.8-6.2 0.8-2.7 1.7-4.4 1.8-3.5 1.7-2.6 1.7-2 0.9-0.9 1.7-1.3 2.6-1.5 2.6-1 3.4-1 4.3-0.8 4.3-0.4" stroke="#3a96b6" stroke-width="1.0"/>
<path d="M-50 501.6l75 0 15.5-0.2 5.2-0.2 2.6-0.3 1.7-0.4 2.6-0.7 1.7-0.8 0.9-0.5 1.7-1.3 0.9-0.9 1.7-2.2 1.7-3 0.9-1.9 1.7-4.6 1.7-5.8 1.8-7 5.1-24.2 1.8-7.3 0.8-3.3 0.9-3 1.7-5.1 0.9-2.2 1.7-3.5 1.7-2.8 1.7-2 1.8-1.6 0.8-0.7 1.8-1.1 2.5-1.2 3.5-1 3.4-0.7 4.3-0.6" stroke="#3a96b6" stroke-width="1.0"/>
<path d="M-50 501.6l77.6 0 15.5-0.2 5.2-0.2 2.6-0.3 1.7-0.3 2.6-0.7 1.7-0.7 0.9-0.5 1.7-1.2 0.9-0.8 1.7-2.1 1.7-2.8 0.9-1.8 1.7-4.3 1.7-5.5 1.7-6.7 5.2-23.2 2.6-10.4 0.9-3 1.7-5 0.9-2.1 1.7-3.6 1.7-2.7 1.7-2 1.8-1.6 1.7-1.2 2.6-1.3 2.5-1 3.5-0.8 3.5-0.6" stroke="#3a96b6" stroke-width="1.0"/>
<path d="M-50 501.6L101.8 501.6" stroke="#3a96b6" stroke-width="1"/>
<path d="M-50 501.9L101.8 501.9" stroke="#3a96b6" stroke-width="1"/>
<path d="M-50 501.3L101.8 501.3" stroke="#3a96b6" stroke-width="1"/>
</g>
<rect x="-58.0" y="393.55" width="167.4" height="113.4" fill="none" stroke="#cacaca" stroke-width="1"/>
<g clip-path="url(#cE2)" fill="none" stroke-linejoin="round" stroke-linecap="round">
<path d="M134.2 497.3l0.4-0.4 0.5-0.8 1.3-3.8 0.5-0.6 0.4-0.2 1.4-0.2 1.3-0.4 0.9-0.2 5.4-0.4 9.8-1 5.8-0.2 12.1-0.1 1.8-0.1 1.3-0.2 0.9-0.4 1.3-1.1 0.9-1.2 0.9-1.5 1.4-2.8 2.2-5.8 2.7-8.5 2.7-9.9 2.2-9 2.7-11.8 3.6-17.2 3.5-18.4 0.5-2 0.4-0.9 0.5 0.7 0.9 5 10.3 69.5 2.2 14.3 0.9 4.7 0.9 3.7 0.9 2.7 0.9 1.6 0.4 0.6 0.9 0.6 0.9 0.3 1.3 0.1 62.2 0" stroke="#8b8b8b" stroke-width="1.0"/>
<path d="M134.2 497.4l0.4-0.3 0.5-0.6 1.3-3.1 0.5-0.5 0.4-0.2 3.6-0.6 4.9-0.3 7.2-0.8 3.5-0.3 5.9-0.2 13.4-0.1 2.2-0.1 1.3-0.3 0.9-0.4 0.9-0.7 0.9-1.1 0.9-1.5 0.9-1.8 0.9-2.2 1.4-3.7 2.2-7.3 2.7-10.2 2.2-9.6 2.2-10.4 3.2-15.8 3.5-19.5 0.5-2.1 0.4-1.1 0.5 0.6 0.4 1.9 0.5 2.7 10.7 67.9 2.2 13.2 0.9 4.4 0.9 3.4 0.9 2.4 0.9 1.5 0.5 0.5 0.9 0.6 0.9 0.2 1.3 0.1 61.7 0" stroke="#8b8b8b" stroke-width="1.0"/>
<path d="M134.2 497.4l0.4-0.3 0.5-0.6 1.3-3 0.5-0.5 0.4-0.2 3.6-0.6 4.9-0.3 7.2-0.8 3.5-0.3 5.9-0.2 13.4-0.1 2.2-0.1 1.3-0.2 0.9-0.5 0.9-0.7 0.9-1.1 0.9-1.4 0.9-1.9 0.9-2.1 1.4-3.7 2.2-7.4 2.2-8.5 2.3-9.4 2.2-10.3 3.1-15.7 3.6-19.4 0.4-2.1 0.5-0.9 0.4 0.8 0.9 4.8 10.3 65.2 2.2 13.2 0.9 4.4 0.9 3.3 0.9 2.4 0.9 1.5 0.5 0.4 0.9 0.6 0.9 0.2 1.3 0.1 62.6 0" stroke="#8b8b8b" stroke-width="1.0"/>
<path d="M134.2 497.4l0.4-0.4 0.5-0.7 1.3-3.4 0.5-0.6 0.4-0.1 1.4-0.2 2.2-0.5 4.9-0.4 10.3-1 5.4-0.2 12-0.1 1.8-0.1 1.4-0.3 0.9-0.3 1.3-1.1 0.9-1 0.9-1.3 1.3-2.5 2.3-5.1 2.6-7.5 2.7-8.5 2.7-9.5 2.7-10.3 3.6-15 3.5-16.1 0.5-1.8 0.4-0.8 0.5 0.7 0.9 4.4 10.3 61.7 2.2 12.8 0.9 4.4 0.9 3.5 0.9 2.6 0.4 0.9 0.9 1.3 0.5 0.4 0.9 0.4 0.9 0.2 1.3 0.1 61.7 0" stroke="#8b8b8b" stroke-width="1.0"/>
<path d="M134.2 497.4l0.4-0.3 0.5-0.7 1.3-3 0.5-0.6 0.4-0.1 3.6-0.6 4.9-0.4 7.2-0.8 3.5-0.3 5-0.2 12.5 0 2.2-0.2 1.4-0.3 0.9-0.5 0.8-0.7 0.9-1 0.9-1.3 1.4-2.5 2.2-5.2 2.2-6.3 2.7-8.6 2.3-7.9 2.6-10.4 3.2-13.1 3.5-16.2 0.5-1.7 0.4-0.9 0.5 0.6 0.4 1.7 0.5 2.4 10.7 60.1 2.2 11.8 0.9 3.9 0.9 3 0.9 2.2 0.9 1.4 0.5 0.5 0.9 0.5 0.9 0.2 1.3 0.1 62.6 0" stroke="#8b8b8b" stroke-width="1.0"/>
<path d="M134.2 497.3l0.4-0.4 0.5-0.8 1.3-4 0.5-0.7 0.4-0.1 1.4-0.3 1.3-0.3 0.9-0.2 5.4-0.4 9.8-1 5.4-0.2 12-0.1 1.8-0.1 1.4-0.3 0.9-0.5 0.9-0.7 0.8-1 0.9-1.4 1.4-2.7 0.9-2.1 1.3-3.5 2.7-8.4 2.7-9.6 2.2-8.9 2.7-11.6 3.6-16.9 3.5-18.2 0.5-2 0.4-1 0.5 0.5 0.4 1.9 0.5 2.7 10.7 68.6 2.2 13.6 0.9 4.7 0.9 3.8 0.9 2.7 0.5 1 0.9 1.4 0.4 0.4 0.9 0.5 0.9 0.2 1.3 0.1 62.2 0" stroke="#8b8b8b" stroke-width="1.0"/>
<path d="M134.2 497.3l0.4-0.4 0.5-0.9 1.3-4.1 0.5-0.7 0.4-0.2 1.4-0.3 1.3-0.4 0.9-0.1 5.4-0.5 8.5-0.9 5.8-0.3 9.4 0 40.6-0.1 5.8-0.1 4.1-0.4 4-0.8 2.2-0.7 0.9-0.5 0.5-0.4 0.9-1 0.9-1.5 0.9-2.2 0.4-1.3 1.3-4.9 1.8-8.6 1.8-10.8 1.8-12.7 1.8-14.4 2.7-23.6 0.4-2.7 0.5-0.6 0.4 1.4 0.5 2.7 11.1 78.7 0.9 5.4 0.9 4.5 0.5 1.8 0.9 2.8 0.4 1 0.9 1.4 0.9 0.7 1.3 0.3 2.3 0.1 21.9 0" stroke="#b5289a" stroke-width="1.0"/>
<path d="M134.2 497.3l0.4-0.4 0.5-0.8 1.3-4 0.5-0.7 0.4-0.2 1.4-0.2 1.3-0.4 0.9-0.1 5.4-0.5 8.5-0.9 5.8-0.3 9.4-0.1 40.2 0 5.8-0.1 3.1-0.2 3.2-0.6 2.2-0.7 1.3-0.8 0.9-0.9 0.9-1.3 0.9-1.8 0.9-2.4 0.9-3 0.9-3.4 2.2-10.2 1.4-7.3 1.8-11.1 2.2-16 2.7-21.3 0.4-2.9 0.5-1.2 0.4 1 0.5 2.6 9.4 66.4 1.7 12 0.9 5.3 0.9 4.2 0.5 1.6 0.9 2.5 0.4 0.9 0.9 1.1 0.9 0.6 1.3 0.2 25.1 0.1" stroke="#b5289a" stroke-width="1.0"/>
<path d="M134.2 497.3l0.4-0.4 0.5-0.8 1.3-3.8 0.5-0.7 0.4-0.1 1.4-0.3 1.3-0.3 0.9-0.2 5.4-0.4 8.5-0.9 5.8-0.3 9.4-0.1 40.6 0 5.8-0.1 3.2-0.3 3.1-0.5 1.8-0.5 1.3-0.8 0.9-0.9 0.9-1.3 0.9-1.8 0.9-2.3 0.9-2.9 0.9-3.3 2.2-9.8 1.8-9.4 1.8-10.9 2.2-15.3 2.3-16.9 0.4-3.1 0.5-1.9 0.4 0 0.5 1.8 0.4 2.7 9.4 63.2 1.8 11.5 0.9 4.9 0.9 4.1 0.4 1.6 0.9 2.4 0.5 0.8 0.9 1.1 0.9 0.6 1.3 0.2 24.6 0.1" stroke="#b5289a" stroke-width="1.0"/>
<path d="M134.2 497.3l0.4-0.4 0.5-0.7 1.3-3.7 0.5-0.6 0.4-0.2 1.4-0.2 2.2-0.5 5.4-0.4 8.5-0.9 5.8-0.3 9.4-0.1 40.6 0 5.8-0.1 4.1-0.4 3.5-0.6 1.8-0.5 1.4-0.8 0.9-0.9 0.9-1.3 0.9-1.9 0.9-2.4 0.8-2.9 0.9-3.3 1.8-7.8 1.4-7 1.8-10.6 2.2-15.1 2.7-20 0.4-2.7 0.5-1.2 0.4 0.8 0.5 2.3 11.6 72.9 0.9 4.9 0.9 4 0.4 1.6 0.9 2.5 0.5 1 0.9 1.2 0.8 0.6 1.4 0.3 2.2 0.1 21.5 0" stroke="#b5289a" stroke-width="1.0"/>
<path d="M134.2 497.4l0.4-0.4 0.5-0.7 1.3-3.4 0.5-0.6 0.4-0.1 1.4-0.2 2.2-0.5 5.4-0.4 8.5-0.9 5.8-0.3 9.4-0.1 40.2 0 5.8-0.1 3.6-0.4 3.6-0.7 2.2-0.8 1.3-0.9 0.9-1 0.9-1.4 0.9-1.9 0.9-2.5 1.8-6.5 1.8-8 1.8-9.7 2.2-14.5 1.8-13.1 2.7-21.3 0.4-2.6 0.5-0.7 0.4 1.3 0.5 2.5 9.3 64.2 2.3 14.6 0.9 5 0.9 4 0.4 1.6 0.9 2.4 0.5 0.8 0.9 1.1 0.8 0.5 0.9 0.2 2.3 0.1 21.9 0" stroke="#b5289a" stroke-width="1.0"/>
<path d="M134.2 497.4l0.4-0.4 0.5-0.7 1.3-3.3 0.5-0.6 0.4-0.1 3.6-0.7 5.4-0.4 8.5-0.9 5.8-0.3 9.4-0.1 40.2 0 5.8-0.1 3.6-0.3 3.6-0.7 2.6-0.7 0.9-0.4 0.9-0.6 0.9-0.9 0.9-1.3 0.9-1.9 0.9-2.4 0.9-2.9 0.9-3.4 1.8-8.1 1.3-7.3 1.8-11.2 2.2-16 2.7-21.1 0.5-2.8 0.4-1.1 0.5 1 0.4 2.5 9.4 64.3 1.8 11.7 0.9 5 0.9 4 0.4 1.6 0.9 2.4 0.5 0.9 0.9 1.1 0.8 0.5 0.9 0.2 2.3 0.1 21.9 0" stroke="#b5289a" stroke-width="1.0"/>
<path d="M134.2 497.3l0.4-0.4 0.5-0.7 1.3-3.8 0.5-0.6 0.4-0.1 0.9 0 0.9 0 1.4-0.5 1.7-0.4 11.2-1.1 5.4-0.3 6.7-0.2 61.2-0.1 3.2-0.1 2.6-0.3 2.3-0.4 2.2-0.7 1.8-0.8 1.8-1 4.5-2.9 2.2-1.9 1.3-1.5 0.9-1.2 1.4-2.1 3.1-6.1 4-7.3 2.3-4.9 3.5-9.1 0.5-0.7 0.4-0.1 0.5 0.6 0.9 2.8 8.9 34.7 1.3 4.8 1.4 4 0.9 2.1 0.9 1.7 0.9 1.2 0.9 0.9 0.9 0.6 0.9 0.3 1.3 0.2 1.8 0.1" stroke="#3a96b6" stroke-width="1.0"/>
<path d="M134.2 497.3l0.4-0.5 0.5-0.9 1.3-4.3 0.5-0.7 0.4-0.1 0.9 0 0.9-0.1 0.9-0.4 0.9-0.3 2.2-0.3 11.7-1.2 7.1-0.3 65.3-0.1 2.7-0.2 2.2-0.2 1.8-0.3 1.8-0.5 2.2-1 2.7-1.6 5.8-4.6 5.4-3.7 1.3-1.1 1.3-1.4 3.6-4.2 1.8-2.6 0.9-1.6 1.3-2.8 4.1-9.3 0.4-0.8 0.5-0.3 0.4 0.3 0.5 0.8 0.4 1.3 8.9 32.2 1.4 4.5 1.3 3.9 1.4 2.9 1.3 2 0.9 0.9 0.9 0.6 0.9 0.4 0.9 0.1" stroke="#3a96b6" stroke-width="1.0"/>
<path d="M134.2 497.3l0.4-0.4 0.5-0.9 1.3-4.1 0.5-0.7 0.4-0.1 0.9 0.1 0.9-0.1 1.4-0.6 1.7-0.3 10.8-1.1 5.3-0.4 6.7-0.2 61.3-0.1 3.1-0.1 2.7-0.2 2.2-0.4 1.8-0.5 1.4-0.5 1.7-0.8 5.4-3 1.8-0.8 1.8-0.6 3.6-0.8 1.3-0.5 1.3-0.8 0.9-0.8 0.9-1 1.4-1.8 2.2-3.7 2.7-5.4 4.5-10.1 0.4-0.8 0.5-0.6 0.4-0.1 0.4 0.6 0.9 2.4 8.5 28.7 1.4 4.2 1.3 3.8 1.4 2.9 1.3 2 1.3 1.3 1.4 0.6" stroke="#3a96b6" stroke-width="1.0"/>
<path d="M133.6 502.0L286 502.0" stroke="#3a96b6" stroke-width="1"/>
<path d="M133.6 502.4L286 502.4" stroke="#3a96b6" stroke-width="1"/>
<path d="M133.6 501.7L286 501.7" stroke="#3a96b6" stroke-width="1"/>
</g>
<rect x="126.45" y="393.55" width="166.7" height="113.4" fill="none" stroke="#cacaca" stroke-width="1"/>
<g clip-path="url(#cF)" fill="none" stroke-linejoin="round" stroke-linecap="round">
<path d="M325.4 502.4l27.5-0.1 5.9-0.2 4.9-0.5 3.9-0.7 2-0.5 1.9-0.8 2-1.1 1-0.7 1.9-1.8 2-2.4 2-3.3 1.9-4.1 2-5.3 2-6.5 1.9-7.4 4.9-20.6 2-7.8 2-7 0.9-3.1 2-5.4 2-4.4 0.9-1.9 2-3.1 1-1.3 2-2.2 1.9-1.7 2-1.4 1.9-1.2 2-0.9 3.9-1.5 2-0.5 2.9-0.7 3-0.5 3.9-0.5 6.9-0.7 8.8-0.4 11.8-0.3 19.6-0.4" stroke="#b5289a" stroke-width="1.0"/>
<path d="M325.4 502.4l25.5-0.1 5.9-0.3 4.9-0.4 4-0.8 1.9-0.6 2-0.8 1.9-1.1 1-0.7 2-1.8 1.9-2.4 2-3.2 2-4 1.9-5 1-2.9 2-6.3 6.8-24.4 2-6.1 1-2.7 2-4.8 1.9-3.9 1-1.7 2-2.8 0.9-1.2 2-1.9 2-1.6 1.9-1.3 2-1 2-0.8 1.9-0.7 3-0.9 4.9-0.9 2.9-0.4 3.9-0.4 6.9-0.5 9.8-0.3 32.4-0.2" stroke="#b5289a" stroke-width="1.0"/>
<path d="M325.4 502.4l27.5-0.1 5.9-0.2 4.9-0.3 3.9-0.6 2-0.5 1.9-0.7 2-1 1-0.6 1.9-1.6 2-2.2 2-3 1.9-4 2-5 1-2.8 1.9-6.5 4.9-18.5 2-7 2-6.2 1-2.7 1.9-4.8 2-3.7 1-1.6 1.9-2.6 1-1.1 2-1.8 1-0.7 1.9-1.3 2-1 1.9-0.9 2-0.6 2.9-0.9 4.9-0.9 6.9-0.9 6.9-0.4 9.8-0.4 31.4-0.3" stroke="#b5289a" stroke-width="1.0"/>
<path d="M325.4 502.4l28.5-0.1 5.9-0.2 4.9-0.3 3.9-0.6 2-0.5 1.9-0.6 2-0.9 1-0.6 1.9-1.5 2-2 2-2.7 1.9-3.5 2-4.5 1-2.6 1.9-5.8 2-6.6 3.9-13.8 2-6.5 1.9-5.7 1-2.6 2-4.4 1.9-3.5 1-1.5 2-2.5 1-1.1 1.9-1.8 1-0.7 2-1.3 1.9-1.1 2-0.8 3.9-1.4 4.9-1.1 3-0.6 3.9-0.5 6.9-0.7 8.8-0.6 11.8-0.5 19.6-0.7" stroke="#b5289a" stroke-width="1.0"/>
<path d="M325.4 502.4l30.4-0.1 6.9-0.1 4.9-0.3 3.9-0.6 2-0.4 2-0.6 1.9-0.9 1-0.5 2-1.5 1.9-2 2-2.7 2-3.7 1.9-4.7 1-2.7 2-6.3 5.9-21.7 1.9-6.8 2-5.8 1.9-4.8 2-3.9 1-1.6 2-2.7 0.9-1 2-1.9 1-0.7 1.9-1.3 2-1 2-0.8 3.9-1.3 4.9-1 2.9-0.4 4-0.5 6.8-0.5 8.9-0.3 11.7-0.2 17.7-0.1" stroke="#b5289a" stroke-width="1.0"/>
<path d="M325.4 502.4l33.4-0.1 6.9-0.1 4.9-0.2 3.9-0.3 1.9-0.3 2-0.4 3-1 1.9-1 2-1.5 1-0.9 0.9-1 1-1.3 1-1.5 1-1.7 1.9-4.2 2-5.4 2-6.6 1.9-7.6 4.9-20.3 2-7.3 2-6.3 1.9-5.1 2-4.1 2-3.2 0.9-1.3 2-2.2 2-1.7 1.9-1.4 2-1.1 1.9-0.9 2-0.7 3-1 2.9-0.7 2.9-0.6 6.9-1 8.8-0.7 10.8-0.6 17.7-0.6" stroke="#b5289a" stroke-width="1.0"/>
<path d="M325.4 502.4l32.4-0.1 7.9-0.1 4.9-0.2 3.9-0.3 3.9-0.7 3-0.9 1.9-0.9 1-0.6 2-1.5 0.9-1 2-2.4 2-3.2 1.9-4.2 2-5.3 2-6.4 1.9-7.3 5.9-23.3 2-6.8 1-3 1.9-5.2 1-2.3 2-3.8 1.9-2.9 1-1.3 2-2 1.9-1.7 2-1.3 1.9-1 2-0.9 2-0.7 2.9-0.8 3-0.7 2.9-0.5 6.9-0.7 7.8-0.5 10.8-0.3 16.7-0.1" stroke="#b5289a" stroke-width="1.0"/>
<path d="M325.4 502.4l35.4-0.1 7.8-0.1 4.9-0.2 3.9-0.3 2-0.3 2-0.4 2.9-1 2-1 1.9-1.5 1-0.9 1-1.2 1-1.3 0.9-1.6 1-1.8 1-2.1 1-2.4 2-5.8 1.9-7 6.9-28.9 2-7.1 0.9-3.1 2-5.3 2-4.2 1.9-3.2 1-1.3 2-2.1 1.9-1.7 2-1.3 1.9-1 2-0.9 2-0.7 2.9-0.9 3-0.6 2.9-0.6 6.9-0.8 7.8-0.6 10.8-0.3 16.7-0.3" stroke="#b5289a" stroke-width="1.0"/>
<path d="M325.4 502.4l36.3-0.1 7.9-0.1 4.9-0.2 3.9-0.3 2-0.3 1.9-0.4 3-1 1.9-1 2-1.4 1-0.9 1-1.1 0.9-1.3 1-1.5 1-1.8 1-2 1-2.3 1.9-5.6 2-6.8 2-7.8 4.9-20.3 1.9-7.1 1-3.1 2-5.4 1.9-4.3 2-3.2 1-1.4 1.9-2.2 2-1.7 2-1.4 1.9-1 2-0.9 2-0.8 2.9-0.8 2.9-0.7 3-0.6 6.9-0.8 7.8-0.6 10.8-0.4 15.7-0.3" stroke="#b5289a" stroke-width="1.0"/>
<path d="M325.4 502.4l33.4-0.1 6.9-0.1 4.9-0.2 3.9-0.3 3.9-0.6 3-0.9 1.9-0.9 2-1.3 1-0.8 1.9-2 2-2.7 1.9-3.6 2-4.5 2-5.5 1.9-6.2 4.9-16.8 2-6 2-5.2 1.9-4.4 2-3.4 2-2.8 0.9-1.1 2-1.9 2-1.5 1.9-1.2 2-1 1.9-0.8 2-0.7 3-0.8 2.9-0.6 2.9-0.5 6.9-0.9 8.8-0.6 10.8-0.5 17.7-0.5" stroke="#8b8b8b" stroke-width="1.0"/>
<path d="M325.4 502.4l36.3 0 7.9-0.1 4.9-0.2 3.9-0.3 3.9-0.6 3-0.9 1.9-0.9 2-1.2 1-0.9 1.9-2.1 1-1.3 1-1.5 2-3.8 1-2.3 1.9-5.3 2-6.2 3.9-13.5 2-6.5 1.9-5.6 1-2.5 2-4.2 1.9-3.3 2-2.6 1-1.1 1.9-1.7 2-1.3 2-1.1 1.9-0.8 2-0.7 2-0.6 2.9-0.7 5.9-1 6.9-0.7 7.8-0.4 10.8-0.3 15.7-0.2" stroke="#8b8b8b" stroke-width="1.0"/>
<path d="M325.4 502.4l37.3 0 12.8-0.2 3.9-0.2 3.9-0.5 3-0.5 2.9-1 2-1.1 0.9-0.6 2-1.8 2-2.3 1.9-3.2 2-4.1 2-5 1.9-5.8 4.9-15.5 2-5.6 2-4.7 1.9-3.8 2-3 1.9-2.4 2-1.7 1-0.8 1.9-1.2 2-1 2-0.8 1.9-0.6 3-0.8 2.9-0.5 3-0.5 6.8-0.7 7.9-0.5 10.8-0.3 14.7-0.2" stroke="#8b8b8b" stroke-width="1.0"/>
<path d="M325.4 502.4l39.3 0 13.7-0.2 3.9-0.3 4-0.4 2.9-0.6 2.9-1 2-1 1-0.6 2-1.7 1.9-2.1 2-2.9 1.9-3.6 2-4.4 2-5 5.9-16.2 1.9-4.7 1-2.1 2-3.6 1.9-2.9 2-2.3 1-0.9 1.9-1.6 1-0.7 2-1.1 1.9-0.9 2-0.7 2-0.6 2.9-0.7 4.9-0.8 5.9-0.7 7.8-0.5 9.9-0.3 13.7-0.3" stroke="#8b8b8b" stroke-width="1.0"/>
<path d="M325.4 502.4l42.2 0 13.8-0.2 4.9-0.2 3.9-0.4 2.9-0.6 3-0.9 1.9-1 1-0.6 2-1.5 1.9-2.1 2-2.8 2-3.5 1.9-4.3 2-4.8 4.9-12.9 2-4.6 0.9-2 2-3.6 2-2.9 1.9-2.2 1-1 2-1.5 2.9-1.8 2-0.9 1.9-0.7 2-0.6 2.9-0.7 5-0.9 5.8-0.7 6.9-0.6 8.8-0.5 12.8-0.4" stroke="#8b8b8b" stroke-width="1.0"/>
<path d="M325.4 502.4l45.2 0 13.7-0.2 4.9-0.2 3.9-0.3 3-0.5 2.9-0.9 2-0.9 1-0.5 1.9-1.4 2-2 2-2.6 1.9-3.2 2-4 1.9-4.6 4.9-12.4 2-4.4 2-3.8 1.9-3.1 2-2.4 2-2 1.9-1.5 3-1.6 1.9-0.8 2-0.7 3.9-0.9 4.9-0.9 5.9-0.6 6.9-0.5 8.8-0.3 10.8-0.2" stroke="#8b8b8b" stroke-width="1.0"/>
<path d="M325.4 502.4l48.1 0 14.7-0.3 5.9-0.3 3.9-0.6 3-0.7 2.9-1.2 2-1.1 1-0.7 1.9-1.7 2-2.3 1-1.4 1.9-3.4 2-4.1 2-4.8 1.9-5.6 5.9-17.8 3-7.7 1.9-4.4 2-3.6 1.9-2.9 1-1.3 2-2.1 1-0.9 1.9-1.5 3-1.8 1.9-1 2-0.8 3.9-1.2 4.9-1 5.9-0.9 6.9-0.7 9.8-0.6" stroke="#8b8b8b" stroke-width="1.0"/>
<path d="M325.4 502.4l52 0 14.8-0.2 5.8-0.3 4-0.5 2.9-0.6 3-1.1 1.9-1 1-0.7 2-1.7 1.9-2.2 1-1.3 2-3.3 1.9-4.1 2-4.7 6.9-19.4 1.9-5 1-2.3 2-3.9 1.9-3.3 2-2.6 1.9-2 1-0.9 2-1.5 2.9-1.6 2-0.9 2-0.7 3.9-1 4.9-0.9 5.9-0.8 6.8-0.5 7.9-0.4" stroke="#8b8b8b" stroke-width="1.0"/>
<path d="M325.4 502.4l66.8 0 9.8-0.1 6.8-0.1 5.9-0.4 3.9-0.6 2-0.4 2-0.7 1.9-0.9 1-0.6 2-1.4 1-1 1.9-2.3 2-3.2 1-2 1.9-4.7 2-5.8 1.9-6.9 2-7.8 3.9-16.4 3-11.2 1.9-6.2 1-2.7 2-4.7 1.9-3.7 2-2.9 2-2.3 1.9-1.9 1-0.7 2-1.4 2.9-1.5 2-0.8 1.9-0.7 4-1.1 3.9-0.8" stroke="#3a96b6" stroke-width="1.0"/>
<path d="M325.4 502.4l69.7 0 10.8-0.1 6.9-0.1 5.8-0.4 4-0.6 2.9-0.9 2-0.8 1-0.6 1.9-1.5 1-1 1-1.1 1-1.4 0.9-1.5 1-1.9 1-2.1 2-5.2 0.9-3 2-7.1 2-8.1 3.9-17.2 2-7.9 0.9-3.5 1-3.3 2-5.6 1-2.3 1.9-3.9 2-3 2-2.3 1.9-1.7 1-0.8 2-1.2 2.9-1.4 2.9-1.1 4-1 3.9-0.8" stroke="#3a96b6" stroke-width="1.0"/>
<path d="M325.4 502.4l69.7 0 10.8-0.1 6.9-0.1 5.8-0.4 4-0.5 1.9-0.4 2-0.6 2-0.9 0.9-0.5 2-1.4 1-0.9 1.9-2.2 2-3 1-1.8 1.9-4.4 2-5.4 2-6.5 1.9-7.3 4-15.4 2.9-10.5 2-5.9 0.9-2.5 1-2.3 2-4 2-3.1 1.9-2.5 2-1.9 1.9-1.6 3-1.8 2.9-1.4 3-1 3.9-1.1" stroke="#3a96b6" stroke-width="1.0"/>
<path d="M325.4 502.4l72.6 0 17.7-0.2 5.9-0.3 2.9-0.3 2-0.3 2.9-0.8 2-0.8 1-0.5 1.9-1.3 1-0.9 2-2.2 1-1.4 0.9-1.6 1-1.9 2-4.5 2-5.8 1.9-6.8 5.9-23.2 2-7 1.9-5.9 1-2.6 1-2.3 2-3.9 0.9-1.6 2-2.6 2-2.1 1.9-1.6 2-1.3 2.9-1.5 3-1.1 3.9-1.1" stroke="#3a96b6" stroke-width="1.0"/>
<path d="M325.4 502.4l75.6 0 17.6-0.2 5.9-0.3 4-0.5 1.9-0.4 2-0.6 1.9-0.8 1-0.5 2-1.4 1-0.9 1.9-2.2 1-1.4 1-1.6 1-1.9 1.9-4.5 1-2.7 2-6.1 1.9-7 4.9-18.5 2-6.6 2-5.6 1-2.5 1.9-4.1 1-1.7 2-2.8 1.9-2.2 2-1.7 1.9-1.4 2-1.1 3-1.2 2.9-1" stroke="#3a96b6" stroke-width="1.0"/>
<path d="M325.4 502.4l73.6 0 17.7-0.2 6.9-0.4 2.9-0.3 2-0.4 1.9-0.4 2-0.6 1.9-0.9 1-0.5 2-1.3 1-0.8 1.9-1.9 1-1.2 2-3 1-1.7 1.9-4.1 2-5 1.9-5.8 2-6.5 4.9-17.3 3-9.5 1.9-5.5 1-2.4 2-4.2 0.9-1.9 2-3.2 1-1.3 1.9-2.4 2-1.8 2-1.6 1.9-1.3 2-1" stroke="#3a96b6" stroke-width="1.0"/>
<path d="M325.4 502.4l77.5 0 17.7-0.2 5.9-0.3 4.9-0.5 2-0.4 1.9-0.5 2-0.7 1-0.5 1.9-1.1 1-0.8 2-1.8 1-1.2 1.9-2.8 1-1.7 2-4.1 1.9-5 2-5.9 1.9-6.6 4-13.8 2.9-9.4 2-5.4 1-2.3 1.9-4 2-3.3 1-1.4 1.9-2.3 1-0.9 2-1.7 1.9-1.3 2-1" stroke="#3a96b6" stroke-width="1.0"/>
<path d="M325.4 502.4l78.5 0 18.7-0.2 5.9-0.2 4.9-0.6 1.9-0.3 2-0.5 2.9-1.1 2-1.1 1-0.7 1.9-1.7 2-2.2 1-1.4 1.9-3.3 2-4.1 1-2.4 1.9-5.3 2-6 5.9-18.9 2-5.5 1.9-4.8 2-4 1-1.8 1.9-2.9 1-1.2 2-2.2 1.9-1.6 2-1.4" stroke="#3a96b6" stroke-width="1.0"/>
<path d="M325.4 502.4l79.5 0 18.7-0.2 6.8-0.2 4.9-0.6 2-0.3 1.9-0.5 3-1 2-1 0.9-0.6 2-1.6 1-1 1.9-2.3 1-1.4 2-3.3 1.9-4.1 2-4.8 2-5.4 5.9-17.5 1.9-5.2 2-4.6 1.9-4 1-1.7 2-2.9 2-2.4 0.9-1.1 2-1.7" stroke="#3a96b6" stroke-width="1.0"/>
<path d="M325.4 502.4l81.5 0 18.6-0.2 6.9-0.2 4.9-0.5 3.9-0.8 3-1 1.9-1 1-0.6 2-1.5 0.9-0.9 2-2.1 1-1.4 1.9-3.1 2-3.7 2-4.5 1.9-4.9 5.9-15.9 3-7 1.9-3.9 2-3.3 2-2.7 0.9-1.2 2-2" stroke="#3a96b6" stroke-width="1.0"/>
<path d="M325.4 502.4l19.7-0.1 13.7-0.3 9.8-0.4 7.8-0.7 4-0.6 2.9-0.5 3-0.7 2.9-0.8 2.9-0.9 3-1.3 2.9-1.4 2-1.2 2-1.3 1.9-1.5 2-1.6 2-1.9 1.9-2 2-2.3 1.9-2.5 2-2.7 2.9-4.4 4-6.5 3.9-7.2 7.8-14.7 4.9-8.7 3-4.7 2.9-4.2 2-2.6 2.9-3.4 3-3 2.9-2.5 3-2.1 1.9-1.2 2-1.1 2.9-1.4 4-1.4 3.9-1.1 4.9-1" stroke="#b5289a" stroke-width="1.0"/>
<path d="M325.4 502.4l19.7-0.1 12.7-0.3 10.8-0.5 7.8-0.7 4-0.5 3.9-0.7 2.9-0.7 3-0.8 2.9-1 3-1.2 2.9-1.4 2-1.1 2.9-2 2-1.4 2-1.7 1.9-1.8 2-2 1.9-2.2 4-4.9 2.9-4.2 3.9-6.1 4-6.7 8.8-15.5 4.9-8 2.9-4.4 2-2.7 2.9-3.7 2-2.3 2.9-3 3-2.6 2.9-2.2 3-1.9 2.9-1.6 3.9-1.7 4-1.3 3.9-1" stroke="#b5289a" stroke-width="1.0"/>
<path d="M325.4 502.4l21.6-0.1 13.8-0.2 10.7-0.5 8.9-0.7 3.9-0.4 3.9-0.6 3.9-0.8 3-0.8 2.9-0.9 3-1 2.9-1.3 2-1 2.9-1.7 2-1.3 3.9-3 3.9-3.7 4-4.2 3.9-4.9 3.9-5.4 11.8-17.5 4.9-6.9 2.9-3.8 2-2.3 3.9-4.3 2-1.9 2.9-2.5 3-2.2 2.9-1.9 3-1.6 2.9-1.4 3-1.1 2.9-1" stroke="#b5289a" stroke-width="1.0"/>
<path d="M325.4 502.4l20.6-0.1 12.8-0.1 9.8-0.3 7.8-0.4 7.9-0.8 5.9-1 4.9-1.3 2.9-1 2-0.7 3.9-1.9 4-2.4 3.9-2.9 3.9-3.6 2.9-3 4-4.6 2.9-3.6 8.8-11.5 4.9-5.9 3-3.1 2-2 1.9-1.7 3-2.4 2.9-2 2.9-1.8 3-1.4 3.9-1.6 3.9-1.1 4-0.9 3.9-0.7 4.9-0.6" stroke="#8b8b8b" stroke-width="1.0"/>
<path d="M325.4 502.4l21.6-0.1 13.8-0.1 10.7-0.3 8.9-0.4 7.8-0.8 5.9-0.9 3-0.6 2.9-0.7 4.9-1.6 3-1.2 1.9-1 3.9-2.2 4-2.6 3.9-3.2 2.9-2.7 4-3.9 11.7-12.9 4-4.1 4.9-4.7 2.9-2.4 2-1.4 1.9-1.4 3-1.7 2.9-1.6 3-1.2 2.9-1.1 3.9-1.2 3-0.7 3.9-0.7" stroke="#8b8b8b" stroke-width="1.0"/>
<path d="M325.4 502.4l66.8 0 11.7-0.1 8.9-0.2 7.8-0.5 5.9-0.7 4.9-0.9 2.9-0.9 2-0.7 2-0.9 1.9-1 2-1.2 2-1.5 1.9-1.7 2-1.9 2.9-3.5 3-4.2 2.9-4.7 3-5.2 6.8-12.8 3.9-6.6 2-3 2-2.7 1.9-2.4 2-2.1" stroke="#3a96b6" stroke-width="1.0"/>
<path d="M325.4 502.4l65.8 0 12.7-0.1 8.9-0.2 7.8-0.4 6.9-0.7 4.9-0.9 2.9-0.7 2-0.6 2.9-1.1 2-0.9 2-1.1 1.9-1.2 2-1.5 1.9-1.6 2-1.9 2-2.2 2.9-3.6 3-4.1 2.9-4.6 6.9-11.2 2.9-4.7 3-4.3 2.9-3.8" stroke="#3a96b6" stroke-width="1.0"/>
</g>
<rect x="317.7" y="393.55" width="168.3" height="114.4" fill="none" stroke="#cacaca" stroke-width="1"/>
<g clip-path="url(#cF2)" fill="none" stroke-linejoin="round" stroke-linecap="round">
<path d="M510.3 499.7l0.5-0.3 0.5-0.6 1.6-3.8 0.5-0.5 1.5-0.1 2.1-0.3 1.5-0.2 12.4-0.1 4.1-0.2 2.6-0.2 2.1-0.4 2-0.6 2.1-0.9 2-1.3 3.6-2.6 1.6-1 1-0.6 1-0.4 1.6-0.3 1-0.1 1 0.1 1.1 0.2 1.5 0.4 2.6 1.1 6.7 3.2 2.6 1 2.5 0.7 3.6 0.5 2.6 0.1 1.1-0.2 0.5-0.2 1-0.8 1-1.5 1.1-2.4 1-3.5 1-4.5 2.6-13.6 9.3-52.4 0.5-2.6 0.5-1.8 0.5-0.1 0.5 1.7 0.5 2.8 9.8 61.5 2.1 12.2 1 5.2 1 4.1 1.1 2.9 1 1.9 0.5 0.6 1 0.7 1.1 0.3 1.5 0.2 43.8 0" stroke="#8b8b8b" stroke-width="1.0"/>
<path d="M510.3 499.6l0.5-0.2 0.5-0.5 1.6-2.9 0.5-0.3 0.5-0.1 1 0 3.6-0.4 21.2-0.6 38.1-1.3 1.5-0.1 1-0.3 1.1-0.5 0.5-0.5 1-1.3 1-2.1 1.1-3 1-3.8 2.6-11.6 10.3-48.7 0.5-2 0.5-1 0.5 0.7 0.5 2 0.6 2.7 9.2 52.2 2.6 13.7 1.5 6.3 1.1 3 1 1.9 0.5 0.7 1 0.8 1.1 0.4 1.5 0.2 43.8 0" stroke="#8b8b8b" stroke-width="1.0"/>
<path d="M510.3 499.6l0.5-0.2 0.5-0.6 1.6-3.5 0.5-0.4 2-0.2 2.1-0.3 61.3-1.4 2.1-0.2 1-0.4 0.5-0.3 1-1 1.1-1.6 1-2.4 1-3.3 1-3.9 1.6-6.5 9.8-42.9 0.5-1.8 0.5-0.7 0.5 0.8 0.5 2 9.8 48.8 2.1 9.8 1 4.3 1 3.4 1.1 2.5 1 1.7 0.5 0.6 1 0.6 1.1 0.3 1.5 0.2 43.8 0" stroke="#8b8b8b" stroke-width="1.0"/>
<path d="M510.3 499.5l0.5-0.2 0.5-0.3 1.6-2.2 0.5-0.3 4.6-0.4 11.4-0.4 5.1-0.2 3.1-0.4 2.6-0.5 2-0.7 2.1-1.1 2-1.4 3.7-2.7 1.5-1 1-0.5 1.1-0.3 1.5-0.3 2.1 0.1 2.5 0.6 2.1 0.9 6.2 2.8 2.6 0.9 2 0.5 3.1 0.6 2.6 0.1 1.5-0.1 1.1-0.3 0.5-0.3 1-1 1-1.5 1.1-2.3 1-2.8 2.6-8.8 10.3-37.2 0.5-1.5 0.5-0.5 0.5 0.9 0.5 1.9 9.8 42.9 2.1 8.7 1 3.7 1 3 1.1 2.2 1 1.4 0.5 0.5 1 0.6 1.1 0.3 1.5 0.1 44.3 0" stroke="#8b8b8b" stroke-width="1.0"/>
<path d="M510.3 499.5l0.5-0.2 0.5-0.3 1.6-2.1 0.5-0.3 0.5 0 4.6-0.4 20.6-0.7 39.2-1.9 2-0.2 1.1-0.3 0.5-0.3 1-0.7 1-1.3 1.1-1.8 1-2.4 2.6-7.5 9.8-30.6 0.5-1.3 0.5-0.5 0.5 0.5 1 3.3 9.3 34.7 2.6 9.1 1.5 4.2 1.1 1.9 1 1.3 0.5 0.4 1 0.5 1.1 0.3 1.5 0.1 44.3 0" stroke="#8b8b8b" stroke-width="1.0"/>
<path d="M510.3 499.5l0.5-0.2 0.5-0.3 1.6-2.4 0.5-0.3 0.5-0.1 4.6-0.3 21.2-0.7 38.6-1.7 2-0.2 1.6-0.5 1-0.7 1-1.1 1.1-1.6 1-2 2.1-4.8 10.3-25.8 0.5-1 0.5-0.5 0.5 0.5 1 2.7 9.3 29.4 2.6 7.7 1.5 3.6 1.1 1.6 1 1.1 0.5 0.3 1 0.5 1.1 0.2 1.5 0.1 44.3 0" stroke="#8b8b8b" stroke-width="1.0"/>
<path d="M510.3 499.6l0.5-0.2 0.5-0.5 1.6-3 0.5-0.4 5.1-0.5 11.9-0.3 4.6-0.2 3.1-0.3 2.6-0.6 2-0.8 2.1-1.1 1.5-1 3.7-2.7 1.5-1 1.5-0.7 1.6-0.3 1-0.1 1 0.1 1.1 0.1 1.5 0.5 2.6 1 6.7 3.1 2.6 0.9 2 0.6 3.1 0.5 3.1 0.2 2.1 0 1.5-0.5 1-0.5 1.1-0.9 1-1.3 1-1.6 2.1-3.7 9.8-18.7 0.5-0.9 0.5-0.8 0.5-0.1 0.5 0.6 0.6 1.1 9.7 25.4 2.1 5.1 1 2.2 1.1 1.8 1 1.2 1 0.9 0.5 0.2 1.1 0.4 1 0.1 1.5 0.1 43.3 0" stroke="#8b8b8b" stroke-width="1.0"/>
<path d="M510.3 499.7l0.5-0.3 0.5-0.7 1.6-4.3 0.5-0.6 1.5-0.1 2.1-0.4 1.5-0.2 22.7-0.1 4.1-0.2 3.1-0.2 2.6-0.3 2.6-0.6 2-0.9 2.1-1.2 2-1.7 1.6-1.8 1.5-2.1 1.6-2.5 1.5-3 2.1-4.6 5.6-14.3 1.6-3.6 1-2.2 1.6-2.7 1-1.4 1-1 0.5-0.4 1.1-0.3 0.5 0 0.5 0.2 1 0.7 1.1 1.3 1.5 2.9 1 2.5 1.1 2.9 4.1 12.7 1.5 4.4 1.6 4 1.5 3.4 1.6 2.6 1 1.4 0.5 0.5 1 0.8 0.6 0.2 0.5 0 0.5-0.1 0.5-0.3 0.5-0.4 1-1.4 1.1-1.9 1-2.3 3.6-9.2 9.8-26.2 0.5-1 0.5-0.3 0.5 1 0.6 1.7 8.7 35.9 2.1 8 1 3.5 1 2.8 0.5 1.1 1.1 1.7 0.5 0.6 1 0.7 1 0.4 1.1 0.1 24.7 0.1" stroke="#3a96b6" stroke-width="1.0"/>
<path d="M510.3 499.7l0.5-0.3 0.5-0.7 1.6-4 0.5-0.6 1.5-0.1 2.1-0.3 1.5-0.2 22.2-0.2 4.6-0.1 3.1-0.2 2.6-0.3 2.6-0.6 2-0.6 2.1-1 2-1.4 1.6-1.4 1.5-1.8 1.6-2 1.5-2.4 2.1-3.7 5.6-11.6 2.6-4.7 1.6-2.2 1-1.1 1-0.8 0.5-0.3 1.1-0.3 1 0.2 1 0.6 1.1 1 1.5 2.4 2.1 4.2 4.1 10.2 1.5 3.6 1.6 3.2 1.5 2.7 1.6 2.1 1 1.1 0.5 0.4 1 0.5 0.6 0.1 0.5-0.1 0.5-0.3 0.5-0.3 0.5-0.6 0.5-0.7 1.1-1.9 1-2.4 3.6-9.9 10.3-29.8 0.5-1.1 0.5-0.3 0.5 1 0.6 1.9 8.7 38.1 2.1 8.6 1 3.7 1 3 0.5 1.2 1.1 1.7 0.5 0.7 1 0.8 1 0.4 1.1 0.1 2.6 0.1 22.1 0" stroke="#3a96b6" stroke-width="1.0"/>
<path d="M510.3 499.8l0.5-0.4 0.5-0.8 1.6-4.8 0.5-0.7 2-0.2 2.1-0.4 1.6-0.1 21.6 0 6.7-0.2 2.6-0.3 2.5-0.5 2.1-0.7 2-0.9 2.1-1.4 1.6-1.4 1.5-1.6 2.1-2.8 1.5-2.3 1.5-2.7 5.7-10.5 1.6-2.6 1-1.5 1.5-1.9 1.1-0.8 1-0.6 1-0.3 1.1 0.2 1 0.6 1 0.9 1.6 2.2 2 3.9 4.1 9.4 1.6 3.3 2 3.9 1.6 2.3 1 1.3 1 1 1.6 1.2 1 0.4 0.5 0.1 0.6-0.1 0.5-0.2 1-0.7 1-1.4 1.1-1.9 1-2.4 3.1-8.1 10.8-29.7 0.5-1 0.5-0.3 0.5 1 0.6 1.8 8.7 36.5 2.1 8.2 1 3.6 1 2.8 0.5 1.1 1.1 1.7 0.5 0.6 1 0.8 1 0.4 1.1 0.1 2.6 0.1 22.1 0" stroke="#3a96b6" stroke-width="1.0"/>
<path d="M510.3 499.8l0.5-0.4 0.5-0.7 1.6-4.6 0.5-0.6 1.5-0.1 2.1-0.4 1.5-0.2 21.2-0.1 7.2-0.3 2.5-0.3 2.1-0.3 2.1-0.7 2-0.9 2.1-1.2 1.5-1.3 1.6-1.5 2-2.5 1.6-2.2 1.5-2.4 5.7-9.6 1.5-2.4 1.1-1.4 1.5-1.7 1-0.8 1.1-0.5 1-0.2 1 0.1 1.1 0.5 1 0.9 1.5 2 2.1 3.6 4.1 8.5 1.6 3 2 3.5 1.6 2.1 1 1.2 1 1 1 0.8 1.1 0.6 1 0.4 0.5 0.1 1.1-0.1 0.5-0.1 1-0.7 1-1.2 1.1-1.6 1-2 3.1-6.8 10.8-24.7 0.5-0.8 0.5-0.2 0.5 0.8 0.6 1.6 8.7 31.3 2.1 7.1 1 3 1 2.5 0.5 1 1.1 1.4 0.5 0.5 1 0.7 1 0.3 1.1 0.1 24.7 0.1" stroke="#3a96b6" stroke-width="1.0"/>
<path d="M510.3 499.7l0.5-0.3 0.5-0.6 1.6-3.8 0.5-0.5 1.5-0.1 2.1-0.4 1.5-0.1 18.1-0.3 7.2-0.3 2.5-0.3 2.6-0.5 2.1-0.6 2-0.9 2.1-1.2 1.5-1.2 1.6-1.4 1.5-1.7 1.6-2 1.5-2.1 5.7-8.5 1.5-2.1 1.1-1.2 1.5-1.5 1-0.7 1.1-0.5 1-0.2 1 0.1 1.1 0.5 1 0.7 1.5 1.7 2.1 3.1 4.1 7.4 2.1 3.4 2 2.9 1.6 1.7 2 1.7 1.1 0.6 1.5 0.8 1.6 0.5 1 0.1 1 0.1 1.1-0.2 1-0.5 1-0.7 1-1.1 1.1-1.4 2.5-4 11.9-19.5 0.5-0.6 0.5-0.1 0.5 0.6 0.6 1.3 8.7 24.3 2.1 5.4 1 2.4 1 1.9 0.5 0.8 1.1 1.1 0.5 0.4 1 0.5 1 0.3 1.1 0.1 24.7 0" stroke="#3a96b6" stroke-width="1.0"/>
<path d="M510.3 499.6l0.5-0.2 0.5-0.5 1.6-3 0.5-0.4 5.1-0.5 16-0.4 7.2-0.4 2.6-0.3 2.6-0.5 2-0.6 2.1-0.8 2-1.1 1.6-1.1 1.5-1.3 1.6-1.5 3.1-3.7 5.6-7.6 2.6-3 1.6-1.3 1-0.7 1-0.5 1-0.1 1.1 0 1 0.4 1 0.6 1.6 1.5 2 2.8 4.2 6.5 2 3 2.1 2.5 2 2 1.1 0.7 1.5 0.9 1 0.4 1.6 0.5 1.5 0.4 1.6 0.1 1.5-0.1 1.1-0.3 1-0.6 1-0.9 1-1.3 1.1-1.6 2.5-4.7 11.9-22.6 0.5-0.7 0.5-0.2 0.5 0.8 0.6 1.3 8.7 27.1 2.1 6.1 1 2.6 1 2.2 0.5 0.8 1.1 1.2 0.5 0.5 1 0.6 1 0.2 1.1 0.1 24.7 0.1" stroke="#3a96b6" stroke-width="1.0"/>
<path d="M510.3 499.7l0.5-0.3 0.5-0.7 1.6-4.3 0.5-0.6 1.5-0.1 2.1-0.4 1.5-0.1 15.5-0.2 6.2-0.2 2.5-0.3 2.1-0.3 2.1-0.5 2-0.6 2.6-1.1 3.1-1.8 2.6-1.8 5.1-4 2.1-1.4 1.5-0.9 1-0.4 1.1-0.3 1-0.2 1 0 1.1 0.1 1 0.3 1.5 0.8 1.1 0.7 1.5 1.2 4.7 4.3 2 1.7 2.1 1.4 2.5 1.3 1.6 0.5 1.5 0.4 3.1 0.4 4.7 0.2 1.5-0.1 1-0.2 1.1-0.4 1-0.6 1-0.9 1.1-1.1 2.5-3.7 12.4-18.7 0.5-0.5 0.5-0.1 0.5 0.7 0.6 1.1 8.7 22.8 2.1 5.2 1 2.2 1 1.8 0.5 0.7 1.1 1.1 0.5 0.3 1 0.5 1 0.3 1.1 0.1 24.7 0" stroke="#3a96b6" stroke-width="1.0"/>
<path d="M510.3 499.8l0.5-0.4 0.5-1 1.6-6.1 0.5-0.8 2-0.2 1.6-0.4 1-0.1 2.6 0 12.4 0.4 42.7 1.6 22.1 0.7 20.1 0.5 2.1-0.2 1-0.3 1.1-0.7 0.5-0.6 1-1.5 1-2.3 1.1-3 2.5-9.2 9.8-37.8 0.5-1.5 0.5-0.6 0.6 0.9 0.5 1.8 11.3 50 1.6 5.9 1 3 0.5 1.2 1 1.8 0.5 0.6 1.1 0.9 1 0.4 1 0.1 5.7 0.1" stroke="#b5289a" stroke-width="1.0"/>
<path d="M510.3 499.8l0.5-0.4 0.5-1 1.6-5.8 0.5-0.8 2-0.2 1.6-0.4 1-0.1 2.6 0 11.3 0.3 44.8 1.6 24.2 0.6 17 0.4 2.1-0.2 1-0.3 1.1-0.7 0.5-0.5 1-1.6 1-2.3 1.1-3 2.5-9.2 9.8-37.8 0.5-1.5 0.5-0.6 0.6 0.9 0.5 1.8 11.3 50 1.6 5.9 1 3 0.5 1.2 1 1.8 0.5 0.6 1.1 0.9 1 0.4 1 0.1 5.7 0.1" stroke="#b5289a" stroke-width="1.0"/>
<path d="M510.3 499.8l0.5-0.4 0.5-0.9 1.6-5.6 0.5-0.7 2-0.2 1.6-0.4 1-0.1 11.4 0.2 50.4 1.5 29.4 0.7 9.2 0.1 1.6-0.1 1-0.4 1.1-0.7 0.5-0.5 1-1.6 1-2.2 1.1-3 2.5-9.3 9.8-37.7 0.5-1.6 0.5-0.6 0.6 0.9 0.5 1.8 11.3 50 1.6 5.9 1 3 0.5 1.2 1 1.8 0.5 0.6 1.1 0.9 1 0.4 1 0.1 5.7 0.1" stroke="#b5289a" stroke-width="1.0"/>
<path d="M510.3 499.8l0.5-0.4 0.5-1 1.6-6 0.5-0.8 2-0.2 1.6-0.4 1-0.1 2.6 0 12.4 0.4 43.2 1.6 22.7 0.7 19 0.4 2.1-0.2 1-0.3 1.1-0.7 0.5-0.6 1-1.5 1-2.3 1.1-3 2.5-9.2 9.8-37.8 0.5-1.5 0.5-0.6 0.6 0.9 0.5 1.8 11.3 50 1.6 5.9 1 3 0.5 1.2 1 1.8 0.5 0.6 1.1 0.9 1 0.4 1 0.1 5.7 0.1" stroke="#b5289a" stroke-width="1.0"/>
<path d="M510.3 499.8l0.5-0.4 0.5-0.9 1.6-5.6 0.5-0.8 2-0.1 1.6-0.4 1-0.1 11.9 0.2 49.4 1.5 28.8 0.6 10.3 0.2 1.6-0.1 1-0.4 1.1-0.7 0.5-0.5 1-1.6 1-2.2 1.1-3 2.5-9.3 9.8-37.7 0.5-1.6 0.5-0.6 0.6 0.9 0.5 1.8 11.3 50 1.6 5.9 1 3 0.5 1.2 1 1.8 0.5 0.6 1.1 0.9 1 0.4 1 0.1 5.7 0.1" stroke="#b5289a" stroke-width="1.0"/>
<path d="M510.3 499.9l0.5-0.5 0.5-1 1.6-6.3 0.5-0.9 2-0.2 1.6-0.4 1-0.1 3.1 0 12.9 0.4 40.7 1.8 21.1 0.7 22.1 0.6 2.1-0.2 1-0.3 1.1-0.7 0.5-0.6 1-1.5 1-2.3 1.1-3 2.5-9.3 9.8-37.7 0.5-1.5 0.5-0.6 0.6 0.9 0.5 1.8 11.3 50 1.6 5.9 1 3 0.5 1.2 1 1.8 0.5 0.6 1.1 0.9 1 0.4 1 0.1 5.7 0.1" stroke="#b5289a" stroke-width="1.0"/>
<path d="M510.3 499.7l0.5-0.3 0.5-0.6 1.6-3.5 0.5-0.5 2-0.2 2.1-0.3 60.3-1.3 27.8-0.3 1.5-0.1 1.6-0.3 1-0.5 1-0.6 1.1-1 1-1.3 2.6-4 12.3-20.6 0.5-0.6 0.5-0.1 0.6 0.7 0.5 1.2 8.7 24.5 2.1 5.5 1.5 3.4 0.6 0.9 1 1.4 0.5 0.5 1 0.7 1.1 0.4 1 0.1 2.6 0.1 14.9 0" stroke="#3a96b6" stroke-width="1.0"/>
<path d="M510.3 499.6l0.5-0.2 0.5-0.6 1.6-3.3 0.5-0.5 2-0.1 2.1-0.3 23.7-0.5 37.1-1 27.3-0.4 1.5-0.1 1.6-0.3 1-0.4 1-0.7 1.1-1 1-1.3 2.6-4 12.3-20.6 0.5-0.6 0.5-0.1 0.6 0.7 0.5 1.2 8.7 24.5 2.1 5.5 1.5 3.4 0.6 0.9 1 1.4 0.5 0.5 1 0.7 1.1 0.4 1 0.1 2.6 0.1 14.9 0" stroke="#3a96b6" stroke-width="1.0"/>
<path d="M510.3 499.5l0.5-0.2 0.5-0.3 1.6-1.6 0.5-0.3 4.1-0.3 21.6-0.9 40.7-2.2 11.9-0.4 14.4-0.4 1.5-0.2 1.1-0.2 1-0.4 1-0.7 1.1-1 1-1.3 2.6-4.1 12.3-20.6 0.5-0.6 0.5-0.1 0.6 0.7 0.5 1.2 8.7 24.4 2.1 5.5 1.5 3.4 0.6 0.9 1 1.4 0.5 0.5 1 0.7 1.1 0.4 1 0.1 2.6 0.1 14.9 0" stroke="#3a96b6" stroke-width="1.0"/>
<path d="M510.3 499.5l0.5-0.2 0.5-0.3 1.6-2.1 0.5-0.3 4.1-0.4 21.6-0.7 40.2-1.9 11.9-0.4 14.9-0.4 1.5-0.1 1.1-0.3 1-0.4 1-0.7 1.1-1 1-1.3 2.6-4 12.3-20.6 0.5-0.6 0.5-0.1 0.6 0.6 0.5 1.2 8.7 24.5 2.1 5.5 1.5 3.4 0.6 0.9 1 1.4 0.5 0.5 1 0.7 1.1 0.4 1 0.1 2.6 0.1 14.9 0" stroke="#3a96b6" stroke-width="1.0"/>
<path d="M510.3 499.6l0.5-0.2 0.5-0.5 1.6-2.7 0.5-0.4 2-0.1 2.1-0.3 22.2-0.6 39.1-1.5 26.8-0.5 1.5-0.1 1.6-0.3 1-0.5 1-0.6 1.1-1 1-1.3 2.6-4 12.3-20.6 0.5-0.7 0.5-0.1 0.6 0.7 0.5 1.2 8.7 24.5 2.1 5.5 1.5 3.4 0.6 0.9 1 1.4 0.5 0.5 1 0.7 1.1 0.4 1 0.1 2.6 0.1 14.9 0" stroke="#3a96b6" stroke-width="1.0"/>
<path d="M510.3 499.8l0.5-0.4 0.5-0.8 1.6-4.8 0.5-0.6 2-0.2 1.6-0.4 1-0.1 86.5 0 2.6-0.1 1.6-0.3 1.5-0.7 1-0.8 1.1-1.2 1-1.4 2.6-4.1 11.8-19.6 0.5-0.7 0.5-0.1 0.6 0.7 0.5 1.2 8.7 24.6 2.1 5.5 1.5 3.4 0.6 0.9 1 1.4 0.5 0.5 1 0.7 1.1 0.4 1 0.1 2.6 0.1 14.9 0" stroke="#3a96b6" stroke-width="1.0"/>
<path d="M510.3 499.7l0.5-0.3 0.5-0.6 1.6-3.6 0.5-0.5 2-0.2 2.1-0.3 60.3-1.2 27.8-0.4 1.5 0 1.6-0.3 1-0.5 1-0.6 1.1-1 1-1.3 2.6-4 12.3-20.6 0.5-0.6 0.5-0.1 0.6 0.7 0.5 1.2 8.7 24.5 2.1 5.5 1.5 3.4 0.6 0.9 1 1.4 0.5 0.5 1 0.7 1.1 0.4 1 0.1 2.6 0.1 14.9 0" stroke="#3a96b6" stroke-width="1.0"/>
<path d="M510.3 499.5l0.5-0.1 0.5-0.5 1.6-2.5 0.5-0.3 2-0.2 2.1-0.2 22.2-0.7 39.6-1.6 26.3-0.6 1.5-0.1 1.6-0.3 1-0.4 1-0.7 1.1-1 1-1.3 2.6-4 12.3-20.6 0.5-0.7 0.5 0 0.6 0.6 0.5 1.2 8.7 24.5 2.1 5.5 1.5 3.4 0.6 0.9 1 1.4 0.5 0.5 1 0.7 1.1 0.4 1 0.1 2.6 0.1 14.9 0" stroke="#3a96b6" stroke-width="1.0"/>
</g>
<rect x="502.7" y="393.55" width="167.3" height="114.4" fill="none" stroke="#cacaca" stroke-width="1"/>
<path d="M-53.5 186.9v2.2" stroke="#cacaca" stroke-width="0.9" fill="none"/>
<path d="M-19.0 186.9v2.2" stroke="#cacaca" stroke-width="0.9" fill="none"/>
<path d="M15.5 186.9v2.2" stroke="#cacaca" stroke-width="0.9" fill="none"/>
<path d="M50.0 186.9v2.2" stroke="#cacaca" stroke-width="0.9" fill="none"/>
<path d="M84.5 186.9v2.2" stroke="#cacaca" stroke-width="0.9" fill="none"/>
<path d="M156.5 186.9v2.2" stroke="#cacaca" stroke-width="0.9" fill="none"/>
<path d="M201.2 186.9v2.2" stroke="#cacaca" stroke-width="0.9" fill="none"/>
<path d="M245.9 186.9v2.2" stroke="#cacaca" stroke-width="0.9" fill="none"/>
<path d="M290.6 186.9v2.2" stroke="#cacaca" stroke-width="0.9" fill="none"/>
<path d="M-53.5 346.4v2.2" stroke="#cacaca" stroke-width="0.9" fill="none"/>
<path d="M-19.0 346.4v2.2" stroke="#cacaca" stroke-width="0.9" fill="none"/>
<path d="M15.5 346.4v2.2" stroke="#cacaca" stroke-width="0.9" fill="none"/>
<path d="M50.0 346.4v2.2" stroke="#cacaca" stroke-width="0.9" fill="none"/>
<path d="M84.5 346.4v2.2" stroke="#cacaca" stroke-width="0.9" fill="none"/>
<path d="M156.5 346.4v2.2" stroke="#cacaca" stroke-width="0.9" fill="none"/>
<path d="M201.2 346.4v2.2" stroke="#cacaca" stroke-width="0.9" fill="none"/>
<path d="M245.9 346.4v2.2" stroke="#cacaca" stroke-width="0.9" fill="none"/>
<path d="M290.6 346.4v2.2" stroke="#cacaca" stroke-width="0.9" fill="none"/>
<path d="M-53.5 507.0v2.2" stroke="#cacaca" stroke-width="0.9" fill="none"/>
<path d="M-19.0 507.0v2.2" stroke="#cacaca" stroke-width="0.9" fill="none"/>
<path d="M15.5 507.0v2.2" stroke="#cacaca" stroke-width="0.9" fill="none"/>
<path d="M50.0 507.0v2.2" stroke="#cacaca" stroke-width="0.9" fill="none"/>
<path d="M84.5 507.0v2.2" stroke="#cacaca" stroke-width="0.9" fill="none"/>
<path d="M156.5 507.0v2.2" stroke="#cacaca" stroke-width="0.9" fill="none"/>
<path d="M201.2 507.0v2.2" stroke="#cacaca" stroke-width="0.9" fill="none"/>
<path d="M245.9 507.0v2.2" stroke="#cacaca" stroke-width="0.9" fill="none"/>
<path d="M290.6 507.0v2.2" stroke="#cacaca" stroke-width="0.9" fill="none"/>
<path d="M323.4 186.5v2.2" stroke="#cacaca" stroke-width="0.9" fill="none"/>
<path d="M357.8 186.5v2.2" stroke="#cacaca" stroke-width="0.9" fill="none"/>
<path d="M392.2 186.5v2.2" stroke="#cacaca" stroke-width="0.9" fill="none"/>
<path d="M426.6 186.5v2.2" stroke="#cacaca" stroke-width="0.9" fill="none"/>
<path d="M461.0 186.5v2.2" stroke="#cacaca" stroke-width="0.9" fill="none"/>
<path d="M510.3 186.5v2.2" stroke="#cacaca" stroke-width="0.9" fill="none"/>
<path d="M536.0 186.5v2.2" stroke="#cacaca" stroke-width="0.9" fill="none"/>
<path d="M561.8 186.5v2.2" stroke="#cacaca" stroke-width="0.9" fill="none"/>
<path d="M587.5 186.5v2.2" stroke="#cacaca" stroke-width="0.9" fill="none"/>
<path d="M613.3 186.5v2.2" stroke="#cacaca" stroke-width="0.9" fill="none"/>
<path d="M639.0 186.5v2.2" stroke="#cacaca" stroke-width="0.9" fill="none"/>
<path d="M664.8 186.5v2.2" stroke="#cacaca" stroke-width="0.9" fill="none"/>
<path d="M319.7 347.4v2.2" stroke="#cacaca" stroke-width="0.9" fill="none"/>
<path d="M358.8 347.4v2.2" stroke="#cacaca" stroke-width="0.9" fill="none"/>
<path d="M398.0 347.4v2.2" stroke="#cacaca" stroke-width="0.9" fill="none"/>
<path d="M437.1 347.4v2.2" stroke="#cacaca" stroke-width="0.9" fill="none"/>
<path d="M476.3 347.4v2.2" stroke="#cacaca" stroke-width="0.9" fill="none"/>
<path d="M530.9 347.3v2.2" stroke="#cacaca" stroke-width="0.9" fill="none"/>
<path d="M575.5 347.3v2.2" stroke="#cacaca" stroke-width="0.9" fill="none"/>
<path d="M620.2 347.3v2.2" stroke="#cacaca" stroke-width="0.9" fill="none"/>
<path d="M665.0 347.3v2.2" stroke="#cacaca" stroke-width="0.9" fill="none"/>
<path d="M321.5 508.0v2.2" stroke="#cacaca" stroke-width="0.9" fill="none"/>
<path d="M360.8 508.0v2.2" stroke="#cacaca" stroke-width="0.9" fill="none"/>
<path d="M400.0 508.0v2.2" stroke="#cacaca" stroke-width="0.9" fill="none"/>
<path d="M439.2 508.0v2.2" stroke="#cacaca" stroke-width="0.9" fill="none"/>
<path d="M478.5 508.0v2.2" stroke="#cacaca" stroke-width="0.9" fill="none"/>
<path d="M510.3 508.0v2.2" stroke="#cacaca" stroke-width="0.9" fill="none"/>
<path d="M536.0 508.0v2.2" stroke="#cacaca" stroke-width="0.9" fill="none"/>
<path d="M561.8 508.0v2.2" stroke="#cacaca" stroke-width="0.9" fill="none"/>
<path d="M587.5 508.0v2.2" stroke="#cacaca" stroke-width="0.9" fill="none"/>
<path d="M613.3 508.0v2.2" stroke="#cacaca" stroke-width="0.9" fill="none"/>
<path d="M639.0 508.0v2.2" stroke="#cacaca" stroke-width="0.9" fill="none"/>
<path d="M664.8 508.0v2.2" stroke="#cacaca" stroke-width="0.9" fill="none"/>
<g font-family='"Liberation Sans", sans-serif' font-size="8.6" fill="#909090">
<text x="-53.5" y="197.3" text-anchor="middle">0</text>
<text x="-19.0" y="197.3" text-anchor="middle">10</text>
<text x="15.5" y="197.3" text-anchor="middle">20</text>
<text x="50.0" y="197.3" text-anchor="middle">30</text>
<text x="84.5" y="197.3" text-anchor="middle">40</text>
<text x="156.5" y="197.3" text-anchor="middle">70</text>
<text x="201.2" y="197.3" text-anchor="middle">80</text>
<text x="245.9" y="197.3" text-anchor="middle">90</text>
<text x="290.6" y="197.3" text-anchor="middle">100</text>
<text x="25.7" y="206.5" text-anchor="middle" textLength="19.3" lengthAdjust="spacingAndGlyphs">Cycle</text>
<text x="210.0" y="206.5" text-anchor="middle" textLength="63.8" lengthAdjust="spacingAndGlyphs">Temperature (°C)</text>
<text transform="translate(122.0 129.8) rotate(-90)" text-anchor="middle" textLength="26.0" lengthAdjust="spacingAndGlyphs">−dF/dT</text>
<text x="402.4" y="206.1" text-anchor="middle" textLength="19.3" lengthAdjust="spacingAndGlyphs">Cycle</text>
<text x="586.2" y="206.1" text-anchor="middle" textLength="63.8" lengthAdjust="spacingAndGlyphs">Temperature (°C)</text>
<text transform="translate(315.7 129.6) rotate(-90)" text-anchor="middle" textLength="48.4" lengthAdjust="spacingAndGlyphs">Fluorescence</text>
<text transform="translate(498.1 129.6) rotate(-90)" text-anchor="middle" textLength="26.0" lengthAdjust="spacingAndGlyphs">−dF/dT</text>
<text transform="translate(-61.0 129.8) rotate(-90)" text-anchor="middle" textLength="48.4" lengthAdjust="spacingAndGlyphs">Fluorescence</text>
<text x="-53.5" y="356.8" text-anchor="middle">0</text>
<text x="-19.0" y="356.8" text-anchor="middle">10</text>
<text x="15.5" y="356.8" text-anchor="middle">20</text>
<text x="50.0" y="356.8" text-anchor="middle">30</text>
<text x="84.5" y="356.8" text-anchor="middle">40</text>
<text x="156.5" y="356.8" text-anchor="middle">70</text>
<text x="201.2" y="356.8" text-anchor="middle">80</text>
<text x="245.9" y="356.8" text-anchor="middle">90</text>
<text x="290.6" y="356.8" text-anchor="middle">100</text>
<text x="25.7" y="366.0" text-anchor="middle" textLength="19.3" lengthAdjust="spacingAndGlyphs">Cycle</text>
<text x="209.9" y="366.0" text-anchor="middle" textLength="63.8" lengthAdjust="spacingAndGlyphs">Temperature (°C)</text>
<text transform="translate(122.0 289.7) rotate(-90)" text-anchor="middle" textLength="26.0" lengthAdjust="spacingAndGlyphs">−dF/dT</text>
<text x="399.7" y="367.0" text-anchor="middle" textLength="19.3" lengthAdjust="spacingAndGlyphs">Cycle</text>
<text x="584.2" y="366.9" text-anchor="middle" textLength="63.8" lengthAdjust="spacingAndGlyphs">Temperature (°C)</text>
<text transform="translate(312.6 290.2) rotate(-90)" text-anchor="middle" textLength="48.4" lengthAdjust="spacingAndGlyphs">Fluorescence</text>
<text transform="translate(496.0 290.1) rotate(-90)" text-anchor="middle" textLength="26.0" lengthAdjust="spacingAndGlyphs">−dF/dT</text>
<text transform="translate(-61.0 289.7) rotate(-90)" text-anchor="middle" textLength="48.4" lengthAdjust="spacingAndGlyphs">Fluorescence</text>
<text x="-53.5" y="517.4" text-anchor="middle">0</text>
<text x="-19.0" y="517.4" text-anchor="middle">10</text>
<text x="15.5" y="517.4" text-anchor="middle">20</text>
<text x="50.0" y="517.4" text-anchor="middle">30</text>
<text x="84.5" y="517.4" text-anchor="middle">40</text>
<text x="156.5" y="517.4" text-anchor="middle">70</text>
<text x="201.2" y="517.4" text-anchor="middle">80</text>
<text x="245.9" y="517.4" text-anchor="middle">90</text>
<text x="290.6" y="517.4" text-anchor="middle">100</text>
<text x="25.7" y="526.6" text-anchor="middle" textLength="19.3" lengthAdjust="spacingAndGlyphs">Cycle</text>
<text x="209.8" y="526.6" text-anchor="middle" textLength="63.8" lengthAdjust="spacingAndGlyphs">Temperature (°C)</text>
<text transform="translate(122.0 450.3) rotate(-90)" text-anchor="middle" textLength="26.0" lengthAdjust="spacingAndGlyphs">−dF/dT</text>
<text x="401.9" y="527.6" text-anchor="middle" textLength="19.3" lengthAdjust="spacingAndGlyphs">Cycle</text>
<text x="586.4" y="527.6" text-anchor="middle" textLength="63.8" lengthAdjust="spacingAndGlyphs">Temperature (°C)</text>
<text transform="translate(314.7 450.8) rotate(-90)" text-anchor="middle" textLength="48.4" lengthAdjust="spacingAndGlyphs">Fluorescence</text>
<text transform="translate(498.3 450.8) rotate(-90)" text-anchor="middle" textLength="26.0" lengthAdjust="spacingAndGlyphs">−dF/dT</text>
<text transform="translate(-61.0 450.3) rotate(-90)" text-anchor="middle" textLength="48.4" lengthAdjust="spacingAndGlyphs">Fluorescence</text>
<text x="323.4" y="196.9" text-anchor="middle">0</text>
<text x="357.8" y="196.9" text-anchor="middle">10</text>
<text x="392.2" y="196.9" text-anchor="middle">20</text>
<text x="426.6" y="196.9" text-anchor="middle">30</text>
<text x="461.0" y="196.9" text-anchor="middle">40</text>
<text x="510.3" y="196.9" text-anchor="middle">65</text>
<text x="536.0" y="196.9" text-anchor="middle">70</text>
<text x="561.8" y="196.9" text-anchor="middle">75</text>
<text x="587.5" y="196.9" text-anchor="middle">80</text>
<text x="613.3" y="196.9" text-anchor="middle">85</text>
<text x="639.0" y="196.9" text-anchor="middle">90</text>
<text x="664.8" y="196.9" text-anchor="middle">95</text>
<text x="319.7" y="357.8" text-anchor="middle">0</text>
<text x="358.8" y="357.8" text-anchor="middle">10</text>
<text x="398.0" y="357.8" text-anchor="middle">20</text>
<text x="437.1" y="357.8" text-anchor="middle">30</text>
<text x="476.3" y="357.8" text-anchor="middle">40</text>
<text x="530.9" y="357.7" text-anchor="middle">70</text>
<text x="575.5" y="357.7" text-anchor="middle">80</text>
<text x="620.2" y="357.7" text-anchor="middle">90</text>
<text x="665.0" y="357.7" text-anchor="middle">100</text>
<text x="321.5" y="518.4" text-anchor="middle">0</text>
<text x="360.8" y="518.4" text-anchor="middle">10</text>
<text x="400.0" y="518.4" text-anchor="middle">20</text>
<text x="439.2" y="518.4" text-anchor="middle">30</text>
<text x="478.5" y="518.4" text-anchor="middle">40</text>
<text x="510.3" y="518.4" text-anchor="middle">65</text>
<text x="536.0" y="518.4" text-anchor="middle">70</text>
<text x="561.8" y="518.4" text-anchor="middle">75</text>
<text x="587.5" y="518.4" text-anchor="middle">80</text>
<text x="613.3" y="518.4" text-anchor="middle">85</text>
<text x="639.0" y="518.4" text-anchor="middle">90</text>
<text x="664.8" y="518.4" text-anchor="middle">95</text>
</g>
<g font-family='"Liberation Sans", sans-serif' font-size="17.2" fill="#939393">
<text transform="translate(-55.5 89.8) scale(0.9 1)">A</text>
<text transform="translate(320.8 89.8) scale(0.84 1)">B</text>
<text transform="translate(-55.5 250.2) scale(0.9 1)">C</text>
<text transform="translate(320.8 250.2) scale(0.97 1)">D</text>
<text transform="translate(-55.5 411.1) scale(0.85 1)">E</text>
<text transform="translate(320.8 411.1) scale(0.76 1)">F</text>
</g>
</svg>
</body>
</html>
